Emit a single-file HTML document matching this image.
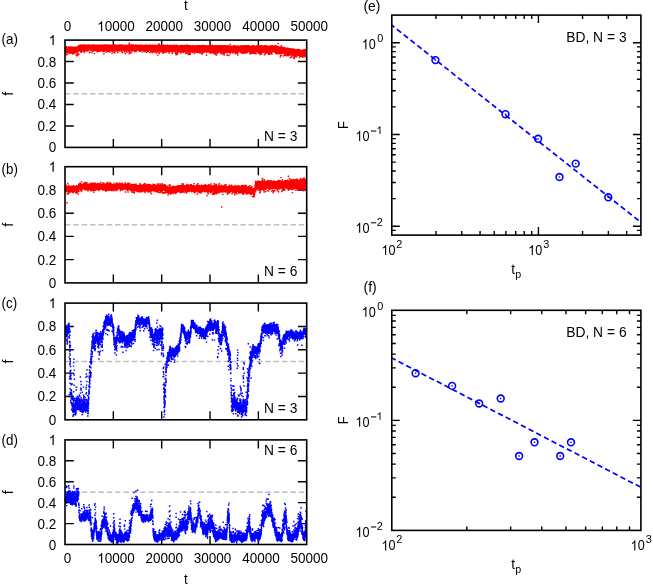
<!DOCTYPE html>
<html><head><meta charset="utf-8"><title>figure</title>
<style>html,body{margin:0;padding:0;background:#fff}svg{display:block;will-change:transform}text{font-family:"Liberation Sans", sans-serif;fill:#000}</style>
</head><body>
<svg width="653" height="585" viewBox="0 0 653 585">
<rect width="653" height="585" fill="#fff"/>
<path d="M65 125.94h8.8M306.7 125.94h-8.8M65 104.48h8.8M306.7 104.48h-8.8M65 83.02h8.8M306.7 83.02h-8.8M65 61.56h8.8M306.7 61.56h-8.8M113.34 147.4v-8.5M113.34 40.1v8.5M161.68 147.4v-8.5M161.68 40.1v8.5M210.02 147.4v-8.5M210.02 40.1v8.5M258.36 147.4v-8.5M258.36 40.1v8.5" stroke="#000" stroke-width="1.4" fill="none"/>
<path d="M65 93.75H306.7" stroke="#bebebe" stroke-width="1.4" stroke-dasharray="5.45 2.9" fill="none"/>
<path d="M65 259.66h8.8M306.7 259.66h-8.8M65 236.42h8.8M306.7 236.42h-8.8M65 213.18h8.8M306.7 213.18h-8.8M65 189.94h8.8M306.7 189.94h-8.8M113.34 282.9v-8.5M113.34 166.7v8.5M161.68 282.9v-8.5M161.68 166.7v8.5M210.02 282.9v-8.5M210.02 166.7v8.5M258.36 282.9v-8.5M258.36 166.7v8.5" stroke="#000" stroke-width="1.4" fill="none"/>
<path d="M65 224.8H306.7" stroke="#bebebe" stroke-width="1.4" stroke-dasharray="5.45 2.9" fill="none"/>
<path d="M65 396.46h8.8M306.7 396.46h-8.8M65 373.12h8.8M306.7 373.12h-8.8M65 349.78h8.8M306.7 349.78h-8.8M65 326.44h8.8M306.7 326.44h-8.8M113.34 419.8v-8.5M113.34 303.1v8.5M161.68 419.8v-8.5M161.68 303.1v8.5M210.02 419.8v-8.5M210.02 303.1v8.5M258.36 419.8v-8.5M258.36 303.1v8.5" stroke="#000" stroke-width="1.4" fill="none"/>
<path d="M65 361.45H306.7" stroke="#bebebe" stroke-width="1.4" stroke-dasharray="5.45 2.9" fill="none"/>
<path d="M65 523.58h8.8M306.7 523.58h-8.8M65 502.66h8.8M306.7 502.66h-8.8M65 481.74h8.8M306.7 481.74h-8.8M65 460.82h8.8M306.7 460.82h-8.8M113.34 544.5v-8.5M113.34 439.9v8.5M161.68 544.5v-8.5M161.68 439.9v8.5M210.02 544.5v-8.5M210.02 439.9v8.5M258.36 544.5v-8.5M258.36 439.9v8.5" stroke="#000" stroke-width="1.4" fill="none"/>
<path d="M65 492.2H306.7" stroke="#bebebe" stroke-width="1.4" stroke-dasharray="5.45 2.9" fill="none"/>
<path d="M65 47.2L65.7 47L66.4 47L67.1 47L67.8 46.8L68.5 46.8L69.2 47.1L69.9 47.2L70.6 47L71.3 46.8L72 47L72.7 47.2L73.4 47.2L74.1 47L74.8 46.7L75.5 47.1L76.2 47.1L76.9 47L77.6 46.9L78.3 46L79 44.9L79.7 45.1L80.4 45L81.1 44.6L81.8 45.1L82.5 44.8L83.2 44.8L83.9 45L84.6 44.7L85.3 44.8L86 45L86.7 44.7L87.4 44.7L88.1 44.8L88.8 44.6L89.5 44.9L90.2 45L90.9 45.1L91.6 44.8L92.3 44.6L93 44.7L93.7 44.8L94.4 44.7L95.1 44.9L95.8 45L96.5 44.9L97.2 44.6L97.9 44.6L98.6 45.1L99.3 45L100 44.9L100.7 44.6L101.4 45L102.1 44.9L102.8 45L103.5 44.6L104.2 45L104.9 44.9L105.6 44.9L106.3 44.6L107 45.1L107.7 44.8L108.4 45L109.1 45L109.8 44.6L110.5 44.9L111.2 45.1L111.9 44.8L112.6 44.9L113.3 44.6L114 44.7L114.7 45L115.4 44.9L116.1 44.9L116.8 44.7L117.5 44.9L118.2 44.7L118.9 44.8L119.6 44.6L120.3 44.6L121 44.9L121.7 45L122.4 45.1L123.1 44.7L123.8 45.1L124.5 44.9L125.2 45.1L125.9 45.2L126.6 44.9L127.3 44.9L128 45L128.7 45.2L129.4 44.7L130.1 45L130.8 44.9L131.5 44.8L132.2 45.1L132.9 45.1L133.6 44.9L134.3 45.1L135 44.9L135.7 45.2L136.4 45.2L137.1 44.8L137.8 44.9L138.5 45.2L139.2 44.7L139.9 44.7L140.6 44.8L141.3 45.2L142 44.9L142.7 45.2L143.4 44.8L144.1 45.1L144.8 44.9L145.5 45L146.2 45L146.9 44.9L147.6 45.3L148.3 45.1L149 45.2L149.7 45.1L150.4 44.8L151.1 45.2L151.8 45.2L152.5 45L153.2 45.1L153.9 45.2L154.6 45.2L155.3 45.2L156 45.4L156.7 45.1L157.4 45L158.1 45.2L158.8 45.2L159.5 44.9L160.2 45.1L160.9 45L161.6 45L162.3 44.9L163 45L163.7 45.3L164.4 45.2L165.1 45.3L165.8 45.4L166.5 45.1L167.2 45.1L167.9 45.5L168.6 45.1L169.3 45L170 45.3L170.7 45.1L171.4 45.4L172.1 45.3L172.8 45.2L173.5 45.4L174.2 45.3L174.9 45.4L175.6 45.2L176.3 45.1L177 45.6L177.7 45.1L178.4 45.4L179.1 45.2L179.8 45.5L180.5 45.4L181.2 45.1L181.9 45.2L182.6 45.3L183.3 45.4L184 45.6L184.7 45.4L185.4 45.1L186.1 45.6L186.8 45.7L187.5 45.6L188.2 45.3L188.9 45.2L189.6 45.2L190.3 45.2L191 45.7L191.7 45.4L192.4 45.3L193.1 45.5L193.8 45.4L194.5 45.7L195.2 45.6L195.9 45.7L196.6 45.5L197.3 45.4L198 45.3L198.7 45.6L199.4 45.5L200.1 45.2L200.8 45.4L201.5 45.4L202.2 45.8L202.9 45.5L203.6 45.7L204.3 45.8L205 45.2L205.7 45.5L206.4 45.8L207.1 45.4L207.8 45.5L208.5 45.6L209.2 45.4L209.9 45.3L210.6 45.8L211.3 45.2L212 45.4L212.7 45.2L213.4 45.8L214.1 45.8L214.8 45.4L215.5 45.6L216.2 45.6L216.9 45.8L217.6 45.8L218.3 45.3L219 45.2L219.7 45.2L220.4 45.6L221.1 45.3L221.8 45.7L222.5 45.3L223.2 45.5L223.9 45.5L224.6 45.4L225.3 45.4L226 45.5L226.7 45.9L227.4 45.6L228.1 45.6L228.8 45.9L229.5 45.6L230.2 45.8L230.9 45.7L231.6 45.8L232.3 45.8L233 45.5L233.7 45.5L234.4 45.6L235.1 45.4L235.8 45.6L236.5 45.4L237.2 45.6L237.9 45.8L238.6 45.4L239.3 45.5L240 45.8L240.7 45.4L241.4 45.8L242.1 45.6L242.8 45.6L243.5 45.6L244.2 45.7L244.9 45.5L245.6 45.5L246.3 45.6L247 45.4L247.7 45.9L248.4 45.4L249.1 45.4L249.8 45.8L250.5 45.9L251.2 45.6L251.9 45.7L252.6 45.4L253.3 45.6L254 45.6L254.7 45.4L255.4 45.9L256.1 45.4L256.8 45.4L257.5 45.8L258.2 45.6L258.9 45.4L259.6 45.7L260.3 45.8L261 45.5L261.7 45.5L262.4 45.4L263.1 45.8L263.8 45.7L264.5 45.8L265.2 45.9L265.9 45.7L266.6 45.6L267.3 45.6L268 45.8L268.7 45.9L269.4 45.8L270.1 45.6L270.8 45.5L271.5 45.5L272.2 45.5L272.9 45.5L273.6 46L274.3 45.7L275 45.8L275.7 46L276.4 46.1L277.1 46.1L277.8 46.2L278.5 46.3L279.2 46.7L279.9 46.9L280.6 46.9L281.3 47L282 46.9L282.7 47.1L283.4 47.1L284.1 47.2L284.8 47.7L285.5 47.5L286.2 47.7L286.9 48.1L287.6 48L288.3 48.4L289 48.1L289.7 48.2L290.4 48.3L291.1 48.8L291.8 48.7L292.5 48.9L293.2 49.2L293.9 48.8L294.6 49.3L295.3 49.1L296 49.1L296.7 49.2L297.4 49.3L298.1 49.7L298.8 49.5L299.5 49.3L300.2 49.4L300.9 49.9L301.6 49.9L302.3 49.7L303 49.6L303.7 49.7L304.4 49.6L305.1 49.4L305.8 50L306.5 49.5L306.5 56.2L305.8 56.2L305.1 56.1L304.4 56.1L303.7 55.8L303 55.3L302.3 56L301.6 55.3L300.9 55.7L300.2 55.7L299.5 56L298.8 55.3L298.1 55.2L297.4 55.2L296.7 55.3L296 55.2L295.3 55L294.6 54.7L293.9 54.9L293.2 55.3L292.5 55.1L291.8 54.6L291.1 55L290.4 54.3L289.7 54.3L289 54.5L288.3 53.8L287.6 54.3L286.9 54.4L286.2 53.7L285.5 53.5L284.8 54L284.1 53.4L283.4 53.7L282.7 53L282 53.4L281.3 52.9L280.6 53.2L279.9 52.6L279.2 53.3L278.5 52.3L277.8 52.6L277.1 52.3L276.4 52L275.7 51.8L275 51.7L274.3 51.6L273.6 52.4L272.9 52.5L272.2 52.1L271.5 52.1L270.8 51.6L270.1 51.8L269.4 52.3L268.7 51.9L268 52.5L267.3 52.5L266.6 51.7L265.9 52.2L265.2 51.6L264.5 52.4L263.8 51.6L263.1 52.5L262.4 52.2L261.7 52.1L261 51.8L260.3 52L259.6 52.4L258.9 51.8L258.2 52.1L257.5 52.1L256.8 52.2L256.1 52.2L255.4 51.7L254.7 51.8L254 52.3L253.3 51.6L252.6 52.1L251.9 52.1L251.2 51.7L250.5 52.3L249.8 51.8L249.1 51.8L248.4 51.8L247.7 51.7L247 51.6L246.3 52.3L245.6 52.1L244.9 52.2L244.2 51.8L243.5 52.4L242.8 51.7L242.1 51.9L241.4 52.4L240.7 51.7L240 52.4L239.3 51.7L238.6 51.7L237.9 52.4L237.2 52.1L236.5 51.9L235.8 51.9L235.1 51.5L234.4 51.6L233.7 51.9L233 52.2L232.3 52.2L231.6 52.3L230.9 51.9L230.2 51.6L229.5 52L228.8 51.4L228.1 51.8L227.4 51.6L226.7 51.7L226 51.7L225.3 51.8L224.6 52L223.9 51.6L223.2 51.7L222.5 51.9L221.8 51.4L221.1 52.1L220.4 52.2L219.7 52L219 51.5L218.3 51.8L217.6 52.2L216.9 51.8L216.2 51.8L215.5 52.1L214.8 51.4L214.1 52.1L213.4 51.7L212.7 51.9L212 51.9L211.3 51.7L210.6 52.2L209.9 51.6L209.2 52.1L208.5 51.4L207.8 51.5L207.1 51.6L206.4 51.4L205.7 51.6L205 51.4L204.3 51.7L203.6 51.7L202.9 51.9L202.2 51.3L201.5 51.8L200.8 51.3L200.1 51.5L199.4 51.3L198.7 51.4L198 51.2L197.3 51.8L196.6 51.8L195.9 51.8L195.2 51.2L194.5 51.9L193.8 51.4L193.1 51.6L192.4 51.9L191.7 51.6L191 51.8L190.3 51.6L189.6 51.6L188.9 51.4L188.2 51.8L187.5 51.4L186.8 51.5L186.1 51.7L185.4 51.1L184.7 51.7L184 51.7L183.3 51.7L182.6 51.4L181.9 51.4L181.2 51.7L180.5 51.7L179.8 51L179.1 51.7L178.4 50.9L177.7 51.4L177 51.7L176.3 51.3L175.6 51.6L174.9 51.4L174.2 51.6L173.5 51.1L172.8 51.4L172.1 51.5L171.4 51.5L170.7 51.4L170 50.8L169.3 50.8L168.6 50.9L167.9 51.1L167.2 51.4L166.5 51.3L165.8 51.4L165.1 51.4L164.4 50.9L163.7 51.3L163 51L162.3 51.3L161.6 51L160.9 50.7L160.2 51L159.5 50.6L158.8 50.9L158.1 51.1L157.4 51.1L156.7 50.7L156 50.8L155.3 51.2L154.6 50.7L153.9 50.7L153.2 50.4L152.5 51.1L151.8 51.1L151.1 50.8L150.4 51L149.7 51.2L149 50.7L148.3 51L147.6 51.1L146.9 51L146.2 50.8L145.5 50.8L144.8 50.3L144.1 51.1L143.4 50.9L142.7 50.7L142 51L141.3 50.4L140.6 50.3L139.9 50.8L139.2 50.8L138.5 50.7L137.8 50.6L137.1 50.4L136.4 51L135.7 50.6L135 50.6L134.3 50.3L133.6 50.4L132.9 50.8L132.2 50.9L131.5 50.4L130.8 50.8L130.1 50.5L129.4 50.5L128.7 50.8L128 50.6L127.3 50.5L126.6 50.8L125.9 50.4L125.2 50.8L124.5 50.5L123.8 50.8L123.1 50.5L122.4 50.8L121.7 50.2L121 50.2L120.3 50.6L119.6 50.4L118.9 50.2L118.2 50.1L117.5 50.5L116.8 50L116.1 50.5L115.4 50.5L114.7 50.1L114 50.4L113.3 50.2L112.6 50.6L111.9 50.5L111.2 50.1L110.5 50L109.8 50.3L109.1 50.4L108.4 50.3L107.7 50.4L107 50.4L106.3 50.4L105.6 50.4L104.9 50.3L104.2 50.1L103.5 50.1L102.8 50.5L102.1 50.4L101.4 50L100.7 50.1L100 50L99.3 50L98.6 50.6L97.9 50.5L97.2 50.1L96.5 50.6L95.8 50.2L95.1 50.5L94.4 50.7L93.7 50L93 50.3L92.3 50.5L91.6 50L90.9 50.2L90.2 50.7L89.5 50.1L88.8 50.7L88.1 50.4L87.4 50.1L86.7 50.3L86 50.6L85.3 50.1L84.6 50L83.9 50.2L83.2 50.6L82.5 50.3L81.8 50.4L81.1 50.3L80.4 50.5L79.7 50.3L79 50.3L78.3 50.9L77.6 51.8L76.9 52.2L76.2 52.3L75.5 52L74.8 51.9L74.1 52.5L73.4 51.8L72.7 51.9L72 51.8L71.3 51.8L70.6 52L69.9 51.9L69.2 52.3L68.5 52L67.8 51.7L67.1 52.2L66.4 51.8L65.7 52.1L65 52Z" fill="#ff0000"/>
<g transform="scale(.1)"><path d="m654 481h0m1 39h0m0-32h0m1 30h0m0-33h0m1-12h0m0 24h0m1-23h0m0 20h0m1 8h0m0-11h0m1-11h0m0 49h0m1-7h0m0 1h0m0-13h0m1-37h0m0 28h0m1-4h0m0-3h0m1-7h0m0-19h0m1 19h0m0 60h0m1-46h0m0 17h0m1-22h0m0 23h0m1-24h0m0 0h0m1-24h0m0 16h0m1 20h0m0-10h0m1 4h0m0 6h0m1-5h0m0-11h0m1-3h0m0 36h0m1-23h0m0-16h0m0 12h0m1 6h0m0-13h0m1 18h0m0 2h0m1 31h0m0-21h0m1-31h0m0-12h0m1 14h0m0-4h0m1 0h0m0-11h0m1 16h0m0-7h0m1 14h0m0-12h0m1 12h0m0-2h0m1-4h0m0-10h0m1 20h0m0-8h0m1 3h0m0-11h0m1 25h0m0-26h0m0-13h0m1 31h0m0-11h0m1-17h0m0 17h0m1 16h0m0-12h0m1-7h0m0 35h0m1-49h0m0 29h0m1-21h0m0 27h0m1-26h0m0 3h0m1 31h0m0-5h0m1-13h0m0 32h0m1-55h0m0 41h0m1-6h0m0-21h0m1 3h0m0 18h0m1-20h0m0 28h0m0-35h0m1-3h0m0 18h0m1-21h0m0 26h0m1-21h0m0 17h0m1 24h0m0-56h0m1 44h0m0-14h0m1 31h0m0-49h0m1 2h0m0 4h0m1 9h0m0 21h0m1-6h0m0-38h0m1 28h0m0-29h0m1 37h0m0-15h0m1-10h0m0-5h0m1-4h0m0 44h0m1-6h0m0-40h0m0 16h0m1 5h0m0 30h0m1-35h0m0 22h0m1 9h0m0-26h0m1-8h0m0-7h0m1 40h0m0-36h0m1 46h0m0-45h0m1 37h0m0-33h0m1-2h0m0 11h0m1-23h0m0 17h0m1-21h0m0 29h0m1 17h0m0-23h0m1-22h0m0 17h0m1 5h0m0-9h0m0 16h0m1 11h0m0 29h0m1-54h0m0 24h0m1-12h0m0 32h0m1-21h0m0 12h0m1-35h0m0-14h0m1 46h0m0-29h0m1 31h0m0-44h0m1 13h0m0 34h0m1-45h0m0 57h0m1-51h0m0 20h0m1 22h0m0-45h0m1 18h0m0 27h0m1-49h0m0 8h0m0 6h0m1 11h0m0-1h0m1-5h0m0 13h0m1-20h0m0 22h0m1 3h0m0-25h0m1 23h0m0 18h0m1-7h0m0-31h0m1-9h0m0 18h0m1-16h0m0-8h0m1 20h0m0-25h0m1 51h0m0-39h0m1 12h0m0-8h0m1-14h0m0 20h0m1 5h0m0-11h0m0-11h0m1 42h0m0-30h0m1-2h0m0-7h0m1-1h0m0 14h0m1 23h0m0 1h0m1-45h0m0 17h0m1 35h0m0-19h0m1-19h0m0-14h0m1 9h0m0 34h0m1 33h0m0-57h0m1-17h0m0 16h0m1 37h0m0-49h0m1 14h0m0 27h0m1-37h0m0 15h0m1 14h0m0-7h0m0-30h0m1 35h0m0 6h0m1 41h0m0-43h0m1-22h0m0-16h0m1 20h0m0 4h0m1-9h0m0-5h0m1-6h0m0 64h0m1 7h0m0-34h0m1-39h0m0 17h0m1-8h0m0 18h0m1 14h0m0-47h0m1 35h0m0-9h0m1 7h0m0-11h0m1-15h0m0 2h0m0 7h0m1-20h0m0 4h0m1 1h0m0 64h0m1-52h0m0-23h0m1 75h0m0-62h0m1-8h0m0 28h0m1-31h0m0 5h0m1 22h0m0-9h0m1 27h0m0 37h0m1-92h0m0 23h0m1-22h0m0 34h0m1-9h0m0 21h0m1-3h0m0-26h0m1-11h0m0 4h0m0 36h0m1-40h0m0 9h0m1 17h0m0 2h0m1 1h0m0 4h0m1-21h0m0-17h0m1 44h0m0-28h0m1 6h0m0 18h0m1-34h0m0 46h0m1-46h0m0 20h0m1-10h0m0-13h0m1 47h0m0-19h0m1-20h0m0 13h0m1 7h0m0-5h0m1-15h0m0 12h0m0-21h0m1 59h0m0-66h0m1 31h0m0 32h0m1-47h0m0 21h0m1 1h0m0-3h0m1 23h0m0 4h0m1-25h0m0-14h0m1 3h0m0 24h0m1 22h0m0-26h0m1-39h0m0 17h0m1-21h0m0 17h0m1 12h0m0-6h0m1-1h0m0-2h0m1 1h0m0 29h0m0-17h0m1 20h0m0-19h0m1 20h0m0-12h0m1-30h0m0-11h0m1 30h0m0 9h0m1-33h0m0 0h0m1 10h0m0 20h0m1-20h0m0 9h0m1 17h0m0-23h0m1 28h0m0-29h0m1-5h0m0 6h0m1 8h0m0-7h0m1 3h0m0-3h0m1 36h0m0-20h0m1-41h0m0 40h0m0-31h0m1 16h0m0-25h0m1 44h0m0-2h0m1-38h0m0 22h0m1 19h0m0-26h0m1 16h0m0-16h0m1 9h0m0 26h0m1-40h0m0 23h0m1-11h0m0-13h0m1 10h0m0 7h0m1-18h0m0 63h0m1-15h0m0-22h0m1 27h0m0-63h0m1 19h0m0 17h0m0-18h0m1 9h0m0 5h0m1-4h0m0 0h0m1 14h0m0-33h0m1 38h0m0-24h0m1 4h0m0-26h0m1 28h0m0 11h0m1-6h0m0-2h0m1-16h0m0 31h0m1 7h0m0-12h0m1-25h0m0-12h0m1 22h0m0 28h0m1-24h0m0-8h0m1-10h0m0-10h0m0 42h0m1-27h0m0 16h0m1-25h0m0 33h0m1-23h0m0 8h0m1 6h0m0-3h0m1 11h0m0-24h0m1 16h0m0-12h0m1 21h0m0-7h0m1 2h0m0 19h0m1-37h0m0-15h0m1 18h0m0 1h0m1 7h0m0-19h0m1 23h0m0-18h0m1-8h0m0 40h0m0-20h0m1-21h0m0 11h0m1-3h0m0 43h0m1-42h0m0 5h0m1-16h0m0-2h0m1 32h0m0-9h0m1 28h0m0-40h0m1 21h0m0 9h0m1-29h0m0 11h0m1 12h0m0-36h0m1-2h0m0 42h0m1 6h0m0-11h0m1-13h0m0-20h0m1 44h0m0-40h0m1 37h0m0-32h0m0-12h0m1 3h0m0 47h0m1-18h0m0-16h0m1 29h0m0-17h0m1 3h0m0-9h0m1 13h0m0-35h0m1 12h0m0 7h0m1 5h0m0-7h0m1 4h0m0 50h0m1-59h0m0 16h0m1-25h0m0 37h0m1-21h0m0-7h0m1 58h0m0-64h0m1 14h0m0-22h0m0 39h0m1-29h0m0 5h0m1 19h0m0-13h0m1-15h0m0 36h0m1-34h0m0 1h0m1 1h0m0 5h0m1 21h0m0-14h0m1 1h0m0-2h0m1 26h0m0-10h0m1 2h0m0-6h0m1-2h0m0-22h0m1 40h0m0-44h0m1 23h0m0-5h0m1 9h0m0-7h0m0 12h0m1-33h0m0 21h0m1-16h0m0 8h0m1 20h0m0 7h0m1 5h0m0-37h0m1 62h0m0-61h0m1 1h0m0 10h0m1-3h0m0 1h0m1 17h0m0 7h0m1-41h0m0 26h0m1-13h0m0 5h0m1 23h0m0-6h0m1-17h0m0-15h0m1 51h0m0-35h0m0 3h0m1 9h0m0 5h0m1-9h0m0-11h0m1 4h0m0 14h0m1-15h0m0 17h0m1-25h0m0-8h0m1 14h0m0-7h0m1 10h0m0-2h0m1-8h0m0 16h0m1-10h0m0-22h0m1 28h0m0-1h0m1-2h0m0-12h0m1 42h0m0-25h0m1 20h0m0-37h0m1 27h0m0 21h0m0-16h0m1-27h0m0 6h0m1 9h0m0 4h0m1-14h0m0 20h0m1 43h0m0-43h0m1-21h0m0-17h0m1 31h0m0-20h0m1 12h0m0-24h0m1 24h0m0-23h0m1 43h0m0-15h0m1-20h0m0 19h0m1-16h0m0 8h0m1-12h0m0 14h0m1-12h0m0-1h0m0 35h0m1-38h0m0 18h0m1 4h0m0-9h0m1 8h0m0 25h0m1-32h0m0 10h0m1-11h0m0 21h0m1-33h0m0 24h0m1-18h0m0 20h0m1-34h0m0 9h0m1 20h0m0 7h0m1 3h0m0-24h0m1 20h0m0-4h0m1-20h0m0 22h0m1 17h0m0 2h0m0-44h0m1 20h0m0 1h0m1 21h0m0-10h0m1-17h0m0 24h0m1-10h0m0-8h0m1 21h0m0-41h0m1 56h0m0-45h0m1 18h0m0-1h0m1-29h0m0 47h0m1-40h0m0 25h0m1 18h0m0-41h0m1 3h0m0 3h0m1 19h0m0-20h0m1 16h0m0 3h0m0-38h0m1 29h0m0-19h0m1 17h0m0 13h0m1-24h0m0 21h0m1 1h0m0-11h0m1 7h0m0-14h0m1-8h0m0 4h0m1-2h0m0 9h0m1 30h0m0-21h0m1-33h0m0 10h0m1 47h0m0-11h0m1-25h0m0 8h0m1-10h0m0-7h0m1 37h0m0-1h0m1-29h0m0 23h0m0-22h0m1-19h0m0-3h0m1 48h0m0 12h0m1-42h0m0 7h0m1-14h0m0 20h0m1-18h0m0-9h0m1 38h0m0-6h0m1-20h0m0 29h0m1-26h0m0 28h0m1 10h0m0-40h0m1-15h0m0 11h0m1-10h0m0 7h0m1 15h0m0 17h0m1-19h0m0-16h0m0 9h0m1-3h0m0-2h0m1 43h0m0-25h0m1 22h0m0-16h0m1-32h0m0 8h0m1 10h0m0-2h0m1-9h0m0 13h0m1 3h0m0-13h0m1-9h0m0 9h0m1 12h0m0-11h0m1 4h0m0-19h0m1 24h0m0-20h0m1 18h0m0 22h0m1-25h0m0 17h0m0-4h0m1-4h0m0 13h0m1-23h0m0 35h0m1-32h0m0-6h0m1 12h0m0 17h0m1-9h0m0-21h0m1 0h0m0 10h0m1-16h0m0 6h0m1 36h0m0-31h0m1 26h0m0-15h0m1 32h0m0-51h0m1 34h0m0-26h0m1-18h0m0 39h0m1-7h0m0-21h0m0 40h0m1-11h0m0-20h0m1 25h0m0-43h0m1 46h0m0 13h0m1-48h0m0-15h0m1 38h0m0-29h0m1 11h0m0-13h0m1 15h0m0 31h0m1-41h0m0 76h0m1-81h0m0 12h0m1 45h0m0-43h0m1 9h0m0 28h0m1-18h0m0-24h0m1 7h0m0-21h0m0 15h0m1 5h0m0 26h0m1-27h0m0-2h0m1-6h0m0 7h0m1-5h0m0 38h0m1-26h0m0 8h0m1-24h0m0 25h0m1-6h0m0-1h0m1-20h0m0 26h0m1-37h0m0 42h0m1-32h0m0 29h0m1-1h0m0-1h0m1 4h0m0-21h0m1 30h0m0-36h0m1 17h0m0 10h0m0-23h0m1-5h0m0 59h0m1-20h0m0-7h0m1-33h0m0 19h0m1-16h0m0 22h0m1-10h0m0-22h0m1 22h0m0 20h0m1-32h0m0 21h0m1-14h0m0 18h0m1-8h0m0 19h0m1-27h0m0 18h0m1-1h0m0-2h0m1 30h0m0-67h0m1 43h0m0-24h0m0 26h0m1-12h0m0-18h0m1 18h0m0 18h0m1-34h0m0 25h0m1-16h0m0-10h0m1 8h0m0 5h0m1-28h0m0 21h0m1 18h0m0-5h0m1-13h0m0 13h0m1 0h0m0-26h0m1 26h0m0-10h0m1-10h0m0 34h0m1 14h0m0-62h0m1 1h0m0 43h0m0 10h0m1-45h0m0 6h0m1-1h0m0 13h0m1 2h0m0-15h0m1-12h0m0 19h0m1 10h0m0-6h0m1-13h0m0 41h0m1-50h0m0 8h0m1 23h0m0-9h0m1 20h0m0-8h0m1-7h0m0-9h0m1 28h0m0-13h0m1-24h0m0 21h0m1-12h0m0 6h0m0 40h0m1-64h0m0 7h0m1 30h0m0-7h0m1 6h0m0 9h0m1-24h0m0-10h0m1 15h0m0 30h0m1-22h0m0-9h0m1-23h0m0 8h0m1 15h0m0-4h0m1 18h0m0-38h0m1-2h0m0-3h0m1 51h0m0-51h0m1 56h0m0-15h0m1-7h0m0 5h0m1-21h0m0-4h0m0 20h0m1-19h0m0-9h0m1 10h0m0 30h0m1-25h0m0-8h0m1-4h0m0 38h0m1-38h0m0 23h0m1-8h0m0 2h0m1 11h0m0-5h0m1 9h0m0 4h0m1 14h0m0-17h0m1 39h0m0-41h0m1-16h0m0 4h0m1-3h0m0-7h0m1 12h0m0 14h0m0-40h0m1 18h0m0-7h0m1 8h0m0 10h0m1 9h0m0-39h0m1 20h0m0-20h0m1 20h0m0 29h0m1-46h0m0 56h0m1-58h0m0 53h0m1-29h0m0-18h0m1 17h0m0-21h0m1 19h0m0 0h0m1 16h0m0-12h0m1 37h0m0-57h0m1 3h0m0 44h0m0-2h0m1-52h0m0 24h0m1-14h0m0 10h0m1 21h0m0-12h0m1 20h0m0-17h0m1-16h0m0-14h0m1-1h0m0-4h0m1 5h0m0 18h0m1 54h0m0-35h0m1-20h0m0-13h0m1 10h0m0 21h0m1-22h0m0 28h0m1-36h0m0 66h0m1-40h0m0-4h0m0 8h0m1-40h0m0 23h0m1 30h0m0-16h0m1 24h0m0-51h0m1 12h0m0-20h0m1 21h0m0-18h0m1 50h0m0-29h0m1-25h0m0 6h0m1 21h0m0-3h0m1 22h0m0-6h0m1-1h0m0-21h0m1 0h0m0 42h0m1-28h0m0 2h0m1 6h0m0-22h0m1 6h0m0 16h0m0 1h0m1-8h0m0-9h0m1-2h0m0-12h0m1 42h0m0-42h0m1-3h0m0 15h0m1-1h0m0 10h0m1-5h0m0-2h0m1 21h0m0-38h0m1-1h0m0 11h0m1 19h0m0-14h0m1 21h0m0-11h0m1 12h0m0-28h0m1 4h0m0-1h0m1-6h0m0 9h0m0 28h0m1 6h0m0 17h0m1-57h0m0-3h0m1 10h0m0 14h0m1 1h0m0-3h0m1-27h0m0 48h0m1-18h0m0-37h0m1 29h0m0-10h0m1 6h0m0-12h0m1 6h0m0 18h0m1-14h0m0 3h0m1 0h0m0 13h0m1-3h0m0 14h0m1-8h0m0 4h0m0 0h0m1-26h0m0-15h0m1 9h0m0-3h0m1 1h0m0 10h0m1-18h0m0 22h0m1 5h0m0 15h0m1-38h0m0 17h0m1 15h0m0 9h0m1-16h0m0 14h0m1 10h0m0-29h0m1-28h0m0 21h0m1 0h0m0-12h0m1 38h0m0-40h0m1 34h0m0-27h0m0 17h0m1-13h0m0-8h0m1-6h0m0 13h0m1-3h0m0-3h0m1 18h0m0-8h0m1 21h0m0-23h0m1-11h0m0 21h0m1-22h0m0 29h0m1-33h0m0 4h0m1-8h0m0 11h0m1-6h0m0 40h0m1-17h0m0-17h0m1 11h0m0-1h0m1 22h0m0-16h0m1 16h0m0-31h0m0-14h0m1 65h0m0-40h0m1 7h0m0 1h0m1-18h0m0 45h0m1-33h0m0 13h0m1-9h0m0-17h0m1 61h0m0-34h0m1-1h0m0 37h0m1-62h0m0 26h0m1 13h0m0-48h0m1 2h0m0 10h0m1 1h0m0 24h0m1-9h0m0 8h0m1 4h0m0 2h0m0-34h0m1-3h0m0 20h0m1 6h0m0 14h0m1-23h0m0 17h0m1-13h0m0-2h0m1-19h0m0 10h0m1 24h0m0-39h0m1 36h0m0-22h0m1 12h0m0-17h0m1 30h0m0-27h0m1 3h0m0 25h0m1 2h0m0-9h0m1 3h0m0-17h0m1 43h0m0-22h0m0-39h0m1 36h0m0-6h0m1-31h0m0 32h0m1-2h0m0-11h0m1-12h0m0 15h0m1 29h0m0-28h0m1-4h0m0-8h0m1 6h0m0 37h0m1-40h0m0 34h0m1-28h0m0 15h0m1-6h0m0 50h0m1-75h0m0 32h0m1-26h0m0 34h0m1-10h0m0 18h0m0-22h0m1-14h0m0-7h0m1 37h0m0-44h0m1 6h0m0 13h0m1 10h0m0 5h0m1-3h0m0 4h0m1-30h0m0 21h0m1 9h0m0-26h0m1 7h0m0-20h0m1 25h0m0 30h0m1-49h0m0 27h0m1 12h0m0-25h0m1 12h0m0-16h0m1 54h0m0-48h0m0 10h0m1-22h0m0 34h0m1-36h0m0 21h0m1 14h0m0-26h0m1-1h0m0 17h0m1-8h0m0 1h0m1-13h0m0 19h0m1-22h0m0-7h0m1 17h0m0 1h0m1 7h0m0 0h0m1 2h0m0 10h0m1 1h0m0-7h0m1-6h0m0-17h0m1 26h0m0-36h0m1 47h0m0-8h0m0-17h0m1 18h0m0 4h0m1-3h0m0 6h0m1 11h0m0-44h0m1-4h0m0-14h0m1 39h0m0-23h0m1-1h0m0 24h0m1 8h0m0 19h0m1-55h0m0 15h0m1 24h0m0-8h0m1 46h0m0-105h0m1 35h0m0 15h0m1 38h0m0-12h0m1-9h0m0-31h0m0-11h0m1 16h0m0 21h0m1 7h0m0-36h0m1 19h0m0-32h0m1 50h0m0-17h0m1 1h0m0-20h0m1 10h0m0-27h0m1 21h0m0-3h0m1 59h0m0-43h0m1-11h0m0 23h0m1-23h0m0 23h0m1-24h0m0 8h0m1 50h0m0-54h0m1-19h0m0 11h0m0 8h0m1-12h0m0-10h0m1 37h0m0-9h0m1-22h0m0 36h0m1-22h0m0-12h0m1 21h0m0 32h0m1-46h0m0 43h0m1-21h0m0-23h0m1-18h0m0 17h0m1 49h0m0-14h0m1-26h0m0-26h0m1 22h0m0 2h0m1-8h0m0 7h0m1-8h0m0 9h0m0-6h0m1 7h0m0-4h0m1 2h0m0 24h0m1-32h0m0 33h0m1-15h0m0 4h0m1-8h0m0-17h0m1 35h0m0-27h0m1 31h0m0-1h0m1-26h0m0 7h0m1-4h0m0 15h0m1-21h0m0-10h0m1-10h0m0 44h0m1-44h0m0-1h0m1 18h0m0 19h0m1-11h0m0 13h0m0 1h0m1-19h0m0-13h0m1 24h0m0-11h0m1 24h0m0-18h0m1-13h0m0 24h0m1-6h0m0-1h0m1 29h0m0-55h0m1 38h0m0-1h0m1-13h0m0 3h0m1-13h0m0 2h0m1 4h0m0 14h0m1-8h0m0 21h0m1-31h0m0-10h0m1 6h0m0 49h0m0-31h0m1-4h0m0-4h0m1-2h0m0 13h0m1 20h0m0-24h0m1 9h0m0-30h0m1 50h0m0-11h0m1-16h0m0 7h0m1-33h0m0 20h0m1 22h0m0-32h0m1 32h0m0-52h0m1 33h0m0 32h0m1-1h0m0-16h0m1-1h0m0-24h0m1 12h0m0-2h0m0-15h0m1 38h0m0-12h0m1 13h0m0-30h0m1-13h0m0 8h0m1-14h0m0-2h0m1 18h0m0 9h0m1-18h0m0-4h0m1 14h0m0 16h0m1-36h0m0 22h0m1 19h0m0-4h0m1-20h0m0-17h0m1 37h0m0-37h0m1 5h0m0 5h0m1-10h0m0 28h0m0-4h0m1 10h0m0 0h0m1-1h0m0-18h0m1-1h0m0 21h0m1-3h0m0-30h0m1 4h0m0 40h0m1-26h0m0-21h0m1 39h0m0 5h0m1-8h0m0-28h0m1 34h0m0 4h0m1-22h0m0-23h0m1 11h0m0 19h0m1-21h0m0 9h0m1 6h0m0-6h0m1 19h0m0-18h0m0 19h0m1-14h0m0 23h0m1-18h0m0-10h0m1-1h0m0-12h0m1 32h0m0-31h0m1 49h0m0-3h0m1-44h0m0-6h0m1 3h0m0 11h0m1 16h0m0-31h0m1-3h0m0 59h0m1-29h0m0 15h0m1 12h0m0-23h0m1-17h0m0 0h0m1-2h0m0-4h0m0 35h0m1-6h0m0-18h0m1-14h0m0-4h0m1-7h0m0 16h0m1 9h0m0 13h0m1 3h0m0 2h0m1-11h0m0-12h0m1 34h0m0-47h0m1 4h0m0 6h0m1 9h0m0-9h0m1 3h0m0 3h0m1-11h0m0 5h0m1 9h0m0 8h0m1 14h0m0-1h0m0 10h0m1-25h0m0 6h0m1-26h0m0 19h0m1-18h0m0-5h0m1 32h0m0-26h0m1 5h0m0 5h0m1-24h0m0 24h0m1 2h0m0-4h0m1 2h0m0 11h0m1 7h0m0-18h0m1-10h0m0 56h0m1-52h0m0-1h0m1 8h0m0 10h0m1-20h0m0 3h0m0-3h0m1 0h0m0 18h0m1-26h0m0 18h0m1 2h0m0 9h0m1-13h0m0 27h0m1-1h0m0-20h0m1 7h0m0 12h0m1-20h0m0 5h0m1-8h0m0 7h0m1-15h0m0 34h0m1-31h0m0 3h0m1 24h0m0-19h0m1-8h0m0-13h0m1 31h0m0 16h0m1 11h0m0-41h0m0 3h0m1 38h0m0-55h0m1 53h0m0-46h0m1-6h0m0 50h0m1-18h0m0-27h0m1 16h0m0-6h0m1-20h0m0 23h0m1-19h0m0 0h0m1 23h0m0-33h0m1 15h0m0 17h0m1-15h0m0 31h0m1 5h0m0-52h0m1 25h0m0 31h0m1-14h0m0-29h0m0 7h0m1 0h0m0 4h0m1 2h0m0-7h0m1 9h0m0-23h0m1 23h0m0 15h0m1 14h0m0-17h0m1-39h0m0 23h0m1-24h0m0 10h0m1 24h0m0-3h0m1-7h0m0-21h0m1 68h0m0-62h0m1 32h0m0-7h0m1-2h0m0-26h0m1 15h0m0 1h0m0 16h0m1-12h0m0 13h0m1-14h0m0 30h0m1-49h0m0-4h0m1 40h0m0-11h0m1 0h0m0 15h0m1-5h0m0-29h0m1-4h0m0 23h0m1 18h0m0-36h0m1 15h0m0-12h0m1-10h0m0 4h0m1-1h0m0 5h0m1-1h0m0 53h0m1-26h0m0-9h0m0 3h0m1-22h0m0 48h0m1-2h0m0-37h0m1 6h0m0 14h0m1-8h0m0 10h0m1-8h0m0 2h0m1-21h0m0 20h0m1-27h0m0 10h0m1 9h0m0-29h0m1 17h0m0 31h0m1-48h0m0 45h0m1-33h0m0-5h0m1 22h0m0 8h0m1 4h0m0-40h0m1 28h0m0-19h0m0 12h0m1-2h0m0 14h0m1-34h0m0 6h0m1 27h0m0-3h0m1 45h0m0-42h0m1 1h0m0 11h0m1 2h0m0-2h0m1-7h0m0 11h0m1-12h0m0-37h0m1 35h0m0-9h0m1 25h0m0-36h0m1 12h0m0-1h0m1 24h0m0 13h0m1-19h0m0-6h0m0-31h0m1 18h0m0 8h0m1 11h0m0-13h0m1-26h0m0 7h0m1 48h0m0-44h0m1-4h0m0 25h0m1 18h0m0-21h0m1 1h0m0 29h0m1-32h0m0-4h0m1 0h0m0 25h0m1-13h0m0-6h0m1-11h0m0 11h0m1-27h0m0 27h0m1-33h0m0 8h0m0 66h0m1-59h0m0 2h0m1 2h0m0-17h0m1 44h0m0-36h0m1 12h0m0 31h0m1-35h0m0 1h0m1-3h0m0-15h0m1 73h0m0-62h0m1 12h0m0 8h0m1-6h0m0-12h0m1 52h0m0-65h0m1-1h0m0 32h0m1-27h0m0 4h0m1 6h0m0-4h0m0 2h0m1 4h0m0 0h0m1 17h0m0-11h0m1 15h0m0-3h0m1-12h0m0 15h0m1-21h0m0-3h0m1 7h0m0-5h0m1 30h0m0-29h0m1 48h0m0-58h0m1 21h0m0 20h0m1-30h0m0 9h0m1-17h0m0-3h0m1 20h0m0-22h0m1 28h0m0 4h0m0-7h0m1 17h0m0 10h0m1-15h0m0-3h0m1-15h0m0 16h0m1-35h0m0 6h0m1 20h0m0-31h0m1 5h0m0 62h0m1-19h0m0-11h0m1 5h0m0 12h0m1-23h0m0-18h0m1 52h0m0-13h0m1-3h0m0-9h0m1 3h0m0-28h0m1-10h0m0 46h0m1-36h0m0 3h0m0 13h0m1-5h0m0 15h0m1 5h0m0-1h0m1-4h0m0 18h0m1-37h0m0 55h0m1-29h0m0-21h0m1 17h0m0-13h0m1-19h0m0-3h0m1-4h0m0 30h0m1-29h0m0 28h0m1-9h0m0 5h0m1 16h0m0-4h0m1-35h0m0 28h0m1-25h0m0 8h0m0 18h0m1-16h0m0 11h0m1 68h0m0-98h0m1 5h0m0 37h0m1-23h0m0 48h0m1-55h0m0 42h0m1-33h0m0 30h0m1-10h0m0 27h0m1-63h0m0 40h0m1-24h0m0 27h0m1-7h0m0 4h0m1-26h0m0 5h0m1 22h0m0-18h0m1 29h0m0-28h0m0 2h0m1 16h0m0 3h0m1 3h0m0-51h0m1-15h0m0 12h0m1 29h0m0-9h0m1 6h0m0 1h0m1-12h0m0 69h0m1-31h0m0 14h0m1-31h0m0 9h0m1-45h0m0 42h0m1 25h0m0-35h0m1-14h0m0 3h0m1 13h0m0 5h0m1-11h0m0 36h0m0-11h0m1-28h0m0 9h0m1-12h0m0 20h0m1-11h0m0 9h0m1 18h0m0-13h0m1 16h0m0-48h0m1 15h0m0-6h0m1 20h0m0 3h0m1-33h0m0 1h0m1 50h0m0-13h0m1-39h0m0-5h0m1 33h0m0 3h0m1-14h0m0 26h0m1-42h0m0 17h0m1-1h0m0 30h0m0 4h0m1-24h0m0 7h0m1-1h0m0 19h0m1-47h0m0 4h0m1 6h0m0-14h0m1 20h0m0-30h0m1 16h0m0 6h0m1 3h0m0-5h0m1 20h0m0-23h0m1 38h0m0 1h0m1-1h0m0 6h0m1 9h0m0-68h0m1 40h0m0-35h0m1 19h0m0 28h0m0-13h0m1-3h0m0-22h0m1 20h0m0 18h0m1-28h0m0-9h0m1-8h0m0 47h0m1-14h0m0 8h0m1-3h0m0-33h0m1 65h0m0-75h0m1-6h0m0 30h0m1-6h0m0 20h0m1 3h0m0-23h0m1 14h0m0 9h0m1-24h0m0 12h0m1-6h0m0 25h0m0-20h0m1-29h0m0 63h0m1-45h0m0 33h0m1-51h0m0 5h0m1 17h0m0-11h0m1 14h0m0 18h0m1-8h0m0-11h0m1-20h0m0 22h0m1-20h0m0 28h0m1-22h0m0 5h0m1-17h0m0 12h0m1 3h0m0 23h0m1-6h0m0 0h0m1-12h0m0 9h0m0-32h0m1 3h0m0 10h0m1 28h0m0-42h0m1 13h0m0 56h0m1-33h0m0 0h0m1 9h0m0-34h0m1 20h0m0-18h0m1 14h0m0 26h0m1-38h0m0 17h0m1 8h0m0-16h0m1-2h0m0 1h0m1 2h0m0 39h0m1-40h0m0 5h0m1-13h0m0 23h0m1 15h0m0-22h0m0-11h0m1 4h0m0 28h0m1-28h0m0-20h0m1 26h0m0 10h0m1 2h0m0-12h0m1 0h0m0-4h0m1 10h0m0 9h0m1-17h0m0-5h0m1-24h0m0 60h0m1-46h0m0 31h0m1-5h0m0-3h0m1 14h0m0-15h0m1-9h0m0-8h0m1-13h0m0 26h0m0-20h0m1 45h0m0-47h0m1 22h0m0 1h0m1 28h0m0-54h0m1 1h0m0 46h0m1-14h0m0-21h0m1 16h0m0 24h0m1-23h0m0-17h0m1 33h0m0-30h0m1 3h0m0-20h0m1 32h0m0-25h0m1 64h0m0-33h0m1-14h0m0 3h0m1 1h0m0 4h0m0-8h0m1-7h0m0 12h0m1 18h0m0-27h0m1 40h0m0-26h0m1-38h0m0 13h0m1 7h0m0-3h0m1 34h0m0-33h0m1 13h0m0-2h0m1-28h0m0 9h0m1-6h0m0 48h0m1-25h0m0-18h0m1 48h0m0-34h0m1-8h0m0-14h0m1 30h0m0 21h0m0-45h0m1 27h0m0-18h0m1 26h0m0-11h0m1-1h0m0 1h0m1-10h0m0-8h0m1 2h0m0 30h0m1-22h0m0-13h0m1 14h0m0 27h0m1-15h0m0 16h0m1-19h0m0-16h0m1 30h0m0-11h0m1 5h0m0-13h0m1 29h0m0-35h0m1-15h0m0 24h0m1-10h0m0-13h0m0 57h0m1-44h0m0 17h0m1-18h0m0-2h0m1-17h0m0 81h0m1-70h0m0 19h0m1-16h0m0 17h0m1-10h0m0-4h0m1-8h0m0-6h0m1 62h0m0-19h0m1-23h0m0-11h0m1 28h0m0-40h0m1 21h0m0-4h0m1 34h0m0-8h0m1-32h0m0 36h0m0-23h0m1 21h0m0-39h0m1 15h0m0-14h0m1 12h0m0 35h0m1-32h0m0 18h0m1-31h0m0 26h0m1-30h0m0 6h0m1 6h0m0 1h0m1 17h0m0-12h0m1 4h0m0 15h0m1-26h0m0 8h0m1 28h0m0-5h0m1-21h0m0-4h0m1 13h0m0-37h0m0 31h0m1 14h0m0-13h0m1-3h0m0 24h0m1-28h0m0-10h0m1 9h0m0 5h0m1 22h0m0-14h0m1 2h0m0-6h0m1 36h0m0-1h0m1-33h0m0-4h0m1-21h0m0 34h0m1 36h0m0-46h0m1 14h0m0-12h0m1-18h0m0 27h0m1-5h0m0-30h0m0 12h0m1 30h0m0-3h0m1 46h0m0-78h0m1 3h0m0-11h0m1 10h0m0 7h0m1-7h0m0 56h0m1-40h0m0-35h0m1 37h0m0-8h0m1 17h0m0-28h0m1-8h0m0 23h0m1-1h0m0-11h0m1 10h0m0 4h0m1-27h0m0 18h0m1 64h0m0-43h0m0-19h0m1-19h0m0 22h0m1 50h0m0-58h0m1 41h0m0-41h0m1 44h0m0-8h0m1-40h0m0 41h0m1-36h0m0 15h0m1-3h0m0-28h0m1-1h0m0 15h0m1 23h0m0-28h0m1 49h0m0-45h0m1 17h0m0 6h0m1-8h0m0-26h0m1 27h0m0-11h0m1-13h0m0 3h0m0 2h0m1 38h0m0 2h0m1-18h0m0-17h0m1 17h0m0-16h0m1-3h0m0 2h0m1 22h0m0 14h0m1-45h0m0 16h0m1 8h0m0-2h0m1-7h0m0-12h0m1 31h0m0-25h0m1 17h0m0-26h0m1 14h0m0-13h0m1 17h0m0 5h0m1-15h0m0 14h0m0-11h0m1 19h0m0-15h0m1 9h0m0 29h0m1-60h0m0 22h0m1 25h0m0-44h0m1-3h0m0 12h0m1-18h0m0 31h0m1-29h0m0 52h0m1 23h0m0-56h0m1 2h0m0 17h0m1-27h0m0-7h0m1 11h0m0 10h0m1-13h0m0 25h0m1 10h0m0-19h0m0-14h0m1 13h0m0-18h0m1 4h0m0 8h0m1-21h0m0 33h0m1 9h0m0-27h0m1 6h0m0 37h0m1-31h0m0-23h0m1 28h0m0 32h0m1-59h0m0 29h0m1-30h0m0 15h0m1 24h0m0 21h0m1-66h0m0 33h0m1-18h0m0 25h0m1-24h0m0 13h0m0 20h0m1-42h0m0 34h0m1-36h0m0 44h0m1 3h0m0-27h0m1 1h0m0 11h0m1 9h0m0-17h0m1 33h0m0-13h0m1-1h0m0-30h0m1 39h0m0-22h0m1 37h0m0-40h0m1 9h0m0-17h0m1 38h0m0-35h0m1-21h0m0 26h0m1-28h0m0 31h0m1 2h0m0 14h0m0 12h0m1-45h0m0-2h0m1-3h0m0 13h0m1 28h0m0-15h0m1 17h0m0-42h0m1-1h0m0 32h0m1 13h0m0 2h0m1-17h0m0-9h0m1-1h0m0-18h0m1-15h0m0 47h0m1-23h0m0-15h0m1 12h0m0-3h0m1 27h0m0-23h0m1-11h0m0 8h0m0 1h0m1 43h0m0-63h0m1 45h0m0-42h0m1 21h0m0 31h0m1-45h0m0 2h0m1-1h0m0 70h0m1-52h0m0 14h0m1-41h0m0 13h0m1 20h0m0 16h0m1 7h0m0-39h0m1 43h0m0-27h0m1-20h0m0 18h0m1 30h0m0-53h0m1 18h0m0 13h0m0-23h0m1 12h0m0-14h0m1 23h0m0-19h0m1-11h0m0 2h0m1 66h0m0-26h0m1-24h0m0 24h0m1-56h0m0 44h0m1 4h0m0-6h0m1-18h0m0 10h0m1-5h0m0 5h0m1-15h0m0 48h0m1-40h0m0 9h0m1-3h0m0-15h0m1 39h0m0 10h0m0-10h0m1-34h0m0 9h0m1 10h0m0 28h0m1-61h0m0 51h0m1 30h0m0-23h0m1-19h0m0-22h0m1 39h0m0-32h0m1 14h0m0-31h0m1 73h0m0-61h0m1 19h0m0-5h0m1 13h0m0 41h0m1-48h0m0-24h0m1 34h0m0 0h0m1-10h0m0-32h0m1 19h0m0 37h0m0-64h0m1 47h0m0-41h0m1 16h0m0 20h0m1-29h0m0 11h0m1 22h0m0 10h0m1 15h0m0-24h0m1-20h0m0 6h0m1-7h0m0 49h0m1-67h0m0 40h0m1-17h0m0 36h0m1 19h0m0-65h0m1 26h0m0-47h0m1 11h0m0 26h0m1-9h0m0 9h0m0 24h0m1-49h0m0 42h0m1-22h0m0 13h0m1-9h0m0-3h0m1 0h0m0-21h0m1 38h0m0-4h0m1-10h0m0-9h0m1-4h0m0-6h0m1-6h0m0 25h0m1 13h0m0 4h0m1 3h0m0-22h0m1-15h0m0 16h0m1-24h0m0 23h0m1-20h0m0 39h0m0-35h0m1 10h0m0 13h0m1-39h0m0 53h0m1-28h0m0-20h0m1 1h0m0 44h0m1 15h0m0-52h0m1-4h0m0 4h0m1 30h0m0-3h0m1 10h0m0-33h0m1 34h0m0-24h0m1-11h0m0-1h0m1 31h0m0-29h0m1 18h0m0 0h0m1 2h0m0 23h0m0-59h0m1 10h0m0 26h0m1-30h0m0 14h0m1 31h0m0-37h0m1-7h0m0 48h0m1-19h0m0-38h0m1 17h0m0 9h0m1 20h0m0 3h0m1 0h0m0-23h0m1 4h0m0-4h0m1 24h0m0-28h0m1 6h0m0 2h0m1 1h0m0 21h0m1 25h0m0-48h0m1-12h0m0 13h0m0 25h0m1-34h0m0 31h0m1-29h0m0-16h0m1 31h0m0-16h0m1 2h0m0 12h0m1-8h0m0 6h0m1 6h0m0-16h0m1 40h0m0-12h0m1-1h0m0-44h0m1 21h0m0-23h0m1 41h0m0 0h0m1-13h0m0 17h0m1-8h0m0-31h0m1 10h0m0-10h0m0 39h0m1-44h0m0 42h0m1-4h0m0 0h0m1-31h0m0-11h0m1 5h0m0 38h0m1-15h0m0-7h0m1-16h0m0 33h0m1 5h0m0 14h0m1-39h0m0 33h0m1-40h0m0-12h0m1 45h0m0-41h0m1 60h0m0-16h0m1-12h0m0-8h0m1 6h0m0-2h0m0-6h0m1 22h0m0-49h0m1 25h0m0-5h0m1 11h0m0 11h0m1-28h0m0-4h0m1-9h0m0 0h0m1 25h0m0-8h0m1 11h0m0 35h0m1-26h0m0 2h0m1-17h0m0-11h0m1 6h0m0 20h0m1-24h0m0 20h0m1-25h0m0 32h0m1 2h0m0-35h0m0 49h0m1-28h0m0 17h0m1-5h0m0-16h0m1 9h0m0-18h0m1-7h0m0 52h0m1-62h0m0 39h0m1 6h0m0-25h0m1 24h0m0-29h0m1 12h0m0 20h0m1 24h0m0-42h0m1-16h0m0 7h0m1 30h0m0-9h0m1-20h0m0-9h0m1 23h0m0-6h0m0 21h0m1 10h0m0-22h0m1-12h0m0-13h0m1 16h0m0 41h0m1-63h0m0 31h0m1-6h0m0 38h0m1-69h0m0 39h0m1-20h0m0-12h0m1 0h0m0 62h0m1-30h0m0-29h0m1 42h0m0-17h0m1 20h0m0-24h0m1-21h0m0 6h0m1 22h0m0-38h0m1 9h0m0 9h0m0 11h0m1-26h0m0 26h0m1-12h0m0 17h0m1-2h0m0-9h0m1-5h0m0 6h0m1 10h0m0-6h0m1 12h0m0-5h0m1 44h0m0-49h0m1-15h0m0 4h0m1 5h0m0 40h0m1-9h0m0-25h0m1 47h0m0 5h0m1-2h0m0-41h0m1 15h0m0-45h0m0 8h0m1 33h0m0-51h0m1 1h0m0 36h0m1 1h0m0-24h0m1 30h0m0-23h0m1-13h0m0 19h0m1 19h0m0-30h0m1-9h0m0-9h0m1 57h0m0-18h0m1-25h0m0 6h0m1-13h0m0 17h0m1 4h0m0 14h0m1-3h0m0-15h0m1-1h0m0 12h0m0-14h0m1 49h0m0-48h0m1-10h0m0-1h0m1 30h0m0 16h0m1-3h0m0-51h0m1 45h0m0-21h0m1-6h0m0-19h0m1 20h0m0-1h0m1 4h0m0 1h0m1 37h0m0-29h0m1 3h0m0-7h0m1-9h0m0-7h0m1 10h0m0-12h0m1 25h0m0-5h0m0 9h0m1-14h0m0 6h0m1 3h0m0 0h0m1 6h0m0-25h0m1 20h0m0-10h0m1-13h0m0 37h0m1-26h0m0-15h0m1 34h0m0-35h0m1 2h0m0-6h0m1 13h0m0 7h0m1-10h0m0 22h0m1-9h0m0 1h0m1 9h0m0-12h0m1-21h0m0 56h0m1-5h0m0-26h0m0 14h0m1-20h0m0 73h0m1-30h0m0-44h0m1 20h0m0-39h0m1 32h0m0-17h0m1 42h0m0-30h0m1-9h0m0 38h0m1-27h0m0 10h0m1-10h0m0 2h0m1-13h0m0 23h0m1 2h0m0-34h0m1 36h0m0-16h0m1 10h0m0-9h0m1-25h0m0 28h0m0-32h0m1 37h0m0-6h0m1-12h0m0-2h0m1 41h0m0-41h0m1 16h0m0 1h0m1 1h0m0-28h0m1 25h0m0-2h0m1 10h0m0-4h0m1-40h0m0 36h0m1-32h0m0 34h0m1-23h0m0 1h0m1 4h0m0-12h0m1 20h0m0 25h0m1-22h0m0-13h0m0 41h0m1-48h0m0 22h0m1-15h0m0 40h0m1 3h0m0-54h0m1 4h0m0 15h0m1 42h0m0-51h0m1 16h0m0-9h0m1-16h0m0 3h0m1 18h0m0-7h0m1 19h0m0-31h0m1 25h0m0 21h0m1-10h0m0-22h0m1 4h0m0-6h0m1-7h0m0 14h0m0 0h0m1-6h0m0-18h0m1 47h0m0-34h0m1 16h0m0 43h0m1-58h0m0 1h0m1 13h0m0-23h0m1 15h0m0 42h0m1-15h0m0-32h0m1-4h0m0 50h0m1-36h0m0 37h0m1-13h0m0-4h0m1-3h0m0-27h0m1 30h0m0-48h0m1 10h0m0 11h0m1-2h0m0-3h0m0 11h0m1-21h0m0 50h0m1-46h0m0-12h0m1 55h0m0-32h0m1 2h0m0 22h0m1-15h0m0-25h0m1-11h0m0 33h0m1 8h0m0 27h0m1-2h0m0-45h0m1 17h0m0 6h0m1-14h0m0-19h0m1 1h0m0 15h0m1 26h0m0-23h0m1 7h0m0-5h0m0 39h0m1-19h0m0-1h0m1-7h0m0-27h0m1 3h0m0 63h0m1-74h0m0 43h0m1-23h0m0 11h0m1-17h0m0 1h0m1-4h0m0 38h0m1-30h0m0-18h0m1 69h0m0-55h0m1 24h0m0 4h0m1 2h0m0-18h0m1 33h0m0-29h0m1-12h0m0-17h0m0 19h0m1 0h0m0 51h0m1-15h0m0-34h0m1-26h0m0 19h0m1-13h0m0 24h0m1-24h0m0-4h0m1 36h0m0 36h0m1-18h0m0-29h0m1 0h0m0 55h0m1-51h0m0 1h0m1-5h0m0 8h0m1-25h0m0 18h0m1-6h0m0 37h0m1-28h0m0-11h0m0 9h0m1-10h0m0 3h0m1 3h0m0-1h0m1 40h0m0-28h0m1 7h0m0 47h0m1-66h0m0 34h0m1-22h0m0 45h0m1-82h0m0 55h0m1-38h0m0 25h0m1 52h0m0-33h0m1-15h0m0-33h0m1-2h0m0 32h0m1-5h0m0-28h0m1 26h0m0 13h0m1-26h0m0-20h0m0 31h0m1 14h0m0-20h0m1 2h0m0 24h0m1-11h0m0 22h0m1 4h0m0-50h0m1 17h0m0 40h0m1-71h0m0 34h0m1-34h0m0 46h0m1 7h0m0-7h0m1 2h0m0 12h0m1-52h0m0 21h0m1-13h0m0-9h0m1 0h0m0 17h0m1-11h0m0 29h0m0-33h0m1 9h0m0 16h0m1-21h0m0 9h0m1 38h0m0-61h0m1 25h0m0 0h0m1-24h0m0 23h0m1 14h0m0-4h0m1-20h0m0-1h0m1-4h0m0 28h0m1-37h0m0-3h0m1 27h0m0 7h0m1-21h0m0 46h0m1-51h0m0 38h0m1-26h0m0-4h0m0 1h0m1 28h0m0-12h0m1 0h0m0-2h0m1 3h0m0 0h0m1 14h0m0-29h0m1 23h0m0-32h0m1 38h0m0-29h0m1 7h0m0 8h0m1-3h0m0 25h0m1 3h0m0-51h0m1 31h0m0-40h0m1 36h0m0-5h0m1-18h0m0 64h0m1-74h0m0 50h0m0-19h0m1 30h0m0-7h0m1-30h0m0 5h0m1-14h0m0 3h0m1 18h0m0-30h0m1 22h0m0 6h0m1-38h0m0 24h0m1 55h0m0-68h0m1-3h0m0 11h0m1-3h0m0 9h0m1-10h0m0 8h0m1 0h0m0 27h0m1 6h0m0-10h0m1-16h0m0 29h0m0-33h0m1 28h0m0 0h0m1-45h0m0 47h0m1-50h0m0 6h0m1 69h0m0-57h0m1 2h0m0 17h0m1 2h0m0-6h0m1-16h0m0 7h0m1 39h0m0-55h0m1 4h0m0 55h0m1-66h0m0-3h0m1 10h0m0 10h0m1-2h0m0 19h0m1 16h0m0-6h0m1 8h0m0 9h0m0-65h0m1 12h0m0 56h0m1-50h0m0-12h0m1 40h0m0 6h0m1-6h0m0 0h0m1 45h0m0-12h0m1-55h0m0 3h0m1 33h0m0-52h0m1 28h0m0 14h0m1-30h0m0-15h0m1 63h0m0-55h0m1 38h0m0-19h0m1-10h0m0 37h0m1-12h0m0-29h0m0 41h0m1-41h0m0 5h0m1 0h0m0 26h0m1-33h0m0-19h0m1 32h0m0 11h0m1-6h0m0-10h0m1-11h0m0 19h0m1-19h0m0-7h0m1-8h0m0 28h0m1 37h0m0-52h0m1 25h0m0-32h0m1 23h0m0-10h0m1 18h0m0-7h0m1 0h0m0-23h0m0 49h0m1-16h0m0-17h0m1 7h0m0 30h0m1-28h0m0 24h0m1-5h0m0-14h0m1-8h0m0-2h0m1 16h0m0 26h0m1-50h0m0 43h0m1-18h0m0-8h0m1-18h0m0 13h0m1 61h0m0-24h0m1-33h0m0 60h0m1-54h0m0-33h0m1-9h0m0 53h0m0-2h0m1-25h0m0-11h0m1 45h0m0-17h0m1-41h0m0 10h0m1 19h0m0 8h0m1-7h0m0-5h0m1-18h0m0 25h0m1 33h0m0-53h0m1 18h0m0-26h0m1 13h0m0 21h0m1-15h0m0 5h0m1 9h0m0 22h0m1-31h0m0-13h0m1 22h0m0 23h0m1-33h0m0 69h0m0-79h0m1 25h0m0-1h0m1-29h0m0 27h0m1-14h0m0-2h0m1 6h0m0 35h0m1-21h0m0-13h0m1-3h0m0-1h0m1-3h0m0 0h0m1-15h0m0 44h0m1-24h0m0 24h0m1-44h0m0 46h0m1-16h0m0 27h0m1-2h0m0-50h0m1-26h0m0 90h0m0-40h0m1-29h0m0 50h0m1 11h0m0-11h0m1-9h0m0-45h0m1 35h0m0-5h0m1 11h0m0-3h0m1-16h0m0-6h0m1 11h0m0-12h0m1 3h0m0 23h0m1-27h0m0-8h0m1 47h0m0-36h0m1-8h0m0 36h0m1-13h0m0-14h0m1 20h0m0-16h0m0 33h0m1-5h0m0-27h0m1 34h0m0-42h0m1 26h0m0-12h0m1-16h0m0-6h0m1 40h0m0-38h0m1 7h0m0 11h0m1-14h0m0 10h0m1 11h0m0 9h0m1-27h0m0 8h0m1 6h0m0 27h0m1-24h0m0-13h0m1 25h0m0-42h0m1 18h0m0-4h0m0 49h0m1-11h0m0-35h0m1 33h0m0-51h0m1 24h0m0 13h0m1 21h0m0-39h0m1 18h0m0-27h0m1 13h0m0-22h0m1 48h0m0 4h0m1-45h0m0 7h0m1 11h0m0 7h0m1-13h0m0 18h0m1-2h0m0-7h0m1-25h0m0 13h0m1 9h0m0 24h0m1-7h0m0-29h0m0 8h0m1-16h0m0 15h0m1 16h0m0 12h0m1-55h0m0 27h0m1 11h0m0-12h0m1-15h0m0 7h0m1 10h0m0-10h0m1-17h0m0 21h0m1 20h0m0-23h0m1 13h0m0-26h0m1 65h0m0 2h0m1-57h0m0 64h0m1-27h0m0 11h0m1-49h0m0 23h0m0-26h0m1 54h0m0-23h0m1-9h0m0 4h0m1 13h0m0 8h0m1-30h0m0-1h0m1 17h0m0-26h0m1 48h0m0-35h0m1-6h0m0 36h0m1-41h0m0 29h0m1-17h0m0 35h0m1 7h0m0-30h0m1-3h0m0-29h0m1 57h0m0-44h0m1-10h0m0 21h0m0-5h0m1-5h0m0 4h0m1 20h0m0-24h0m1-19h0m0 33h0m1 32h0m0-60h0m1 47h0m0-12h0m1-6h0m0-23h0m1 26h0m0-30h0m1 12h0m0-6h0m1 72h0m0-17h0m1-19h0m0 9h0m1-33h0m0-4h0m1 24h0m0-23h0m1 4h0m0-30h0m0 25h0m1 12h0m0-19h0m1-18h0m0 53h0m1-30h0m0-17h0m1 31h0m0 7h0m1-21h0m0-2h0m1 9h0m0 18h0m1-25h0m0 17h0m1-13h0m0-3h0m1 20h0m0-25h0m1 14h0m0-5h0m1-1h0m0 11h0m1 13h0m0-22h0m1-7h0m0-2h0m1 3h0m0-7h0m0 29h0m1-4h0m0-8h0m1-20h0m0 16h0m1-8h0m0-12h0m1 45h0m0-49h0m1 11h0m0 13h0m1-9h0m0-16h0m1 0h0m0 46h0m1-4h0m0-31h0m1-2h0m0-7h0m1 13h0m0-12h0m1 18h0m0 22h0m1-13h0m0 4h0m1-38h0m0 23h0m0 20h0m1-4h0m0-35h0m1 61h0m0-68h0m1 24h0m0 10h0m1-16h0m0 7h0m1 18h0m0-16h0m1 0h0m0 25h0m1-27h0m0 8h0m1-32h0m0 16h0m1 24h0m0 16h0m1-30h0m0-10h0m1-11h0m0 24h0m1 20h0m0-20h0m1-24h0m0-6h0m0 33h0m1-11h0m0 26h0m1-9h0m0 21h0m1-24h0m0 17h0m1 17h0m0-69h0m1 72h0m0-18h0m1-30h0m0 16h0m1-10h0m0-20h0m1 56h0m0-30h0m1-15h0m0 36h0m1-37h0m0-3h0m1-7h0m0-10h0m1 41h0m0 2h0m1 21h0m0-53h0m0 26h0m1 4h0m0-26h0m1 58h0m0-19h0m1 2h0m0-48h0m1 38h0m0-17h0m1-18h0m0-4h0m1 33h0m0 15h0m1-14h0m0-29h0m1 23h0m0-32h0m1 4h0m0-4h0m1 24h0m0-6h0m1 1h0m0-12h0m1 26h0m0 28h0m1-22h0m0-43h0m1 59h0m0-33h0m0-22h0m1 20h0m0-1h0m1 14h0m0-8h0m1 38h0m0-35h0m1-7h0m0 20h0m1-23h0m0 4h0m1 8h0m0 6h0m1-8h0m0 27h0m1 13h0m0-69h0m1 38h0m0 12h0m1-13h0m0-12h0m1 1h0m0-1h0m1 12h0m0-19h0m1 17h0m0-26h0m0-14h0m1 3h0m0 37h0m1-29h0m0-4h0m1 42h0m0 3h0m1-50h0m0 15h0m1 1h0m0-10h0m1 0h0m0 16h0m1 35h0m0 8h0m1 1h0m0-43h0m1-3h0m0 20h0m1-30h0m0 1h0m1 14h0m0 8h0m1-14h0m0 33h0m1-27h0m0-21h0m0 45h0m1-23h0m0 36h0m1-6h0m0-50h0m1 8h0m0 32h0m1-28h0m0 2h0m1 10h0m0-30h0m1 36h0m0-12h0m1 25h0m0-18h0m1-32h0m0 43h0m1 5h0m0-45h0m1 6h0m0 46h0m1-39h0m0 0h0m1 28h0m0 9h0m1-40h0m0-8h0m0 5h0m1-11h0m0 4h0m1 52h0m0-25h0m1 16h0m0-25h0m1 17h0m0 13h0m1-36h0m0 12h0m1 19h0m0-14h0m1 18h0m0 1h0m1-47h0m0 26h0m1 10h0m0-5h0m1-14h0m0 36h0m1 3h0m0-27h0m1 44h0m0 3h0m1-36h0m0-24h0m0 14h0m1 18h0m0-25h0m1 1h0m0 18h0m1-10h0m0-7h0m1-3h0m0 47h0m1-50h0m0 48h0m1-30h0m0-2h0m1 11h0m0-15h0m1-1h0m0 12h0m1-24h0m0-1h0m1-2h0m0 43h0m1-34h0m0 23h0m1-38h0m0 56h0m1-22h0m0-16h0m1 4h0m0 42h0m0-33h0m1-16h0m0 2h0m1 23h0m0-31h0m1 30h0m0-45h0m1 8h0m0 11h0m1 1h0m0 15h0m1-37h0m0 38h0m1-32h0m0 28h0m1-24h0m0 18h0m1 27h0m0-49h0m1 62h0m0-74h0m1 51h0m0-4h0m1 1h0m0-22h0m1 39h0m0-48h0m0 12h0m1-24h0m0 39h0m1-22h0m0-7h0m1-8h0m0 41h0m1-35h0m0 63h0m1-21h0m0-35h0m1 6h0m0 9h0m1-8h0m0 21h0m1-10h0m0-11h0m1-13h0m0 62h0m1-56h0m0 56h0m1-49h0m0 18h0m1 26h0m0-52h0m1-12h0m0 42h0m0-34h0m1 33h0m0-13h0m1-29h0m0 28h0m1 1h0m0-10h0m1 41h0m0-42h0m1-8h0m0-3h0m1 30h0m0-24h0m1 24h0m0-15h0m1 5h0m0 32h0m1-55h0m0 15h0m1 3h0m0 27h0m1-10h0m0 11h0m1-25h0m0 4h0m1 24h0m0 20h0m0-57h0m1-12h0m0 66h0m1-59h0m0 9h0m1 20h0m0-19h0m1 18h0m0-14h0m1-18h0m0 46h0m1-50h0m0 16h0m1 56h0m0-33h0m1-7h0m0-36h0m1 9h0m0 15h0m1-12h0m0 29h0m1-39h0m0 13h0m1 39h0m0-31h0m1 21h0m0-34h0m1 31h0m0-16h0m0 10h0m1 0h0m0 3h0m1-17h0m0 2h0m1-20h0m0 16h0m1 0h0m0 8h0m1 5h0m0-32h0m1 25h0m0-16h0m1 21h0m0-28h0m1 30h0m0 27h0m1-39h0m0 29h0m1-12h0m0-24h0m1 42h0m0-15h0m1 4h0m0-44h0m1 14h0m0-9h0m0 7h0m1 10h0m0 34h0m1-44h0m0 10h0m1 13h0m0 5h0m1-26h0m0-13h0m1 36h0m0 33h0m1-59h0m0 15h0m1-17h0m0 53h0m1-20h0m0 10h0m1-54h0m0 30h0m1 10h0m0-14h0m1-19h0m0 50h0m1-27h0m0-28h0m1 27h0m0 3h0m0-14h0m1 23h0m0-11h0m1 36h0m0-27h0m1 4h0m0-9h0m1-6h0m0 3h0m1-28h0m0 49h0m1-5h0m0 12h0m1-39h0m0-3h0m1-3h0m0 60h0m1 12h0m0-69h0m1 0h0m0 0h0m1 13h0m0-13h0m1 11h0m0-19h0m1 16h0m0 7h0m0-20h0m1 7h0m0 26h0m1 26h0m0-52h0m1-6h0m0 18h0m1-13h0m0-8h0m1 67h0m0-79h0m1 60h0m0-50h0m1 57h0m0-38h0m1-29h0m0 24h0m1 9h0m0 7h0m1-30h0m0 32h0m1 41h0m0-40h0m1-20h0m0 41h0m1-41h0m0 7h0m1-1h0m0 2h0m0-17h0m1 24h0m0-18h0m1 31h0m0-38h0m1 44h0m0-45h0m1 3h0m0 8h0m1 41h0m0-7h0m1-34h0m0-22h0m1 13h0m0 15h0m1 13h0m0-2h0m1-5h0m0-29h0m1 33h0m0-13h0m1 11h0m0 11h0m1-24h0m0-15h0m1 21h0m0-15h0m0 32h0m1-14h0m0 5h0m1-9h0m0 15h0m1-34h0m0 19h0m1-17h0m0 5h0m1-3h0m0 15h0m1-12h0m0 36h0m1-14h0m0-1h0m1-21h0m0 49h0m1-58h0m0 50h0m1-38h0m0 9h0m1 60h0m0-79h0m1 25h0m0-6h0m1-5h0m0 8h0m0-29h0m1 12h0m0-2h0m1 23h0m0-25h0m1 18h0m0 25h0m1-16h0m0-25h0m1 39h0m0-53h0m1 71h0m0-56h0m1 31h0m0-31h0m1 27h0m0-6h0m1 0h0m0-18h0m1 25h0m0-1h0m1-19h0m0 57h0m1-46h0m0 30h0m1-60h0m0 31h0m0-19h0m1 32h0m0-26h0m1 11h0m0 17h0m1-6h0m0 10h0m1-42h0m0 37h0m1-33h0m0-14h0m1 22h0m0 36h0m1-21h0m0 10h0m1 22h0m0-59h0m1 42h0m0-29h0m1-13h0m0 33h0m1-14h0m0-10h0m1-9h0m0 52h0m1-15h0m0-45h0m1 51h0m0-40h0m0 0h0m1 2h0m0 4h0m1 19h0m0 13h0m1-23h0m0 15h0m1 13h0m0-38h0m1 8h0m0-17h0m1 52h0m0-32h0m1-9h0m0 9h0m1 44h0m0-59h0m1 42h0m0-26h0m1 7h0m0 35h0m1-59h0m0 4h0m1 27h0m0-17h0m1-4h0m0 21h0m0-27h0m1 22h0m0 44h0m1-70h0m0 20h0m1-5h0m0-7h0m1 48h0m0-45h0m1 2h0m0 19h0m1-2h0m0-14h0m1-11h0m0 21h0m1-17h0m0 25h0m1-28h0m0 18h0m1-24h0m0 13h0m1 58h0m0-80h0m1 24h0m0-3h0m1 4h0m0 17h0m0 14h0m1-32h0m0-1h0m1 6h0m0 8h0m1-5h0m0-30h0m1 55h0m0-3h0m1 14h0m0-35h0m1-11h0m0 13h0m1-30h0m0 34h0m1 5h0m0-25h0m1 27h0m0-38h0m1 54h0m0-55h0m1 46h0m0-19h0m1-9h0m0 21h0m1-23h0m0 5h0m0 18h0m1-48h0m0 50h0m1 12h0m0-60h0m1 12h0m0 62h0m1-38h0m0 1h0m1 20h0m0-32h0m1 27h0m0-23h0m1 27h0m0-40h0m1 0h0m0-20h0m1 82h0m0-46h0m1 22h0m0-31h0m1-1h0m0-24h0m1 23h0m0-3h0m1-18h0m0 51h0m0 1h0m1-37h0m0 24h0m1-33h0m0-2h0m1 3h0m0-1h0m1 43h0m0-37h0m1 25h0m0-20h0m1 31h0m0-33h0m1 3h0m0 8h0m1 24h0m0-8h0m1-33h0m0 11h0m1-19h0m0-3h0m1 49h0m0-1h0m1-34h0m0-1h0m1 15h0m0 7h0m1-8h0m0 9h0m0-19h0m1 14h0m0-14h0m1 4h0m0 9h0m1-25h0m0 26h0m1-5h0m0 26h0m1-38h0m0 10h0m1 4h0m0 22h0m1-18h0m0 24h0m1-58h0m0 53h0m1-22h0m0-1h0m1 4h0m0-4h0m1-25h0m0 24h0m1-2h0m0-10h0m1 49h0m0-62h0m0 20h0m1-24h0m0 24h0m1-18h0m0 13h0m1-4h0m0 15h0m1-11h0m0 2h0m1-1h0m0-21h0m1 25h0m0-20h0m1 71h0m0-71h0m1 61h0m0-42h0m1 12h0m0 22h0m1-24h0m0-21h0m1 38h0m0-18h0m1-20h0m0 27h0m1-9h0m0-7h0m0-19h0m1 7h0m0 48h0m1-22h0m0-3h0m1 44h0m0-33h0m1-16h0m0 0h0m1-4h0m0 2h0m1 14h0m0-28h0m1 31h0m0 15h0m1-29h0m0 35h0m1-26h0m0-11h0m1-4h0m0 28h0m1 10h0m0-6h0m1-2h0m0 11h0m1-43h0m0 51h0m0-25h0m1-7h0m0 8h0m1-3h0m0-1h0m1-69h0m0 67h0m1-23h0m0 23h0m1 25h0m0-28h0m1-32h0m0 0h0m1 15h0m0 40h0m1-37h0m0-8h0m1 60h0m0-31h0m1-23h0m0 4h0m1 5h0m0 17h0m1 20h0m0-22h0m1-11h0m0-3h0m1 20h0m0-17h0m0 17h0m1-24h0m0-5h0m1 11h0m0-4h0m1 6h0m0 5h0m1-16h0m0 37h0m1-27h0m0 7h0m1-4h0m0-14h0m1-10h0m0 16h0m1 6h0m0 16h0m1 0h0m0 21h0m1-21h0m0 5h0m1 53h0m0-95h0m1 14h0m0-20h0m1 41h0m0 7h0m0-1h0m1-36h0m0 37h0m1 18h0m0 19h0m1-67h0m0-7h0m1 11h0m0-16h0m1 11h0m0 10h0m1-12h0m0 71h0m1-48h0m0-8h0m1 1h0m0 0h0m1 11h0m0-38h0m1 14h0m0-30h0m1 30h0m0 34h0m1-23h0m0-18h0m1 53h0m0-28h0m0-7h0m1 2h0m0 2h0m1-9h0m0 6h0m1-2h0m0 5h0m1 22h0m0-41h0m1 42h0m0-39h0m1 3h0m0-8h0m1 20h0m0 20h0m1-20h0m0-2h0m1-13h0m0-1h0m1 25h0m0 22h0m1-51h0m0 21h0m1 0h0m0 11h0m1 4h0m0-44h0m0 46h0m1-14h0m0-16h0m1 2h0m0 68h0m1-39h0m0-34h0m1 2h0m0 2h0m1-16h0m0 32h0m1-18h0m0 5h0m1 7h0m0-15h0m1 22h0m0 2h0m1-9h0m0-22h0m1 21h0m0 22h0m1-31h0m0 6h0m1-7h0m0-2h0m1-1h0m0-2h0m1 65h0m0 2h0m0-29h0m1-8h0m0 7h0m1-31h0m0 47h0m1-20h0m0-10h0m1 11h0m0-35h0m1-4h0m0 13h0m1 2h0m0 35h0m1 9h0m0-34h0m1 17h0m0 10h0m1-11h0m0 0h0m1 22h0m0-31h0m1 12h0m0-22h0m1 6h0m0-11h0m1 7h0m0-5h0m0 2h0m1-2h0m0-2h0m1 58h0m0-58h0m1 16h0m0 18h0m1-29h0m0 8h0m1 14h0m0 2h0m1-35h0m0 8h0m1-8h0m0 18h0m1 24h0m0-42h0m1-2h0m0 10h0m1 31h0m0 27h0m1-49h0m0-21h0m1 41h0m0-18h0m1 40h0m0-57h0m0 17h0m1-26h0m0 23h0m1-14h0m0 44h0m1-26h0m0 17h0m1 7h0m0-26h0m1 13h0m0-41h0m1 7h0m0-6h0m1 24h0m0-23h0m1 26h0m0 15h0m1-8h0m0 37h0m1-60h0m0-10h0m1 7h0m0 19h0m1-22h0m0 22h0m1-12h0m0 23h0m0-24h0m1 11h0m0 16h0m1-32h0m0-1h0m1 47h0m0 18h0m1-61h0m0 16h0m1 12h0m0 25h0m1-25h0m0-19h0m1 8h0m0-17h0m1 54h0m0-42h0m1-8h0m0 11h0m1 42h0m0-41h0m1 14h0m0-2h0m1-4h0m0-7h0m1-19h0m0 9h0m1 26h0m0-1h0m0-17h0m1-1h0m0 18h0m1-24h0m0 30h0m1-9h0m0-16h0m1 20h0m0-4h0m1 9h0m0 4h0m1-38h0m0-8h0m1 88h0m0-70h0m1 3h0m0 25h0m1-21h0m0-26h0m1 35h0m0-20h0m1 39h0m0-16h0m1-33h0m0 19h0m1-12h0m0-5h0m0 6h0m1 53h0m0-39h0m1 12h0m0-9h0m1-2h0m0-11h0m1-5h0m0 18h0m1 14h0m0-19h0m1 56h0m0-46h0m1-30h0m0 53h0m1-42h0m0 6h0m1-19h0m0 35h0m1-13h0m0 1h0m1-4h0m0 2h0m1-8h0m0 22h0m1-4h0m0-30h0m0 9h0m1 55h0m0-45h0m1-22h0m0 44h0m1-34h0m0 39h0m1-29h0m0-13h0m1 24h0m0-9h0m1-5h0m0 24h0m1-28h0m0 6h0m1 4h0m0 19h0m1 6h0m0-46h0m1 43h0m0-11h0m1-32h0m0 16h0m1 18h0m0 6h0m1 6h0m0 43h0m0-68h0m1 1h0m0-23h0m1 25h0m0-8h0m1 7h0m0-8h0m1 45h0m0-32h0m1 8h0m0 41h0m1-65h0m0 80h0m1-31h0m0-10h0m1-7h0m0 32h0m1-24h0m0-36h0m1 12h0m0-8h0m1 14h0m0-22h0m1 53h0m0-29h0m1-27h0m0 18h0m0-13h0m1 8h0m0-8h0m1-6h0m0 7h0m1 27h0m0-17h0m1-1h0m0-3h0m1-3h0m0 11h0m1-21h0m0 59h0m1-48h0m0 53h0m1-8h0m0-25h0m1-22h0m0 10h0m1-14h0m0 12h0m1 28h0m0-3h0m1 26h0m0-56h0m1-3h0m0 25h0m1-14h0m0-23h0m0 49h0m1-23h0m0 6h0m1 12h0m0 27h0m1-63h0m0 46h0m1-11h0m0-17h0m1 12h0m0-20h0m1 1h0m0 0h0m1 33h0m0-18h0m1-10h0m0 16h0m1 6h0m0-32h0m1 8h0m0 35h0m1-36h0m0 17h0m1-9h0m0 22h0m1-43h0m0-2h0m0 17h0m1 24h0m0-26h0m1 4h0m0-24h0m1 18h0m0-8h0m1 34h0m0-11h0m1-25h0m0 11h0m1 3h0m0 13h0m1-38h0m0 22h0m1-2h0m0-10h0m1 19h0m0 0h0m1-13h0m0 18h0m1 21h0m0-50h0m1 7h0m0 49h0m1-24h0m0-15h0m0 11h0m1 28h0m0-44h0m1-2h0m0-10h0m1 21h0m0-4h0m1 14h0m0 5h0m1-18h0m0-14h0m1 72h0m0-28h0m1-28h0m0-10h0m1 25h0m0-18h0m1 40h0m0-39h0m1 14h0m0 30h0m1-56h0m0 14h0m1 40h0m0-37h0m1 0h0m0 28h0m0-42h0m1 21h0m0-19h0m1-8h0m0 18h0m1 18h0m0-26h0m1-1h0m0 32h0m1-4h0m0-31h0m1 15h0m0 26h0m1-14h0m0-12h0m1 32h0m0-21h0m1 1h0m0-6h0m1-18h0m0 35h0m1-28h0m0 8h0m1-1h0m0-15h0m1 7h0m0 47h0m1-23h0m0 10h0m0-31h0m1-3h0m0 19h0m1-13h0m0 19h0m1-7h0m0-2h0m1-14h0m0 10h0m1 12h0m0-6h0m1 12h0m0-33h0m1 5h0m0 38h0m1-46h0m0 25h0m1-11h0m0 13h0m1-4h0m0-14h0m1 43h0m0 8h0m1-40h0m0-11h0m1 38h0m0-28h0m0 25h0m1-11h0m0-19h0m1-27h0m0 33h0m1-20h0m0 13h0m1-20h0m0 38h0m1 1h0m0-33h0m1 49h0m0-38h0m1-2h0m0-19h0m1 38h0m0-21h0m1-17h0m0 9h0m1 14h0m0 32h0m1-42h0m0-5h0m1 24h0m0-30h0m1 19h0m0-3h0m0 7h0m1-21h0m0 42h0m1-28h0m0-20h0m1 53h0m0 6h0m1-20h0m0-4h0m1-1h0m0-24h0m1 18h0m0 16h0m1 25h0m0-6h0m1-46h0m0 35h0m1-53h0m0 35h0m1-20h0m0 8h0m1 14h0m0-10h0m1 1h0m0-7h0m1 8h0m0 6h0m0-35h0m1 0h0m0 30h0m1-2h0m0 16h0m1-9h0m0-20h0m1 27h0m0-30h0m1 20h0m0 21h0m1-31h0m0-3h0m1 7h0" stroke="#ff0000" stroke-width="14.5" stroke-linecap="square" fill="none"/></g>
<path d="M65 186.2L65.7 186.2L66.4 186.2L67.1 186L67.8 186.3L68.5 186.1L69.2 186.2L69.9 186.2L70.6 186.3L71.3 186.1L72 186.1L72.7 186.3L73.4 185.8L74.1 186.1L74.8 185.9L75.5 185.9L76.2 186.3L76.9 186.1L77.6 185.9L78.3 185.3L79 184.7L79.7 184L80.4 183.6L81.1 183.7L81.8 184L82.5 183.8L83.2 184L83.9 183.7L84.6 184L85.3 183.7L86 183.7L86.7 184L87.4 183.7L88.1 183.8L88.8 183.8L89.5 183.6L90.2 183.7L90.9 183.9L91.6 184L92.3 183.6L93 184L93.7 183.8L94.4 183.7L95.1 184L95.8 183.8L96.5 183.7L97.2 183.9L97.9 183.9L98.6 183.6L99.3 184L100 183.8L100.7 183.9L101.4 183.7L102.1 183.9L102.8 183.8L103.5 183.7L104.2 183.8L104.9 183.7L105.6 183.6L106.3 184.1L107 183.9L107.7 183.7L108.4 183.9L109.1 184.2L109.8 184L110.5 183.8L111.2 184L111.9 184.1L112.6 183.7L113.3 184L114 184L114.7 184.2L115.4 183.7L116.1 184L116.8 184.1L117.5 183.7L118.2 184.2L118.9 184.2L119.6 184.1L120.3 184L121 183.8L121.7 184.1L122.4 183.9L123.1 183.8L123.8 183.8L124.5 183.8L125.2 183.9L125.9 183.8L126.6 183.9L127.3 184.2L128 183.9L128.7 183.8L129.4 184L130.1 184L130.8 184.6L131.5 184.4L132.2 184.6L132.9 184.9L133.6 185.3L134.3 185L135 185.1L135.7 185.3L136.4 185.1L137.1 185.3L137.8 185.4L138.5 185.3L139.2 185.4L139.9 185.1L140.6 185.4L141.3 185.3L142 185.1L142.7 185.1L143.4 185.2L144.1 185.3L144.8 185L145.5 185L146.2 185.2L146.9 185.1L147.6 185.4L148.3 185L149 185.2L149.7 185.4L150.4 185.3L151.1 185.4L151.8 185L152.5 185.3L153.2 185.3L153.9 185.4L154.6 185L155.3 184.9L156 185.2L156.7 185.4L157.4 185.2L158.1 185L158.8 185.3L159.5 185.3L160.2 185.1L160.9 185L161.6 185.3L162.3 185.3L163 185L163.7 185.3L164.4 185L165.1 185.1L165.8 185.8L166.5 186.2L167.2 186.5L167.9 186.6L168.6 186.6L169.3 186.7L170 186.9L170.7 186.5L171.4 186.5L172.1 187L172.8 186.9L173.5 186.4L174.2 186.9L174.9 186.9L175.6 186.7L176.3 186L177 186L177.7 185.5L178.4 185.4L179.1 185.3L179.8 185.5L180.5 185.7L181.2 185.5L181.9 185.6L182.6 185.3L183.3 185.6L184 185.7L184.7 185.5L185.4 185.6L186.1 185.4L186.8 185.6L187.5 185.3L188.2 185.6L188.9 185.6L189.6 185.6L190.3 185.5L191 185.5L191.7 185.8L192.4 185.6L193.1 185.5L193.8 185.9L194.5 185.6L195.2 185.8L195.9 185.7L196.6 185.4L197.3 185.5L198 185.6L198.7 185.8L199.4 185.4L200.1 185.9L200.8 185.8L201.5 185.8L202.2 185.5L202.9 185.7L203.6 185.9L204.3 185.7L205 185.6L205.7 185.9L206.4 185.5L207.1 185.8L207.8 185.6L208.5 185.6L209.2 185.5L209.9 186L210.6 185.6L211.3 186L212 185.6L212.7 186L213.4 185.8L214.1 185.6L214.8 185.6L215.5 185.9L216.2 185.7L216.9 185.8L217.6 185.9L218.3 185.8L219 185.7L219.7 185.9L220.4 185.9L221.1 185.7L221.8 185.7L222.5 186.1L223.2 185.9L223.9 186.1L224.6 185.8L225.3 186L226 186L226.7 185.7L227.4 186L228.1 186L228.8 185.9L229.5 186L230.2 185.9L230.9 186.3L231.6 186L232.3 186.2L233 186L233.7 186.1L234.4 185.9L235.1 186.3L235.8 186.4L236.5 186.2L237.2 186.5L237.9 186.1L238.6 186.1L239.3 186L240 186.5L240.7 186.3L241.4 186.2L242.1 186.3L242.8 186.4L243.5 186.4L244.2 186.1L244.9 186.2L245.6 186.3L246.3 186.7L247 186.4L247.7 186.6L248.4 186.6L249.1 186.9L249.8 187L250.5 187.2L251.2 187.6L251.9 187.4L252.6 187.9L253.3 189.2L254 189.9L254.7 189.2L255.4 182.4L256.1 181.2L256.8 180.9L257.5 181.4L258.2 181.2L258.9 181.2L259.6 181.2L260.3 180.9L261 181.3L261.7 180.9L262.4 181L263.1 180.8L263.8 180.8L264.5 181.3L265.2 181.2L265.9 181.1L266.6 181.3L267.3 180.9L268 180.9L268.7 180.6L269.4 181.2L270.1 181L270.8 180.6L271.5 180.9L272.2 180.6L272.9 181.1L273.6 180.6L274.3 181.1L275 180.9L275.7 181.2L276.4 180.9L277.1 181L277.8 180.5L278.5 180.5L279.2 181.2L279.9 181.1L280.6 180.5L281.3 180.8L282 180.5L282.7 181L283.4 180.9L284.1 180.4L284.8 180.4L285.5 180.4L286.2 180.8L286.9 180.6L287.6 180.3L288.3 181L289 180.7L289.7 180.3L290.4 181L291.1 180.7L291.8 180.6L292.5 180.9L293.2 180.2L293.9 180.6L294.6 180.5L295.3 180.6L296 180.2L296.7 180.5L297.4 180.6L298.1 180.1L298.8 180.7L299.5 180.5L300.2 180L300.9 179.9L301.6 179.7L302.3 179.7L303 179.4L303.7 179.3L304.4 179.4L305.1 179L305.8 179L306.5 179L306.5 187.2L305.8 186.9L305.1 187.2L304.4 187.6L303.7 187.7L303 188L302.3 187.8L301.6 188L300.9 187.7L300.2 188.7L299.5 188.1L298.8 188.3L298.1 188.5L297.4 188.8L296.7 188.6L296 188.7L295.3 188.8L294.6 188.7L293.9 188.2L293.2 188.3L292.5 188.8L291.8 188.7L291.1 188.6L290.4 188.5L289.7 188.8L289 188.4L288.3 188L287.6 188.3L286.9 188.9L286.2 187.9L285.5 188.1L284.8 187.9L284.1 188.6L283.4 188.7L282.7 189L282 188.2L281.3 188.1L280.6 188.9L279.9 188.4L279.2 188.6L278.5 189.1L277.8 188.1L277.1 188.3L276.4 188.9L275.7 188.3L275 189L274.3 188.4L273.6 188.7L272.9 189.2L272.2 189.2L271.5 188.5L270.8 188.3L270.1 189.2L269.4 189.3L268.7 189.3L268 188.6L267.3 189.3L266.6 188.6L265.9 189L265.2 189.2L264.5 188.9L263.8 188.6L263.1 188.6L262.4 188.8L261.7 188.4L261 189.5L260.3 189.3L259.6 188.5L258.9 188.9L258.2 189.2L257.5 188.6L256.8 188.7L256.1 189L255.4 189.8L254.7 194.9L254 195.8L253.3 194.4L252.6 193.4L251.9 193.3L251.2 193.3L250.5 192.7L249.8 193L249.1 192.6L248.4 192.4L247.7 192.4L247 191.9L246.3 192.1L245.6 192.4L244.9 192.3L244.2 192.1L243.5 192L242.8 192.3L242.1 192L241.4 192.3L240.7 192.5L240 191.7L239.3 191.9L238.6 192.2L237.9 191.9L237.2 191.7L236.5 191.8L235.8 192.3L235.1 192.1L234.4 191.6L233.7 191.5L233 192L232.3 191.6L231.6 192.2L230.9 192L230.2 191.5L229.5 191.4L228.8 191.7L228.1 191.8L227.4 191.4L226.7 191.9L226 192L225.3 191.7L224.6 191.6L223.9 191.6L223.2 191.7L222.5 191.4L221.8 191.4L221.1 191.5L220.4 191.5L219.7 191.2L219 191.6L218.3 191.3L217.6 191.6L216.9 191.2L216.2 191.3L215.5 191L214.8 191.7L214.1 191.7L213.4 191.6L212.7 191.1L212 191.5L211.3 191.1L210.6 191.1L209.9 191.5L209.2 191.5L208.5 191.3L207.8 191L207.1 191L206.4 191.3L205.7 191.4L205 191.1L204.3 191.2L203.6 191.6L202.9 191L202.2 191.4L201.5 191.1L200.8 191.5L200.1 191.2L199.4 191.1L198.7 190.8L198 191.4L197.3 190.8L196.6 191.5L195.9 190.9L195.2 190.9L194.5 190.9L193.8 191.2L193.1 191.3L192.4 191.4L191.7 191.3L191 191.3L190.3 191.4L189.6 190.7L188.9 191.4L188.2 191.1L187.5 191L186.8 191.3L186.1 190.7L185.4 191L184.7 190.9L184 190.6L183.3 191.3L182.6 191.1L181.9 191L181.2 191.2L180.5 191.3L179.8 190.8L179.1 190.6L178.4 190.7L177.7 191.1L177 191.4L176.3 192L175.6 191.8L174.9 192.3L174.2 192.5L173.5 192.8L172.8 192.4L172.1 192.5L171.4 192.9L170.7 192.3L170 192.1L169.3 192.2L168.6 192.8L167.9 192.8L167.2 191.5L166.5 191.2L165.8 190.8L165.1 190.7L164.4 190.5L163.7 190.5L163 190.7L162.3 190.6L161.6 190.1L160.9 190.4L160.2 190.4L159.5 190.2L158.8 190.3L158.1 190.8L157.4 190.4L156.7 190.3L156 190.1L155.3 190.1L154.6 190.2L153.9 190.8L153.2 190.8L152.5 190.5L151.8 190.3L151.1 190.7L150.4 190.4L149.7 190.3L149 190.8L148.3 190.4L147.6 190.5L146.9 190.8L146.2 190.7L145.5 190.2L144.8 190.8L144.1 190.5L143.4 190.5L142.7 190.5L142 190.4L141.3 190.3L140.6 190.3L139.9 190.8L139.2 190.6L138.5 190.8L137.8 190.2L137.1 190.1L136.4 190.3L135.7 190.3L135 190.7L134.3 190.6L133.6 190.8L132.9 190.2L132.2 190.4L131.5 189.8L130.8 189.9L130.1 189.5L129.4 189L128.7 189.4L128 189L127.3 189.5L126.6 189L125.9 189.5L125.2 189.3L124.5 189.1L123.8 189.1L123.1 189.4L122.4 189L121.7 189.5L121 189.4L120.3 189.5L119.6 189.1L118.9 189.6L118.2 189.2L117.5 189.4L116.8 189.6L116.1 189.5L115.4 189.3L114.7 189.1L114 189.2L113.3 189.6L112.6 189.4L111.9 189.3L111.2 189.1L110.5 189.2L109.8 188.9L109.1 189.4L108.4 189.2L107.7 189.4L107 189.4L106.3 189.3L105.6 189.3L104.9 189.5L104.2 189.2L103.5 189L102.8 189.4L102.1 189.1L101.4 189.2L100.7 188.9L100 189.3L99.3 189.4L98.6 189.2L97.9 188.9L97.2 189.5L96.5 189.5L95.8 189.2L95.1 189.1L94.4 189.5L93.7 188.9L93 189.1L92.3 189L91.6 188.8L90.9 189.1L90.2 189.4L89.5 188.8L88.8 188.9L88.1 189.5L87.4 189.2L86.7 189.1L86 189.1L85.3 189.5L84.6 189.3L83.9 188.7L83.2 189.2L82.5 188.8L81.8 189.1L81.1 189.2L80.4 189.5L79.7 188.9L79 190L78.3 190.7L77.6 191.6L76.9 191.9L76.2 191.6L75.5 191.8L74.8 191.3L74.1 191.7L73.4 191.4L72.7 191.3L72 191.3L71.3 191.8L70.6 191.6L69.9 191.5L69.2 191.3L68.5 191.7L67.8 191.4L67.1 191.3L66.4 191.4L65.7 191.7L65 191.6Z" fill="#ff0000"/>
<g transform="scale(.1)"><path d="m654 1895h0m1-20h0m0 20h0m1 5h0m0 17h0m1-37h0m0-8h0m1-9h0m0 6h0m1 31h0m0-12h0m1-30h0m0 40h0m1-46h0m0 25h0m0 4h0m1 17h0m0-6h0m1-16h0m0 30h0m1 2h0m0-15h0m1 4h0m0-30h0m1 34h0m0-1h0m1-19h0m0 24h0m1-22h0m0-22h0m1 50h0m0-24h0m1 28h0m0-41h0m1 5h0m0-2h0m1 28h0m0-32h0m1 13h0m0 52h0m1 0h0m0-66h0m0 26h0m1-8h0m0-13h0m1 11h0m0 2h0m1-21h0m0-35h0m1 60h0m0 11h0m1-26h0m0 8h0m1 29h0m0-23h0m1-11h0m0 18h0m1-2h0m0 21h0m1-26h0m0 0h0m1 9h0m0-35h0m1 35h0m0 37h0m1-24h0m0-61h0m1 34h0m0 37h0m0-41h0m1 16h0m0-8h0m1-27h0m0 1h0m1-4h0m0 61h0m1-27h0m0 3h0m1-31h0m0 47h0m1-39h0m0 19h0m1-6h0m0 13h0m1-17h0m0 16h0m1-13h0m0-12h0m1-4h0m0 29h0m1-3h0m0-10h0m1-1h0m0 12h0m1-15h0m0-1h0m0 36h0m1-39h0m0 38h0m1-29h0m0-18h0m1 15h0m0 2h0m1 14h0m0-32h0m1 27h0m0-6h0m1 16h0m0-14h0m1-7h0m0 3h0m1-4h0m0-15h0m1 49h0m0-41h0m1-5h0m0 4h0m1 9h0m0 14h0m1 5h0m0-1h0m1-18h0m0 0h0m1-16h0m0-9h0m0 8h0m1 40h0m0-16h0m1-24h0m0 12h0m1-5h0m0 3h0m1-3h0m0 17h0m1-10h0m0-8h0m1-5h0m0 39h0m1 7h0m0-33h0m1 20h0m0-1h0m1 7h0m0-17h0m1-19h0m0 1h0m1-8h0m0 40h0m1 8h0m0-30h0m1-2h0m0 2h0m0-7h0m1-6h0m0 55h0m1-62h0m0 21h0m1-1h0m0 18h0m1-14h0m0 17h0m1-17h0m0 38h0m1-64h0m0 13h0m1 27h0m0 10h0m1-35h0m0 43h0m1-43h0m0 22h0m1-41h0m0 43h0m1 5h0m0-8h0m1 11h0m0-34h0m1-11h0m0 25h0m0-21h0m1 29h0m0 16h0m1-8h0m0-10h0m1-21h0m0 36h0m1-29h0m0 4h0m1 15h0m0-24h0m1 26h0m0 5h0m1-14h0m0 0h0m1-5h0m0-23h0m1 15h0m0 16h0m1-9h0m0 19h0m1 1h0m0-35h0m1 2h0m0 32h0m1-11h0m0-8h0m0 5h0m1 10h0m0-10h0m1-2h0m0-23h0m1 60h0m0-46h0m1-1h0m0 14h0m1 0h0m0-13h0m1 11h0m0-25h0m1 37h0m0 20h0m1-43h0m0-15h0m1 5h0m0 25h0m1-30h0m0 55h0m1-31h0m0-8h0m1 15h0m0-25h0m1 29h0m0-31h0m1 30h0m0-43h0m0 56h0m1-43h0m0 41h0m1-32h0m0 6h0m1-3h0m0 48h0m1-45h0m0-5h0m1 41h0m0-16h0m1-6h0m0-9h0m1-5h0m0-6h0m1 17h0m0-27h0m1 6h0m0-15h0m1 25h0m0 11h0m1 19h0m0-27h0m1 0h0m0-1h0m1-1h0m0 15h0m0-29h0m1 29h0m0 7h0m1 33h0m0-68h0m1 1h0m0 4h0m1 22h0m0-3h0m1-19h0m0-4h0m1-3h0m0-3h0m1-18h0m0 66h0m1-38h0m0-34h0m1 42h0m0-16h0m1-3h0m0 46h0m1-59h0m0 27h0m1-15h0m0-27h0m1 41h0m0-21h0m0 18h0m1-16h0m0-5h0m1 36h0m0-18h0m1 8h0m0-30h0m1-7h0m0 26h0m1 5h0m0 0h0m1-17h0m0 8h0m1-10h0m0-24h0m1 55h0m0-13h0m1-29h0m0 11h0m1 11h0m0-4h0m1 1h0m0-7h0m1-24h0m0 40h0m1-38h0m0 21h0m0 43h0m1-38h0m0 1h0m1 3h0m0 3h0m1 36h0m0-51h0m1 2h0m0 18h0m1-12h0m0 27h0m1-28h0m0 8h0m1-2h0m0-19h0m1 6h0m0 12h0m1 50h0m0-12h0m1-88h0m0 39h0m1 23h0m0-12h0m1 0h0m0-3h0m1-3h0m0 21h0m0-30h0m1 23h0m0-6h0m1-10h0m0 34h0m1-26h0m0 5h0m1-5h0m0-11h0m1 23h0m0-11h0m1-6h0m0-11h0m1 13h0m0 19h0m1-11h0m0-19h0m1 13h0m0-24h0m1 35h0m0-21h0m1 9h0m0-23h0m1 26h0m0-7h0m1-4h0m0-13h0m1 16h0m0 6h0m0 10h0m1-18h0m0 19h0m1-21h0m0 6h0m1 10h0m0-3h0m1 10h0m0-22h0m1 15h0m0-9h0m1-20h0m0 17h0m1-26h0m0 28h0m1 17h0m0-26h0m1 32h0m0-1h0m1-43h0m0 40h0m1-17h0m0 32h0m1-38h0m0-1h0m1-1h0m0-2h0m0 8h0m1 21h0m0-27h0m1 41h0m0-2h0m1-69h0m0 4h0m1 6h0m0 27h0m1 8h0m0 21h0m1 1h0m0-27h0m1 19h0m0-32h0m1 23h0m0-21h0m1-20h0m0 20h0m1 14h0m0 29h0m1-23h0m0-44h0m1 16h0m0 29h0m1 17h0m0-30h0m0-7h0m1 31h0m0-26h0m1 3h0m0 10h0m1 10h0m0-19h0m1-10h0m0 2h0m1 12h0m0-5h0m1 12h0m0-23h0m1 1h0m0 38h0m1-29h0m0-27h0m1 58h0m0-24h0m1-44h0m0 27h0m1 30h0m0-14h0m1-3h0m0 22h0m1-34h0m0-1h0m0 30h0m1-30h0m0-1h0m1 29h0m0 19h0m1-38h0m0 2h0m1-8h0m0-9h0m1 32h0m0-2h0m1-26h0m0 11h0m1 5h0m0 7h0m1-13h0m0 48h0m1-41h0m0 10h0m1-3h0m0-29h0m1 9h0m0-2h0m1 3h0m0 19h0m1-9h0m0-19h0m1 14h0m0 6h0m0 1h0m1 26h0m0-1h0m1-40h0m0 10h0m1 4h0m0-10h0m1 21h0m0-19h0m1 11h0m0 11h0m1 1h0m0-33h0m1 35h0m0-6h0m1 1h0m0 0h0m1-28h0m0 12h0m1-19h0m0 34h0m1-29h0m0 11h0m1 9h0m0 4h0m1-10h0m0-9h0m0 0h0m1-12h0m0 35h0m1 14h0m0-26h0m1 24h0m0-12h0m1-22h0m0 50h0m1-51h0m0 36h0m1-26h0m0-1h0m1 17h0m0-31h0m1 47h0m0 0h0m1-38h0m0 6h0m1 17h0m0-47h0m1 32h0m0-16h0m1 33h0m0-12h0m1-33h0m0 16h0m0 0h0m1 12h0m0-1h0m1 23h0m0-4h0m1-1h0m0-14h0m1 13h0m0-12h0m1 39h0m0-12h0m1 9h0m0-5h0m1-10h0m0 9h0m1-67h0m0 21h0m1 34h0m0-31h0m1 12h0m0 3h0m1 8h0m0-5h0m1 7h0m0-7h0m1-12h0m0 29h0m0-2h0m1-30h0m0 21h0m1 3h0m0 6h0m1-4h0m0-9h0m1-24h0m0 50h0m1-64h0m0 33h0m1 24h0m0-28h0m1 24h0m0-3h0m1-21h0m0 6h0m1 8h0m0-13h0m1-9h0m0 15h0m1 12h0m0-25h0m1 24h0m0-21h0m1 58h0m0-70h0m1 14h0m0-31h0m0-4h0m1 70h0m0 5h0m1-41h0m0-9h0m1 16h0m0-20h0m1 1h0m0 22h0m1-13h0m0 16h0m1-16h0m0 1h0m1-17h0m0 19h0m1 14h0m0-20h0m1-3h0m0 9h0m1 8h0m0-38h0m1 17h0m0 28h0m1-5h0m0-12h0m1-2h0m0 5h0m0-33h0m1 28h0m0-5h0m1 10h0m0-15h0m1 52h0m0-23h0m1-6h0m0 20h0m1-37h0m0-16h0m1 36h0m0-17h0m1-3h0m0 26h0m1 4h0m0 14h0m1-34h0m0-7h0m1 33h0m0-48h0m1 17h0m0-3h0m1-6h0m0 40h0m1-36h0m0-1h0m0 24h0m1-21h0m0 16h0m1-24h0m0 26h0m1-27h0m0 29h0m1 14h0m0-29h0m1-8h0m0-10h0m1 29h0m0-16h0m1 12h0m0-17h0m1 32h0m0-28h0m1 5h0m0-28h0m1 48h0m0-38h0m1 38h0m0-35h0m1 18h0m0-11h0m1 35h0m0-26h0m0-3h0m1 1h0m0 24h0m1-30h0m0-5h0m1 1h0m0 8h0m1 23h0m0-20h0m1 3h0m0-27h0m1 32h0m0 24h0m1-20h0m0 11h0m1-42h0m0 28h0m1 34h0m0-26h0m1-9h0m0-27h0m1 29h0m0-18h0m1 26h0m0-25h0m1 30h0m0-20h0m1 5h0m0 25h0m0-11h0m1-49h0m0 9h0m1 16h0m0 11h0m1 22h0m0-26h0m1-6h0m0-9h0m1-6h0m0 29h0m1-1h0m0-22h0m1 14h0m0 24h0m1-22h0m0-13h0m1-13h0m0 36h0m1-37h0m0 34h0m1-16h0m0-6h0m1 21h0m0-22h0m1 9h0m0 5h0m0 14h0m1-25h0m0 3h0m1-18h0m0-17h0m1 50h0m0-16h0m1 35h0m0-33h0m1-2h0m0 3h0m1 7h0m0-3h0m1-6h0m0-4h0m1 1h0m0-5h0m1 30h0m0-13h0m1 14h0m0-11h0m1-2h0m0-11h0m1-2h0m0-5h0m1 27h0m0-12h0m0 13h0m1 6h0m0-24h0m1 7h0m0-3h0m1 6h0m0-10h0m1 1h0m0 10h0m1-3h0m0-11h0m1 3h0m0-7h0m1 30h0m0-39h0m1 27h0m0-12h0m1-14h0m0 29h0m1-17h0m0 41h0m1-48h0m0 9h0m1-30h0m0 35h0m1 23h0m0-17h0m0 19h0m1-32h0m0-16h0m1 23h0m0 18h0m1-21h0m0 34h0m1-25h0m0-17h0m1 5h0m0 12h0m1-37h0m0 27h0m1 1h0m0-4h0m1 5h0m0 34h0m1-17h0m0 3h0m1-2h0m0 8h0m1-41h0m0 28h0m1-7h0m0-12h0m1 44h0m0-43h0m0-12h0m1 17h0m0-20h0m1 17h0m0 3h0m1-10h0m0 12h0m1 23h0m0-27h0m1 4h0m0-7h0m1-6h0m0 12h0m1 11h0m0-10h0m1-5h0m0 17h0m1-27h0m0 7h0m1 6h0m0 33h0m1-11h0m0-37h0m1 46h0m0-20h0m1-13h0m0-4h0m1 27h0m0-18h0m0-22h0m1 68h0m0-41h0m1-16h0m0 47h0m1-53h0m0-8h0m1 10h0m0 47h0m1-30h0m0-19h0m1 38h0m0-35h0m1 17h0m0 19h0m1-30h0m0 12h0m1 11h0m0-46h0m1 39h0m0-20h0m1 19h0m0-30h0m1 29h0m0-20h0m1 9h0m0 14h0m0-6h0m1 20h0m0-37h0m1 8h0m0 39h0m1-19h0m0-28h0m1-22h0m0 31h0m1 10h0m0 15h0m1-37h0m0-24h0m1 29h0m0 5h0m1 15h0m0 3h0m1-38h0m0 17h0m1 49h0m0-21h0m1-38h0m0 0h0m1 17h0m0-16h0m1 55h0m0-37h0m0-16h0m1 18h0m0-18h0m1 13h0m0 6h0m1-14h0m0 24h0m1-15h0m0 13h0m1-7h0m0-1h0m1 26h0m0-51h0m1 17h0m0 1h0m1 1h0m0 4h0m1-13h0m0-11h0m1 20h0m0 14h0m1-38h0m0 15h0m1-9h0m0 20h0m1-8h0m0 8h0m0 7h0m1-21h0m0 25h0m1-12h0m0 16h0m1 19h0m0-74h0m1 79h0m0-20h0m1-10h0m0-9h0m1-3h0m0-11h0m1 5h0m0-8h0m1 4h0m0 40h0m1 0h0m0-23h0m1-14h0m0 5h0m1 4h0m0 24h0m1-8h0m0-40h0m1 24h0m0-26h0m1 24h0m0-8h0m0 29h0m1-40h0m0 32h0m1 3h0m0-4h0m1-8h0m0 27h0m1-36h0m0 5h0m1 43h0m0 1h0m1-35h0m0-11h0m1 15h0m0-27h0m1 33h0m0-27h0m1 9h0m0-4h0m1 9h0m0-5h0m1 12h0m0-4h0m1-11h0m0 15h0m1-24h0m0-4h0m0 48h0m1 0h0m0-31h0m1-10h0m0-7h0m1 26h0m0 5h0m1-7h0m0 13h0m1-20h0m0-9h0m1-5h0m0 9h0m1 21h0m0-29h0m1 56h0m0-36h0m1-14h0m0 12h0m1 9h0m0-5h0m1 6h0m0-19h0m1-5h0m0 30h0m1 5h0m0 0h0m0-23h0m1-5h0m0 45h0m1-15h0m0-60h0m1 34h0m0 13h0m1-3h0m0-16h0m1 16h0m0-18h0m1 5h0m0-8h0m1 3h0m0-4h0m1 29h0m0-7h0m1-28h0m0 19h0m1-13h0m0 13h0m1-9h0m0 4h0m1-16h0m0 15h0m1 0h0m0 7h0m0-7h0m1 12h0m0 29h0m1-21h0m0-24h0m1 15h0m0-6h0m1 11h0m0-1h0m1-34h0m0 2h0m1 2h0m0 50h0m1 0h0m0-9h0m1-18h0m0 15h0m1-7h0m0-12h0m1 20h0m0-8h0m1 2h0m0-30h0m1 5h0m0 2h0m1 27h0m0-34h0m1 24h0m0 33h0m0-28h0m1-20h0m0 1h0m1-28h0m0 54h0m1-32h0m0 29h0m1 9h0m0-6h0m1-5h0m0-2h0m1 24h0m0-33h0m1-8h0m0 6h0m1-8h0m0-4h0m1 23h0m0-25h0m1 35h0m0-53h0m1 46h0m0 6h0m1-3h0m0-21h0m1 24h0m0-35h0m0 14h0m1 10h0m0-10h0m1 9h0m0-17h0m1-13h0m0 26h0m1-12h0m0 3h0m1 22h0m0-39h0m1 27h0m0 5h0m1 10h0m0-4h0m1-17h0m0-14h0m1 29h0m0-16h0m1 5h0m0-20h0m1 5h0m0 24h0m1-12h0m0-2h0m1-2h0m0-18h0m0 11h0m1-9h0m0 37h0m1-23h0m0 19h0m1-29h0m0-17h0m1 43h0m0-16h0m1 18h0m0-1h0m1 2h0m0-29h0m1 12h0m0 22h0m1-23h0m0-15h0m1-8h0m0 5h0m1 11h0m0 15h0m1-21h0m0 6h0m1-5h0m0 23h0m1-1h0m0-31h0m0 66h0m1-17h0m0-2h0m1-16h0m0 29h0m1-36h0m0-15h0m1 3h0m0 10h0m1 13h0m0-10h0m1 1h0m0 9h0m1-2h0m0 8h0m1-10h0m0-5h0m1-9h0m0 35h0m1-6h0m0-47h0m1 16h0m0 13h0m1-16h0m0 30h0m1-11h0m0 27h0m1-39h0m0 1h0m0 32h0m1-37h0m0 8h0m1-32h0m0 26h0m1-14h0m0 21h0m1-27h0m0 42h0m1 3h0m0-25h0m1 17h0m0-14h0m1 3h0m0-10h0m1 3h0m0 33h0m1-44h0m0 26h0m1 14h0m0-9h0m1 11h0m0-26h0m1 7h0m0-5h0m1-13h0m0 47h0m0-40h0m1 1h0m0 9h0m1 0h0m0-8h0m1 19h0m0-11h0m1 5h0m0 2h0m1 7h0m0-18h0m1-7h0m0 7h0m1 16h0m0-3h0m1-4h0m0 8h0m1-1h0m0-25h0m1 35h0m0-21h0m1-20h0m0-2h0m1 20h0m0 8h0m1-15h0m0 11h0m0-19h0m1-2h0m0 39h0m1-2h0m0 1h0m1-39h0m0 37h0m1-32h0m0 8h0m1-11h0m0 26h0m1-6h0m0-4h0m1-23h0m0 31h0m1-44h0m0 23h0m1-12h0m0 23h0m1 11h0m0-8h0m1 12h0m0-13h0m1 7h0m0 46h0m1-41h0m0-16h0m0-19h0m1 45h0m0-37h0m1 16h0m0 11h0m1-16h0m0-14h0m1 8h0m0 15h0m1 22h0m0-24h0m1 8h0m0-2h0m1-24h0m0 12h0m1 5h0m0-6h0m1 8h0m0-3h0m1 2h0m0-21h0m1 24h0m0-21h0m1 19h0m0 11h0m1-16h0m0-5h0m0-1h0m1 20h0m0 1h0m1-6h0m0 6h0m1-23h0m0-3h0m1 0h0m0 37h0m1 11h0m0-44h0m1-20h0m0 6h0m1-2h0m0 14h0m1-22h0m0 63h0m1-32h0m0-8h0m1-4h0m0-11h0m1 77h0m0-56h0m1 25h0m0-55h0m1 51h0m0 8h0m1-35h0m0-1h0m0 16h0m1-7h0m0-7h0m1 11h0m0-10h0m1-7h0m0 2h0m1-2h0m0 24h0m1-2h0m0-23h0m1 9h0m0 24h0m1-3h0m0-6h0m1-2h0m0-20h0m1 9h0m0 35h0m1-56h0m0 53h0m1-34h0m0-9h0m1 14h0m0-7h0m1 13h0m0-36h0m0 38h0m1-8h0m0 4h0m1 10h0m0-25h0m1 15h0m0-6h0m1 10h0m0-9h0m1 19h0m0-22h0m1 8h0m0 4h0m1-10h0m0 22h0m1-19h0m0 12h0m1-3h0m0-22h0m1 7h0m0 26h0m1-31h0m0 11h0m1 9h0m0-20h0m1 13h0m0 33h0m0-42h0m1 27h0m0-3h0m1 21h0m0-37h0m1 6h0m0 0h0m1-15h0m0 8h0m1 16h0m0-18h0m1 23h0m0-1h0m1-20h0m0 2h0m1 15h0m0-7h0m1-25h0m0 20h0m1-26h0m0 66h0m1-49h0m0 10h0m1 48h0m0-40h0m1-5h0m0-3h0m0 31h0m1-14h0m0-26h0m1-11h0m0 71h0m1-32h0m0-10h0m1-14h0m0 22h0m1-20h0m0 6h0m1-28h0m0 38h0m1-11h0m0-4h0m1-11h0m0 12h0m1-8h0m0 14h0m1-9h0m0-1h0m1 27h0m0-19h0m1-28h0m0 34h0m1 18h0m0-12h0m1-28h0m0-4h0m0 22h0m1-5h0m0 5h0m1-6h0m0 16h0m1 32h0m0-22h0m1-28h0m0 43h0m1-37h0m0 5h0m1 13h0m0 7h0m1 30h0m0-50h0m1 41h0m0-43h0m1-18h0m0-6h0m1 31h0m0 0h0m1-10h0m0 2h0m1 4h0m0 9h0m1 14h0m0-56h0m0 22h0m1 31h0m0-39h0m1 12h0m0 8h0m1-41h0m0 52h0m1-24h0m0-7h0m1 2h0m0 25h0m1-18h0m0 22h0m1-44h0m0 53h0m1-17h0m0-1h0m1-7h0m0 4h0m1 0h0m0 7h0m1 7h0m0-7h0m1-15h0m0 12h0m1 3h0m0 0h0m0-46h0m1 33h0m0-2h0m1-3h0m0-3h0m1 2h0m0-8h0m1 5h0m0 45h0m1-37h0m0 2h0m1 15h0m0-15h0m1 4h0m0 9h0m1 8h0m0-41h0m1 9h0m0-1h0m1-8h0m0 23h0m1 3h0m0-10h0m1-11h0m0 10h0m1 10h0m0 9h0m0-12h0m1-5h0m0 39h0m1-26h0m0-9h0m1 6h0m0 19h0m1-18h0m0-15h0m1-4h0m0 23h0m1-31h0m0 61h0m1-24h0m0-4h0m1 2h0m0 21h0m1-35h0m0-8h0m1-5h0m0 11h0m1 6h0m0 8h0m1-35h0m0 10h0m1 11h0m0 3h0m1-9h0m0-1h0m0 4h0m1 5h0m0 7h0m1-18h0m0 30h0m1-23h0m0 11h0m1-1h0m0-9h0m1 22h0m0-26h0m1 16h0m0 6h0m1 10h0m0-31h0m1 44h0m0-38h0m1 8h0m0-30h0m1 26h0m0 10h0m1-32h0m0-22h0m1 22h0m0 16h0m1-4h0m0 16h0m0-11h0m1-3h0m0 4h0m1-8h0m0-22h0m1 72h0m0-40h0m1-10h0m0 30h0m1-5h0m0-17h0m1 4h0m0-12h0m1 29h0m0-27h0m1 12h0m0 30h0m1-18h0m0 4h0m1-5h0m0-14h0m1-17h0m0-7h0m1 43h0m0 3h0m1 1h0m0-14h0m0-9h0m1 16h0m0-34h0m1 6h0m0-4h0m1 15h0m0 2h0m1 4h0m0 20h0m1 8h0m0-57h0m1-7h0m0 42h0m1 2h0m0-27h0m1 3h0m0 12h0m1 24h0m0-44h0m1 19h0m0 10h0m1-16h0m0 18h0m1-33h0m0 56h0m1-9h0m0-51h0m0 36h0m1-19h0m0-6h0m1 9h0m0 8h0m1-20h0m0 14h0m1-1h0m0 4h0m1-12h0m0 30h0m1-33h0m0 13h0m1-7h0m0 6h0m1-15h0m0 42h0m1-32h0m0-28h0m1 46h0m0-8h0m1-20h0m0-2h0m1 44h0m0 3h0m1-34h0m0 22h0m1 1h0m0 1h0m0-7h0m1-17h0m0-15h0m1 4h0m0 13h0m1 0h0m0 7h0m1-15h0m0-4h0m1-28h0m0 15h0m1 61h0m0-37h0m1 10h0m0 13h0m1 28h0m0-25h0m1 9h0m0-39h0m1 8h0m0 1h0m1 21h0m0-41h0m1 20h0m0-21h0m1-17h0m0 29h0m0-8h0m1 11h0m0-17h0m1 32h0m0-39h0m1 39h0m0-14h0m1 25h0m0-3h0m1-17h0m0 15h0m1 0h0m0-29h0m1 24h0m0-31h0m1 35h0m0-26h0m1-7h0m0-11h0m1 37h0m0 23h0m1-25h0m0-32h0m1 22h0m0 4h0m1-16h0m0 0h0m0 10h0m1-13h0m0 18h0m1-6h0m0 27h0m1 1h0m0-4h0m1 15h0m0-44h0m1-10h0m0 24h0m1-8h0m0 34h0m1-57h0m0 24h0m1 0h0m0-11h0m1 9h0m0-2h0m1-18h0m0 34h0m1-4h0m0 14h0m1-51h0m0 13h0m1 12h0m0-2h0m0-9h0m1 19h0m0 42h0m1-63h0m0 40h0m1-1h0m0-26h0m1 42h0m0-17h0m1-13h0m0 29h0m1-63h0m0 28h0m1 12h0m0 1h0m1 16h0m0-39h0m1 34h0m0-36h0m1 10h0m0 15h0m1-29h0m0 28h0m1 22h0m0-2h0m1-30h0m0 14h0m1 7h0m0-28h0m0-25h0m1 29h0m0-27h0m1 40h0m0 8h0m1-10h0m0-18h0m1 27h0m0 3h0m1-42h0m0 11h0m1-19h0m0 11h0m1 31h0m0-6h0m1-9h0m0-15h0m1 10h0m0 52h0m1-23h0m0-47h0m1 55h0m0-12h0m1-28h0m0-15h0m1 65h0m0-36h0m0-4h0m1 32h0m0-17h0m1-13h0m0-14h0m1 12h0m0 21h0m1-31h0m0 2h0m1 17h0m0 10h0m1-17h0m0 27h0m1 31h0m0-54h0m1 5h0m0-34h0m1 14h0m0 16h0m1-3h0m0 26h0m1-37h0m0 33h0m1-25h0m0 21h0m1-29h0m0 14h0m0 13h0m1-9h0m0-29h0m1 12h0m0 15h0m1 3h0m0 12h0m1-24h0m0-10h0m1-12h0m0 23h0m1-7h0m0 18h0m1-28h0m0 20h0m1-10h0m0 3h0m1-19h0m0 18h0m1-32h0m0 36h0m1 2h0m0 20h0m1-27h0m0 10h0m1 12h0m0-30h0m0 6h0m1-15h0m0 45h0m1-17h0m0 4h0m1 0h0m0 21h0m1-29h0m0-6h0m1 4h0m0-1h0m1 30h0m0-36h0m1 4h0m0-9h0m1 40h0m0-51h0m1 13h0m0-19h0m1 31h0m0 1h0m1 6h0m0-11h0m1 12h0m0-23h0m1 13h0m0-3h0m0 17h0m1-24h0m0 19h0m1-37h0m0 52h0m1-1h0m0-11h0m1-4h0m0 18h0m1-45h0m0 50h0m1 8h0m0-32h0m1 16h0m0-16h0m1 30h0m0-33h0m1-10h0m0-16h0m1 15h0m0 36h0m1-18h0m0-19h0m1-12h0m0-1h0m1 18h0m0-14h0m1 23h0m0-15h0m0-6h0m1 22h0m0 6h0m1-27h0m0 22h0m1 8h0m0-4h0m1-25h0m0 30h0m1-14h0m0-11h0m1 24h0m0 6h0m1-2h0m0 15h0m1-40h0m0-6h0m1-1h0m0 25h0m1 0h0m0-10h0m1 41h0m0-28h0m1-25h0m0 26h0m1 22h0m0-49h0m0-27h0m1 45h0m0-9h0m1-8h0m0 2h0m1-9h0m0 10h0m1 27h0m0-26h0m1-19h0m0 11h0m1 5h0m0-5h0m1 18h0m0 25h0m1-28h0m0-6h0m1 13h0m0-18h0m1-25h0m0 57h0m1-14h0m0-12h0m1 42h0m0-35h0m1 12h0m0-29h0m0 9h0m1 29h0m0-39h0m1 15h0m0 48h0m1-32h0m0-14h0m1 23h0m0-38h0m1 17h0m0 2h0m1-6h0m0-10h0m1 30h0m0 26h0m1-43h0m0 12h0m1-6h0m0 11h0m1-22h0m0 6h0m1-6h0m0 6h0m1-9h0m0-1h0m1 14h0m0-29h0m0 26h0m1-30h0m0-13h0m1 42h0m0-10h0m1 9h0m0-32h0m1 75h0m0-35h0m1-29h0m0 35h0m1-20h0m0 15h0m1 10h0m0 14h0m1-21h0m0-22h0m1 10h0m0-3h0m1-28h0m0 33h0m1-10h0m0 5h0m1-13h0m0 15h0m1 5h0m0-15h0m1 25h0m0-17h0m0-8h0m1 7h0m0 19h0m1-20h0m0-3h0m1 0h0m0 18h0m1-5h0m0-32h0m1 63h0m0-34h0m1 26h0m0-29h0m1-4h0m0 38h0m1-37h0m0-11h0m1-30h0m0 34h0m1 11h0m0-5h0m1-12h0m0 11h0m1 10h0m0 41h0m1-42h0m0-19h0m0 36h0m1-51h0m0 82h0m1-52h0m0 21h0m1-9h0m0-14h0m1 8h0m0 9h0m1-26h0m0-5h0m1 22h0m0-31h0m1 10h0m0 17h0m1-14h0m0 11h0m1 48h0m0-49h0m1-5h0m0 14h0m1-3h0m0 0h0m1 10h0m0-22h0m1 2h0m0-1h0m0 55h0m1-42h0m0-33h0m1 46h0m0-8h0m1-28h0m0 27h0m1 4h0m0-6h0m1 12h0m0-54h0m1 31h0m0 17h0m1-9h0m0 45h0m1-28h0m0-50h0m1 27h0m0 15h0m1-36h0m0 1h0m1 21h0m0-8h0m1 4h0m0 36h0m1-58h0m0 33h0m0 25h0m1-30h0m0 34h0m1-56h0m0 9h0m1-7h0m0 53h0m1 11h0m0-41h0m1-6h0m0 22h0m1-11h0m0-8h0m1 1h0m0-14h0m1 12h0m0 14h0m1-10h0m0 31h0m1-20h0m0-16h0m1-4h0m0-6h0m1 13h0m0 26h0m1-5h0m0-16h0m1-25h0m0 16h0m0 6h0m1-1h0m0 12h0m1-26h0m0 2h0m1 52h0m0-61h0m1 23h0m0 12h0m1-12h0m0 1h0m1 10h0m0 2h0m1 2h0m0 20h0m1-32h0m0 14h0m1-18h0m0-6h0m1 26h0m0 3h0m1-13h0m0-11h0m1 4h0m0 19h0m1 6h0m0-41h0m0 0h0m1 78h0m0-27h0m1-3h0m0-25h0m1-2h0m0 13h0m1-1h0m0 25h0m1-1h0m0-16h0m1 3h0m0-31h0m1 9h0m0-3h0m1 6h0m0 35h0m1-26h0m0-30h0m1-23h0m0 54h0m1-17h0m0-15h0m1 9h0m0-4h0m1 31h0m0-25h0m0-10h0m1 10h0m0-2h0m1-4h0m0 25h0m1 8h0m0-17h0m1-22h0m0 22h0m1 5h0m0-28h0m1 7h0m0 33h0m1-24h0m0 29h0m1-49h0m0 11h0m1 43h0m0 5h0m1-79h0m0 55h0m1 35h0m0-48h0m1 34h0m0-27h0m1-23h0m0 10h0m0 4h0m1 1h0m0-4h0m1 42h0m0-53h0m1 34h0m0-6h0m1-17h0m0 30h0m1 20h0m0-57h0m1 54h0m0-50h0m1 40h0m0-13h0m1 2h0m0-11h0m1 23h0m0-18h0m1-15h0m0 8h0m1 21h0m0-41h0m1-1h0m0-11h0m1 30h0m0 25h0m1-10h0m0-8h0m0-1h0m1-13h0m0 8h0m1 11h0m0 2h0m1-8h0m0 6h0m1 14h0m0-10h0m1-32h0m0 40h0m1-9h0m0-12h0m1-5h0m0-1h0m1-11h0m0 1h0m1 40h0m0 12h0m1-52h0m0 39h0m1-41h0m0 8h0m1-29h0m0 40h0m1-19h0m0 32h0m0-22h0m1 21h0m0-9h0m1 17h0m0-13h0m1-14h0m0-7h0m1-8h0m0 16h0m1-33h0m0 34h0m1 31h0m0-53h0m1 24h0m0-1h0m1 3h0m0-23h0m1 39h0m0-21h0m1-11h0m0 15h0m1-10h0m0 14h0m1-21h0m0-12h0m1 33h0m0-2h0m0 6h0m1-37h0m0 44h0m1-13h0m0 11h0m1-7h0m0-14h0m1 1h0m0 13h0m1-14h0m0 28h0m1-11h0m0 9h0m1 6h0m0-49h0m1 15h0m0-12h0m1 22h0m0 28h0m1-29h0m0 17h0m1-45h0m0 13h0m1 52h0m0-27h0m1-11h0m0 4h0m0-17h0m1-19h0m0 53h0m1-52h0m0 20h0m1 6h0m0 16h0m1-16h0m0-26h0m1 47h0m0-12h0m1 16h0m0-32h0m1 37h0m0-48h0m1-2h0m0-2h0m1 47h0m0-31h0m1 1h0m0-14h0m1 10h0m0-9h0m1 16h0m0 11h0m1-26h0m0-4h0m0 37h0m1 10h0m0-22h0m1 3h0m0-14h0m1-19h0m0 11h0m1 35h0m0-53h0m1 29h0m0-1h0m1 10h0m0-8h0m1-30h0m0 20h0m1 19h0m0 5h0m1-23h0m0 21h0m1-23h0m0 10h0m1-6h0m0 15h0m1-3h0m0-35h0m1 47h0m0-1h0m1 7h0m0-35h0m0-10h0m1 23h0m0 9h0m1-21h0m0 26h0m1-45h0m0 14h0m1 1h0m0-2h0m1 6h0m0 1h0m1 2h0m0-17h0m1 32h0m0-23h0m1 34h0m0-5h0m1 12h0m0 3h0m1-17h0m0-31h0m1-12h0m0 38h0m1 0h0m0-4h0m1 8h0m0-2h0m0-17h0m1 2h0m0 22h0m1-19h0m0 37h0m1-51h0m0 17h0m1 18h0m0-17h0m1-12h0m0-13h0m1 45h0m0-38h0m1 16h0m0-22h0m1 29h0m0-21h0m1 16h0m0 10h0m1-21h0m0 30h0m1-4h0m0-35h0m1 4h0m0-15h0m1 45h0m0-27h0m0-5h0m1 53h0m0-44h0m1 30h0m0-22h0m1-7h0m0 9h0m1 0h0m0 12h0m1 1h0m0 13h0m1-2h0m0-26h0m1 6h0m0-54h0m1 68h0m0-20h0m1-16h0m0 19h0m1-8h0m0 6h0m1-8h0m0-6h0m1-11h0m0 36h0m1-4h0m0-22h0m0 15h0m1-12h0m0 5h0m1-13h0m0 12h0m1-18h0m0 3h0m1 11h0m0 33h0m1-51h0m0 55h0m1 9h0m0-25h0m1-59h0m0 40h0m1-17h0m0 32h0m1 0h0m0-41h0m1 50h0m0 5h0m1-42h0m0 14h0m1 1h0m0 29h0m1-15h0m0-19h0m1-12h0m0 6h0m0 27h0m1-11h0m0 1h0m1-16h0m0 9h0m1 17h0m0-4h0m1-7h0m0 11h0m1-22h0m0 6h0m1-8h0m0 29h0m1-35h0m0 0h0m1-7h0m0 12h0m1 54h0m0-48h0m1 9h0m0 2h0m1-2h0m0 6h0m1 8h0m0 7h0m1-15h0m0-25h0m0 33h0m1-19h0m0 30h0m1-39h0m0 1h0m1-6h0m0 44h0m1-30h0m0-5h0m1 24h0m0-21h0m1-11h0m0 25h0m1-15h0m0-23h0m1 34h0m0 1h0m1-12h0m0 4h0m1 8h0m0-30h0m1 52h0m0-28h0m1 26h0m0-10h0m1-4h0m0-6h0m0-15h0m1 35h0m0-11h0m1 30h0m0-26h0m1-32h0m0 41h0m1-69h0m0 68h0m1-35h0m0 39h0m1-38h0m0 13h0m1-29h0m0 2h0m1 25h0m0-10h0m1 15h0m0 0h0m1 10h0m0-16h0m1 23h0m0-53h0m1 5h0m0 14h0m1 16h0m0 12h0m0-18h0m1 18h0m0 4h0m1-35h0m0 14h0m1-10h0m0 27h0m1-17h0m0-4h0m1-11h0m0 43h0m1-17h0m0-21h0m1-28h0m0 13h0m1 33h0m0-18h0m1 17h0m0-27h0m1 35h0m0-21h0m1 7h0m0 25h0m1-43h0m0 18h0m1-6h0m0 3h0m1 2h0m0 16h0m0-31h0m1 7h0m0 31h0m1-46h0m0-4h0m1 22h0m0-23h0m1 31h0m0 6h0m1 0h0m0 2h0m1-11h0m0-4h0m1-21h0m0 11h0m1 3h0m0 9h0m1-21h0m0-9h0m1 36h0m0-39h0m1 46h0m0-19h0m1-4h0m0 3h0m1 24h0m0-22h0m0-17h0m1-1h0m0 25h0m1-6h0m0-11h0m1 19h0m0-3h0m1 10h0m0-51h0m1 43h0m0-9h0m1 29h0m0-33h0m1 15h0m0-27h0m1 21h0m0-37h0m1 29h0m0 5h0m1-1h0m0-25h0m1 62h0m0-44h0m1-8h0m0 9h0m1 15h0m0-9h0m0 28h0m1-53h0m0 5h0m1 3h0m0 12h0m1 18h0m0-22h0m1-11h0m0 25h0m1-14h0m0 26h0m1-30h0m0 23h0m1-24h0m0 32h0m1-22h0m0 13h0m1 23h0m0-26h0m1-8h0m0-6h0m1 5h0m0 1h0m1-5h0m0 29h0m1-6h0m0-4h0m0-26h0m1 32h0m0-4h0m1 3h0m0-40h0m1 14h0m0 17h0m1-14h0m0 1h0m1 7h0m0-22h0m1 39h0m0 12h0m1-11h0m0-40h0m1 5h0m0 9h0m1 14h0m0 17h0m1-42h0m0-27h0m1 51h0m0 40h0m1-45h0m0 5h0m1 38h0m0-55h0m1 40h0m0-40h0m0 26h0m1-5h0m0-19h0m1 25h0m0-22h0m1 1h0m0 3h0m1-19h0m0 15h0m1 2h0m0-2h0m1 37h0m0 3h0m1-30h0m0-14h0m1 4h0m0 35h0m1-46h0m0 17h0m1 21h0m0-6h0m1 23h0m0-45h0m1 13h0m0-10h0m1 28h0m0-21h0m0 8h0m1-7h0m0 15h0m1 3h0m0-33h0m1 26h0m0 11h0m1-46h0m0 5h0m1 13h0m0 20h0m1 8h0m0-7h0m1-13h0m0-14h0m1 10h0m0 17h0m1-15h0m0-4h0m1-13h0m0 22h0m1-42h0m0 32h0m1-4h0m0 6h0m1-15h0m0 26h0m0-11h0m1 20h0m0-1h0m1 37h0m0-75h0m1 30h0m0-44h0m1 13h0m0 51h0m1-37h0m0 11h0m1-52h0m0 61h0m1-23h0m0 0h0m1 29h0m0-46h0m1 16h0m0-3h0m1 6h0m0-2h0m1 41h0m0-33h0m1 33h0m0-32h0m1 11h0m0-9h0m0 17h0m1-27h0m0 46h0m1-50h0m0-7h0m1 12h0m0 31h0m1-30h0m0 7h0m1 11h0m0-10h0m1 24h0m0 17h0m1-13h0m0-28h0m1-10h0m0 31h0m1-52h0m0 44h0m1-26h0m0-6h0m1 0h0m0 8h0m1 26h0m0-31h0m1 17h0m0 5h0m0-7h0m1 35h0m0-28h0m1-9h0m0-26h0m1 36h0m0-17h0m1 2h0m0-1h0m1 4h0m0 5h0m1 2h0m0-12h0m1 25h0m0-10h0m1-8h0m0 9h0m1-3h0m0 6h0m1 2h0m0 12h0m1-41h0m0 18h0m1 21h0m0-14h0m1-9h0m0 46h0m1-17h0m0-34h0m0 38h0m1-16h0m0 2h0m1-23h0m0 26h0m1-33h0m0 5h0m1-26h0m0 51h0m1 8h0m0 2h0m1-51h0m0 18h0m1 9h0m0 6h0m1-15h0m0-13h0m1 21h0m0 15h0m1-17h0m0-1h0m1-14h0m0 2h0m1 2h0m0-11h0m1 17h0m0 9h0m0 10h0m1-38h0m0 29h0m1-32h0m0 41h0m1-2h0m0-17h0m1 38h0m0-27h0m1 5h0m0 14h0m1-30h0m0-5h0m1-4h0m0-1h0m1 23h0m0 11h0m1-19h0m0-20h0m1 39h0m0-27h0m1 5h0m0-25h0m1 41h0m0-18h0m1-9h0m0 15h0m0 17h0m1 6h0m0-5h0m1-25h0m0 3h0m1-2h0m0 14h0m1-20h0m0-19h0m1 23h0m0-3h0m1-6h0m0 4h0m1 12h0m0 6h0m1 14h0m0-16h0m1-10h0m0-6h0m1-2h0m0 29h0m1-24h0m0 9h0m1 6h0m0-5h0m1-15h0m0 47h0m0-49h0m1-11h0m0 37h0m1-23h0m0 32h0m1-57h0m0 30h0m1 17h0m0-16h0m1 2h0m0-13h0m1 48h0m0-32h0m1 9h0m0-11h0m1 13h0m0-15h0m1-14h0m0 43h0m1-51h0m0 32h0m1-14h0m0 7h0m1 7h0m0 23h0m1-20h0m0 5h0m1-9h0m0-4h0m0-4h0m1 23h0m0-9h0m1-31h0m0 36h0m1-11h0m0-14h0m1 7h0m0-22h0m1 19h0m0 33h0m1 44h0m0-61h0m1-31h0m0 16h0m1 6h0m0-7h0m1-23h0m0 39h0m1-3h0m0-7h0m1 30h0m0-5h0m1 8h0m0-41h0m1-7h0m0 21h0m0 6h0m1-16h0m0 6h0m1 42h0m0-38h0m1-21h0m0 28h0m1-6h0m0 27h0m1-42h0m0 3h0m1 57h0m0-32h0m1-8h0m0 0h0m1 3h0m0 0h0m1 8h0m0-22h0m1-2h0m0-22h0m1-15h0m0 66h0m1-20h0m0-11h0m1-9h0m0 13h0m0-3h0m1 14h0m0-10h0m1-26h0m0 11h0m1 6h0m0 7h0m1 19h0m0-18h0m1 12h0m0 6h0m1-3h0m0-19h0m1-10h0m0 33h0m1 12h0m0-37h0m1 3h0m0 2h0m1 26h0m0-59h0m1 68h0m0-35h0m1 6h0m0 0h0m1-6h0m0 0h0m0-15h0m1 5h0m0-9h0m1 7h0m0 44h0m1-40h0m0 28h0m1 7h0m0-34h0m1-7h0m0 58h0m1-51h0m0 22h0m1-59h0m0 52h0m1 28h0m0-14h0m1-32h0m0 5h0m1 9h0m0-14h0m1 11h0m0 11h0m1-29h0m0 43h0m1-15h0m0 4h0m1 2h0m0-27h0m0 0h0m1-4h0m0 11h0m1 10h0m0-32h0m1 13h0m0 21h0m1-14h0m0 15h0m1-10h0m0 21h0m1-23h0m0 32h0m1-19h0m0-6h0m1-27h0m0 38h0m1 43h0m0-63h0m1 18h0m0-17h0m1 11h0m0-31h0m1 28h0m0 7h0m1-11h0m0 5h0m0 9h0m1 27h0m0-32h0m1-36h0m0 8h0m1 31h0m0 34h0m1-45h0m0-3h0m1 9h0m0 34h0m1-41h0m0-8h0m1-6h0m0 5h0m1-7h0m0 4h0m1 12h0m0 5h0m1 53h0m0-44h0m1-30h0m0 36h0m1-27h0m0 46h0m1 7h0m0-70h0m0 61h0m1-85h0m0 37h0m1 63h0m0-21h0m1-35h0m0-15h0m1 15h0m0 14h0m1-22h0m0 0h0m1-24h0m0 51h0m1 5h0m0-21h0m1-10h0m0 5h0m1 11h0m0 15h0m1 2h0m0-19h0m1-24h0m0 20h0m1-8h0m0 44h0m1 9h0m0-69h0m0 42h0m1-25h0m0 40h0m1-5h0m0-22h0m1 15h0m0 3h0m1-2h0m0-49h0m1 31h0m0-3h0m1 11h0m0-8h0m1-5h0m0-31h0m1 44h0m0 41h0m1-43h0m0-50h0m1 49h0m0-6h0m1 8h0m0-18h0m1 19h0m0-25h0m1 52h0m0-30h0m1 31h0m0-36h0m0 1h0m1-25h0m0 41h0m1-31h0m0 7h0m1-17h0m0 27h0m1 4h0m0 15h0m1-26h0m0-13h0m1-7h0m0 35h0m1 29h0m0-58h0m1 21h0m0-14h0m1 20h0m0-23h0m1 15h0m0 3h0m1-13h0m0-5h0m1 47h0m0-19h0m1-35h0m0 1h0m0 11h0m1 5h0m0-2h0m1-4h0m0 0h0m1-3h0m0 6h0m1-20h0m0 36h0m1 11h0m0-34h0m1-25h0m0 33h0m1-1h0m0-22h0m1 10h0m0 5h0m1-4h0m0 56h0m1-90h0m0 33h0m1 9h0m0-10h0m1 5h0m0 4h0m1 5h0m0-1h0m0-1h0m1-5h0m0 50h0m1-6h0m0-15h0m1-15h0m0-5h0m1 6h0m0-4h0m1 25h0m0-51h0m1 22h0m0-2h0m1 20h0m0-21h0m1 32h0m0-34h0m1 8h0m0 3h0m1 19h0m0-24h0m1 18h0m0 0h0m1-40h0m0 42h0m1-26h0m0 13h0m0 12h0m1-11h0m0-30h0m1 16h0m0 11h0m1-16h0m0 28h0m1-24h0m0 21h0m1-28h0m0 8h0m1-6h0m0 31h0m1 12h0m0-61h0m1 39h0m0 18h0m1 1h0m0-35h0m1 16h0m0-12h0m1 10h0m0 26h0m1-23h0m0-29h0m1 53h0m0-32h0m0 31h0m1-45h0m0 50h0m1-36h0m0 28h0m1-43h0m0 24h0m1-10h0m0 23h0m1-1h0m0-25h0m1-19h0m0 21h0m1 63h0m0-72h0m1 3h0m0 31h0m1-5h0m0-41h0m1 25h0m0-1h0m1-2h0m0 2h0m1-8h0m0-7h0m1 46h0m0-28h0m1 4h0m0 6h0m0-13h0m1-26h0m0 38h0m1-11h0m0-3h0m1 28h0m0-11h0m1-23h0m0 16h0m1-21h0m0 43h0m1-34h0m0-3h0m1 7h0m0 10h0m1-19h0m0 4h0m1 22h0m0 11h0m1-46h0m0 45h0m1-48h0m0 25h0m1-36h0m0 37h0m1-41h0m0 38h0m0-20h0m1-4h0m0 32h0m1-14h0m0 14h0m1-16h0m0 36h0m1-20h0m0 2h0m1-15h0m0 2h0m1-25h0m0 19h0m1 17h0m0 0h0m1-1h0m0-17h0m1 42h0m0-34h0m1 27h0m0-12h0m1-13h0m0 24h0m1-14h0m0-52h0m1 50h0m0-11h0m0 6h0m1 19h0m0-6h0m1-23h0m0 33h0m1-24h0m0 2h0m1 17h0m0-5h0m1-21h0m0-5h0m1 4h0m0 21h0m1-23h0m0-7h0m1 4h0m0 5h0m1-9h0m0 7h0m1-1h0m0 6h0m1 57h0m0-35h0m1-9h0m0-18h0m1 7h0m0-2h0m0 20h0m1 9h0m0 10h0m1-51h0m0 36h0m1-41h0m0-4h0m1 36h0m0 2h0m1-8h0m0 18h0m1 0h0m0-13h0m1-32h0m0 51h0m1 14h0m0-38h0m1-22h0m0 34h0m1-33h0m0-2h0m1 23h0m0 38h0m1-7h0m0-14h0m1 1h0m0-27h0m1 23h0m0-17h0m0 5h0m1-18h0m0-1h0m1 24h0m0-11h0m1-13h0m0 1h0m1-1h0m0-11h0m1-14h0m0 72h0m1-48h0m0 7h0m1-7h0m0 8h0m1-4h0m0 7h0m1-17h0m0-12h0m1 40h0m0-2h0m1-31h0m0 51h0m1-12h0m0-24h0m1-2h0m0 17h0m0-23h0m1 19h0m0 8h0m1-3h0m0 9h0m1-29h0m0 41h0m1-32h0m0-10h0m1 22h0m0 8h0m1-36h0m0 28h0m1-8h0m0-19h0m1 28h0m0-2h0m1-24h0m0 14h0m1-2h0m0 31h0m1-51h0m0 30h0m1 21h0m0-40h0m1 8h0m0-12h0m0-1h0m1 32h0m0-50h0m1 19h0m0-7h0m1 20h0m0 11h0m1-3h0m0 18h0m1-27h0m0 0h0m1 54h0m0-33h0m1-15h0m0-3h0m1 12h0m0-10h0m1 19h0m0-35h0m1-7h0m0 31h0m1-9h0m0-26h0m1 26h0m0-10h0m1 12h0m0 30h0m0-47h0m1-2h0m0 12h0m1 40h0m0-38h0m1-5h0m0-6h0m1 40h0m0-29h0m1-9h0m0 25h0m1-29h0m0-4h0m1 39h0m0-35h0m1 0h0m0-5h0m1 30h0m0 21h0m1-34h0m0 12h0m1 25h0m0-32h0m1-22h0m0 13h0m1-1h0m0 13h0m1-19h0m0 9h0m0 21h0m1-24h0m0 5h0m1-4h0m0 1h0m1-4h0m0 17h0m1-25h0m0 51h0m1-23h0m0 2h0m1-5h0m0-12h0m1 66h0m0-13h0m1-80h0m0 64h0m1-26h0m0-17h0m1 35h0m0-13h0m1 1h0m0-14h0m1-6h0m0-1h0m1 12h0m0-6h0m0 15h0m1 5h0m0 3h0m1-5h0m0-25h0m1 35h0m0-45h0m1 47h0m0-29h0m1 16h0m0 26h0m1-33h0m0-1h0m1 1h0m0-15h0m1 19h0m0 14h0m1-23h0m0 7h0m1 25h0m0-15h0m1-26h0m0 10h0m1 24h0m0-15h0m1-16h0m0 14h0m0-6h0m1-12h0m0 59h0m1-46h0m0 13h0m1-44h0m0 6h0m1-3h0m0 2h0m1 14h0m0 36h0m1-23h0m0 18h0m1-11h0m0-14h0m1-10h0m0 23h0m1-4h0m0-11h0m1 17h0m0-15h0m1 4h0m0-15h0m1 18h0m0 13h0m1-10h0m0 14h0m0-20h0m1-9h0m0 8h0m1 15h0m0-20h0m1-5h0m0 7h0m1 11h0m0-39h0m1 42h0m0-8h0m1 38h0m0-25h0m1-18h0m0-3h0m1 16h0m0-9h0m1-5h0m0 30h0m1-31h0m0-11h0m1 13h0m0 8h0m1-29h0m0 21h0m1 0h0m0-11h0m1 6h0m0 9h0m0-25h0m1 17h0m0 26h0m1-10h0m0-4h0m1-1h0m0 6h0m1-9h0m0 3h0m1 18h0m0-24h0m1 1h0m0 40h0m1-45h0m0 31h0m1 1h0m0 2h0m1-38h0m0 16h0m1-18h0m0 45h0m1-9h0m0-24h0m1 7h0m0-7h0m1 12h0m0 6h0m0-27h0m1 21h0m0-19h0m1 27h0m0-28h0m1 38h0m0-12h0m1-16h0m0-3h0m1-15h0m0-4h0m1 36h0m0-49h0m1 36h0m0-12h0m1-6h0m0 46h0m1-19h0m0-36h0m1 17h0m0 26h0m1-28h0m0 23h0m1-11h0m0 37h0m1-38h0m0 10h0m0-1h0m1 17h0m0-50h0m1 6h0m0 20h0m1-12h0m0 25h0m1-14h0m0 8h0m1-46h0m0 52h0m1-51h0m0 39h0m1 5h0m0 38h0m1-37h0m0 11h0m1-19h0m0-2h0m1 14h0m0-9h0m1 1h0m0-27h0m1 39h0m0 20h0m1-67h0m0 20h0m0-7h0m1 29h0m0 10h0m1-8h0m0-1h0m1-44h0m0 69h0m1-31h0m0 45h0m1-56h0m0-8h0m1 22h0m0-19h0m1-16h0m0 16h0m1 21h0m0-25h0m1 39h0m0-26h0m1-4h0m0 36h0m1-35h0m0 5h0m1 10h0m0 10h0m1-29h0m0 33h0m1-35h0m0-2h0m0 18h0m1-10h0m0 24h0m1-4h0m0 4h0m1-60h0m0 34h0m1 2h0m0-4h0m1 8h0m0-4h0m1 2h0m0 23h0m1-19h0m0 0h0m1-35h0m0 32h0m1-12h0m0 21h0m1 9h0m0 20h0m1-15h0m0-19h0m1-27h0m0-2h0m1 44h0m0-52h0m0 18h0m1 25h0m0 15h0m1-34h0m0-1h0m1 6h0m0-6h0m1 10h0m0 25h0m1 6h0m0 19h0m1-33h0m0-6h0m1 9h0m0-1h0m1 6h0m0-27h0m1-7h0m0 21h0m1-13h0m0 19h0m1-19h0m0-7h0m1-9h0m0 17h0m1-9h0m0 6h0m0 23h0m1-8h0m0 33h0m1-51h0m0 19h0m1-26h0m0 44h0m1-25h0m0 17h0m1-43h0m0 36h0m1 13h0m0 7h0m1-46h0m0-5h0m1-8h0m0 59h0m1-39h0m0 17h0m1-15h0m0 42h0m1-63h0m0-3h0m1 21h0m0 5h0m1 18h0m0 10h0m0-45h0m1 3h0m0 44h0m1-38h0m0 26h0m1-21h0m0-15h0m1 23h0m0 36h0m1-51h0m0 2h0m1 7h0m0 14h0m1 23h0m0-23h0m1-46h0m0 54h0m1-5h0m0 11h0m1-42h0m0 20h0m1 15h0m0 4h0m1-4h0m0-25h0m1 19h0m0-23h0m0-25h0m1 69h0m0-40h0m1 29h0m0-18h0m1 8h0m0-11h0m1 34h0m0-24h0m1-24h0m0 39h0m1-2h0m0 21h0m1-37h0m0 21h0m1 13h0m0-17h0m1-10h0m0-28h0m1 54h0m0-42h0m1 17h0m0-11h0m1-13h0m0 2h0m1 56h0m0-3h0m1-49h0m0 16h0m0-11h0m1 6h0m0 21h0m1-49h0m0 19h0m1 9h0m0-16h0m1 39h0m0-58h0m1 32h0m0 23h0m1-22h0m0 36h0m1-26h0m0 23h0m1-27h0m0-15h0m1 2h0m0 10h0m1 34h0m0-47h0m1 75h0m0-62h0m1 16h0m0-20h0m1 4h0m0-16h0m0 36h0m1-35h0m0 19h0m1-10h0m0 7h0m1 12h0m0-28h0m1 27h0m0-30h0m1 23h0m0-11h0m1-6h0m0 4h0m1 31h0m0-22h0m1 60h0m0-49h0m1-1h0m0 16h0m1 14h0m0 9h0m1-17h0m0 5h0m1-17h0m0 31h0m1-43h0m0 30h0m0-13h0m1 18h0m0-3h0m1-14h0m0 37h0m1-52h0m0 23h0m1-3h0m0 4h0m1 5h0m0-21h0m1 10h0m0-22h0m1-24h0m0 8h0m1 1h0m0 16h0m1 0h0m0 6h0m1-25h0m0-18h0m1 10h0m0-24h0m1-14h0m0 44h0m1-3h0m0-1h0m0-12h0m1-2h0m0-20h0m1-39h0m0 10h0m1 1h0m0 16h0m1-2h0m0-4h0m1 72h0m0-21h0m1 5h0m0-40h0m1-7h0m0 18h0m1-9h0m0 8h0m1-14h0m0 2h0m1-13h0m0 9h0m1 41h0m0-5h0m1 9h0m0-10h0m1-62h0m0 32h0m1-1h0m0 24h0m0-27h0m1 27h0m0-31h0m1 25h0m0 9h0m1 8h0m0-23h0m1-17h0m0 39h0m1-8h0m0-33h0m1 34h0m0-37h0m1-3h0m0 42h0m1-27h0m0-6h0m1 24h0m0-58h0m1 55h0m0-17h0m1 14h0m0-31h0m1 44h0m0-28h0m1 54h0m0-49h0m0 8h0m1 4h0m0-19h0m1 29h0m0-17h0m1-47h0m0 62h0m1 4h0m0-40h0m1 20h0m0-14h0m1 0h0m0 3h0m1-5h0m0-25h0m1 26h0m0-25h0m1 6h0m0 4h0m1 9h0m0-3h0m1 55h0m0-14h0m1 1h0m0-19h0m1-2h0m0 27h0m0-45h0m1 8h0m0-14h0m1 15h0m0 16h0m1-31h0m0 53h0m1-56h0m0 14h0m1 85h0m0-22h0m1-10h0m0-39h0m1-42h0m0 45h0m1-14h0m0 25h0m1 43h0m0 7h0m1-52h0m0-22h0m1 15h0m0 4h0m1 10h0m0-39h0m1-16h0m0 20h0m0 23h0m1-19h0m0 36h0m1-42h0m0 57h0m1-3h0m0 5h0m1-37h0m0-33h0m1 19h0m0 6h0m1 36h0m0-21h0m1 12h0m0-5h0m1-8h0m0-2h0m1-31h0m0 60h0m1-47h0m0 0h0m1 17h0m0-19h0m1-14h0m0-16h0m1 8h0m0 21h0m1 1h0m0 29h0m0-23h0m1 43h0m0-63h0m1 0h0m0 12h0m1-37h0m0 61h0m1-18h0m0-61h0m1 82h0m0-9h0m1 4h0m0-79h0m1 54h0m0 13h0m1-28h0m0-3h0m1 19h0m0 32h0m1-37h0m0-4h0m1 30h0m0 13h0m1-52h0m0 30h0m1 13h0m0-21h0m0 12h0m1-16h0m0 16h0m1 44h0m0-22h0m1 14h0m0 10h0m1-37h0m0 7h0m1-9h0m0-23h0m1 49h0m0-64h0m1 54h0m0-6h0m1 46h0m0-58h0m1-48h0m0-15h0m1 19h0m0 82h0m1-12h0m0-37h0m1-5h0m0 3h0m1 25h0m0-29h0m0-20h0m1 30h0m0 27h0m1-68h0m0 27h0m1 20h0m0 13h0m1-18h0m0-6h0m1-15h0m0 52h0m1-53h0m0 33h0m1 3h0m0 20h0m1-12h0m0-52h0m1 7h0m0 18h0m1 66h0m0-37h0m1-63h0m0 77h0m1-47h0m0-7h0m1 53h0m0-59h0m0 57h0m1-29h0m0-2h0m1 13h0m0-41h0m1 11h0m0-10h0m1 14h0m0 2h0m1-24h0m0 45h0m1-21h0m0 15h0m1-10h0m0-22h0m1 15h0m0-9h0m1 23h0m0-41h0m1 19h0m0-15h0m1 3h0m0 12h0m1-4h0m0 10h0m1 62h0m0-33h0m1-56h0m0-7h0m0-3h0m1 44h0m0-1h0m1 8h0m0 23h0m1-13h0m0-44h0m1 30h0m0 29h0m1-13h0m0-27h0m1 37h0m0-34h0m1-23h0m0 4h0m1 12h0m0 13h0m1-43h0m0 61h0m1-11h0m0 9h0m1-42h0m0 39h0m1 7h0m0-32h0m1 2h0m0-4h0m0 73h0m1-66h0m0 1h0m1 20h0m0-3h0m1-55h0m0 45h0m1-4h0m0-8h0m1-1h0m0 5h0m1 33h0m0 16h0m1-49h0m0 20h0m1-29h0m0-6h0m1 6h0m0 1h0m1 16h0m0-19h0m1 6h0m0 7h0m1-2h0m0-10h0m1 17h0m0 43h0m0-55h0m1-2h0m0-5h0m1 43h0m0-39h0m1 3h0m0 7h0m1 34h0m0-25h0m1 22h0m0-5h0m1 6h0m0-58h0m1 29h0m0 5h0m1-16h0m0 1h0m1 21h0m0-19h0m1-28h0m0 29h0m1-37h0m0 38h0m1-25h0m0 50h0m1-7h0m0-4h0m0 6h0m1-3h0m0-48h0m1 50h0m0-17h0m1 23h0m0 1h0m1-22h0m0 63h0m1-83h0m0 51h0m1-33h0m0 40h0m1-47h0m0-3h0m1 0h0m0-2h0m1 12h0m0-26h0m1 11h0m0 40h0m1-26h0m0 9h0m1 7h0m0-41h0m1 28h0m0-11h0m0 5h0m1 40h0m0-37h0m1-4h0m0 67h0m1-63h0m0-9h0m1 7h0m0-12h0m1 13h0m0 14h0m1-6h0m0-13h0m1 69h0m0-46h0m1-20h0m0 43h0m1-25h0m0-11h0m1-22h0m0 86h0m1-76h0m0 9h0m1-17h0m0 9h0m1-12h0m0 6h0m1 29h0m0 6h0m0-40h0m1-18h0m0 71h0m1 4h0m0-69h0m1 19h0m0 25h0m1-37h0m0 34h0m1 28h0m0-51h0m1 1h0m0 5h0m1 22h0m0-26h0m1-1h0m0-9h0m1 11h0m0 41h0m1-42h0m0 72h0m1-67h0m0 1h0m1 5h0m0-9h0m1 1h0m0 33h0m0-20h0m1 16h0m0 14h0m1-24h0m0-1h0m1 14h0m0-41h0m1-6h0m0 45h0m1 5h0m0-40h0m1 40h0m0-55h0m1 38h0m0-22h0m1 7h0m0 11h0m1 4h0m0 31h0m1-67h0m0 62h0m1-35h0m0-16h0m1 7h0m0-9h0m1 30h0m0-9h0m0 32h0m1-32h0m0 12h0m1-31h0m0 46h0m1-28h0m0 23h0m1-40h0m0 28h0m1 20h0m0-10h0m1-19h0m0 37h0m1-41h0m0-1h0m1-4h0m0 31h0m1 32h0m0-58h0m1-19h0m0 32h0m1-46h0m0 69h0m1 5h0m0-75h0m1 39h0m0 17h0m0 19h0m1-16h0m0 20h0m1-7h0m0-41h0m1 18h0m0-33h0m1 37h0m0 10h0m1-32h0m0 18h0m1 10h0m0-13h0m1 16h0m0 42h0m1-39h0m0-73h0m1 46h0m0-9h0m1 35h0m0-16h0m1-7h0m0-3h0m1 35h0m0-4h0m1-47h0m0 13h0m1-19h0m0 19h0m0-7h0m1 26h0m0 21h0m1-65h0m0 19h0m1 22h0m0-13h0m1 2h0m0 3h0m1 24h0m0-13h0m1-38h0m0 18h0m1-40h0m0 30h0m1 22h0m0 1h0m1 10h0m0-27h0m1-5h0m0 43h0m1-23h0m0-23h0m1 11h0m0-16h0m1 49h0m0-17h0m0-28h0m1 7h0m0 45h0m1-31h0m0 6h0m1 9h0m0-50h0m1-44h0m0 79h0m1-35h0m0 6h0m1 32h0m0-27h0m1 26h0m0-5h0m1 17h0m0-21h0m1 13h0m0-43h0m1 4h0m0 53h0m1-35h0m0 31h0m1-56h0m0 47h0m1-23h0m0 17h0m0-14h0m1 73h0m0-39h0m1-37h0m0 14h0m1 52h0m0-53h0m1-10h0m0-27h0m1 62h0m0-38h0m1-7h0m0-2h0m1 9h0m0-41h0m1 90h0m0-48h0m1-11h0m0 22h0m1 23h0m0-36h0m1 32h0m0-24h0m1-24h0m0 6h0m1 35h0m0 32h0m0-66h0m1 17h0m0 51h0m1 1h0m0-13h0m1-53h0m0 28h0m1 24h0m0-47h0m1-12h0m0 10h0m1 21h0m0-3h0m1 25h0m0-11h0m1 24h0m0 12h0m1-26h0m0 3h0m1-33h0m0-1h0m1 12h0m0 10h0m1-44h0m0 41h0m1-34h0m0 67h0m1-65h0m0 15h0m0-15h0m1-7h0m0 21h0m1 12h0m0 6h0m1 33h0m0-34h0m1-53h0m0 24h0m1-27h0m0 50h0m1-26h0m0 2h0m1 34h0m0-9h0m1-12h0m0 2h0m1-2h0m0 31h0m1-34h0m0 7h0m1 4h0m0-34h0m1 24h0m0 27h0m1-33h0m0-12h0m0 34h0m1-26h0m0 19h0m1-27h0m0 9h0m1 7h0m0-13h0m1 19h0m0-45h0m1 50h0m0 17h0m1 1h0m0-38h0m1 0h0m0 6h0m1 15h0m0 27h0m1-42h0m0-10h0m1 52h0m0-61h0m1 63h0m0-27h0m1-11h0m0-9h0m1-3h0m0 18h0m0 34h0m1-57h0m0-7h0m1 53h0m0-1h0m1-41h0m0 10h0m1-9h0m0 9h0m1 12h0m0-8h0m1 34h0m0-15h0m1-22h0m0-42h0m1 34h0m0 48h0m1-21h0m0-19h0m1 18h0m0-33h0m1 3h0m0 25h0m1 45h0m0-76h0m1 15h0m0 7h0m0-85h0m1 78h0m0 12h0m1-23h0m0-7h0m1 23h0m0-21h0m1 38h0m0-38h0m1 66h0m0-67h0m1 2h0m0 17h0m1-8h0m0 19h0m1 3h0m0 36h0m1-67h0m0 52h0m1-64h0m0 39h0m1-69h0m0 85h0m1-51h0m0 28h0m1-3h0m0-3h0m1 1h0m0-10h0m0 0h0m1 30h0m0-41h0m1 66h0m0-54h0m1 19h0m0-48h0m1 86h0m0-23h0m1 2h0m0-38h0m1-11h0m0 70h0m1-80h0m0-2h0m1-2h0m0 6h0m1 25h0m0 42h0m1-50h0m0 53h0m1-38h0m0 16h0m1 10h0m0 9h0m1-34h0m0-12h0m0 26h0m1-28h0m0 25h0m1-57h0m0 33h0m1-30h0m0 71h0m1-22h0m0-19h0m1 33h0m0-7h0m1 28h0m0-31h0m1-50h0m0 81h0m1 9h0m0-83h0m1 47h0m0 27h0m1-32h0m0-50h0m1 37h0m0 38h0m1-33h0m0 13h0m1-2h0m0 70h0m0-92h0m1-21h0m0 26h0m1 24h0m0 13h0m1-36h0m0 11h0m1-32h0m0 50h0m1-27h0m0 15h0m1-54h0m0 37h0m1 6h0m0 38h0m1-70h0m0 45h0m1 13h0m0-25h0m1-18h0m0 62h0m1-94h0m0 75h0m1-16h0m0-16h0m1-5h0m0 36h0m0-40h0m1-5h0m0 1h0m1-1h0m0-8h0m1-5h0m0 17h0m1 3h0m0 44h0m1-9h0m0-54h0m1 68h0m0-40h0m1-23h0m0 1h0m1 21h0m0-8h0m1-5h0m0 0h0m1 18h0m0-28h0m1 9h0m0 0h0m1 53h0m0-39h0m1-9h0m0-28h0m0 38h0m1-30h0m0 89h0m1-67h0m0-36h0m1 24h0m0 9h0m1-20h0m0-6h0m1 50h0m0-32h0m1 40h0m0-13h0m1-40h0m0 60h0m1-65h0m0 24h0m1 7h0m0 12h0m1 33h0m0-54h0m1-19h0m0 30h0m1 35h0m0-9h0m1-1h0m0-8h0m1-17h0m0 20h0m0 7h0m1-33h0m0-6h0m1 61h0m0-17h0m1-18h0m0-9h0m1-49h0m0 68h0m1-69h0m0 40h0m1 9h0m0 36h0m1 23h0m0-51h0m1-3h0m0 7h0m1-5h0m0-3h0m1-51h0m0 94h0m1-69h0m0 5h0m1 42h0m0 20h0m1-55h0m0-32h0m0 71h0m1-56h0m0 74h0m1-53h0m0-19h0m1 49h0m0 4h0m1-39h0m0 23h0m1-24h0m0-3h0m1-12h0m0 2h0m1 37h0m0-29h0m1 0h0m0 75h0m1-59h0m0 28h0m1-14h0m0-4h0m1-7h0m0-10h0m1 14h0m0 7h0m1 18h0m0 5h0m0-53h0m1-3h0m0-10h0m1 27h0m0 12h0m1 9h0m0-56h0m1 63h0m0-40h0m1-16h0m0 8h0m1 32h0m0 29h0m1-17h0m0 28h0m1-45h0m0-11h0m1-17h0m0 31h0m1 27h0m0-40h0m1 20h0m0-59h0m1 38h0m0 24h0m1 9h0m0 22h0m0-88h0m1 20h0m0 4h0m1 54h0m0-25h0m1 38h0m0-11h0m1 3h0m0-100h0m1 39h0m0 37h0m1 10h0m0-28h0m1-11h0m0-16h0m1 28h0m0-13h0m1 40h0m0-31h0m1-9h0m0 52h0m1-25h0m0-48h0m1 61h0m0-46h0m1 10h0m0-35h0m1 51h0m0-7h0m0 11h0m1 10h0m0-24h0m1 43h0m0-21h0m1 7h0m0-35h0m1 10h0m0-11h0m1-4h0m0 5h0m1-2h0m0-22h0m1 5h0m0 28h0m1-18h0m0 47h0m1-51h0m0 4h0m1-37h0m0 64h0m1-51h0m0 63h0m1-67h0m0 19h0m1 56h0m0-9h0m0 26h0m1-55h0m0-2h0m1-22h0m0-8h0m1 35h0m0 37h0m1-69h0m0 87h0m1-95h0m0 24h0m1-25h0m0 110h0m1-79h0m0 38h0m1-23h0m0-16h0m1 17h0m0 22h0m1-37h0m0 0h0m1-36h0m0-14h0m1 23h0m0-6h0m1 71h0m0-73h0m0 33h0m1 19h0m0 35h0m1-60h0m0 73h0m1-59h0m0-7h0m1-20h0m0 64h0m1-14h0m0-15h0m1-38h0m0 98h0m1-84h0m0 60h0m1-47h0m0 2h0m1 50h0m0-32h0m1-36h0m0 12h0m1 20h0m0 13h0m1 21h0m0-50h0m1-24h0m0 18h0m0 4h0m1-19h0m0-12h0m1 28h0m0 57h0m1-21h0m0-24h0m1-11h0m0 11h0m1-3h0m0 6h0m1 2h0m0-5h0m1-16h0m-846 247h0m-1547-43h0m2062-99h0" stroke="#ff0000" stroke-width="14.5" stroke-linecap="square" fill="none"/></g>
<g transform="scale(.1)"><path d="m654 3341h0m1-20h0m0-10h0m1-29h0m0 15h0m0 70h0m1-98h0m0-12h0m1 8h0m0 10h0m1-18h0m0 61h0m0-17h0m1 46h0m0-29h0m1-38h0m0 66h0m1-42h0m0 47h0m1 5h0m0 40h0m0-36h0m1-40h0m0-38h0m1 7h0m0 73h0m1-61h0m0 2h0m0 15h0m1-34h0m0 49h0m1-9h0m0 28h0m1 50h0m0-7h0m1 7h0m0-45h0m0-29h0m1-29h0m0 142h0m1-26h0m0-147h0m1 47h0m0 30h0m0 15h0m1-68h0m0 137h0m1-48h0m0-98h0m1-9h0m0 55h0m1-10h0m0-13h0m0-12h0m1-28h0m0-15h0m1 46h0m0-14h0m1 43h0m0-10h0m0-67h0m1 35h0m0 20h0m1 12h0m0-42h0m1 34h0m0 20h0m1-51h0m0 4h0m0-33h0m1 46h0m0-40h0m1 54h0m0-62h0m1 90h0m0-58h0m1-9h0m0 6h0m0 59h0m1-57h0m0-42h0m1 12h0m0-16h0m1 64h0m0 78h0m0-8h0m1 0h0m0-53h0m1-18h0m0 27h0m1 2h0m0-34h0m1-25h0m0 150h0m0-98h0m1 65h0m0 77h0m1-162h0m0 121h0m1 93h0m0 76h0m0-131h0m1 81h0m0-183h0m1 74h0m0 67h0m1-35h0m0 138h0m1-10h0m0 133h0m0-88h0m1-167h0m0-150h0m1 141h0m0 159h0m1 161h0m0-17h0m0 18h0m1-112h0m0 271h0m1-189h0m0 195h0m1 66h0m0 16h0m1-127h0m0-193h0m0 51h0m1 32h0m0 163h0m1 40h0m0-201h0m1 140h0m0-81h0m0 75h0m1-83h0m0 62h0m1 2h0m0 30h0m1-4h0m0 50h0m1 7h0m0-50h0m0 102h0m1 53h0m0-113h0m1 62h0m0-14h0m1 68h0m0-57h0m0-72h0m1-14h0m0 79h0m1-67h0m0 92h0m1 46h0m0-59h0m1-203h0m0 139h0m0 90h0m1-37h0m0 1h0m1-43h0m0 42h0m1 7h0m0 65h0m0-61h0m1 71h0m0-70h0m1-43h0m0 100h0m1 3h0m0-60h0m1 27h0m0 16h0m0-32h0m1 35h0m0 73h0m1-109h0m0 100h0m1-110h0m0 39h0m0 41h0m1-55h0m0 14h0m1 1h0m0 3h0m1 59h0m0-228h0m1 91h0m0 10h0m0-20h0m1 64h0m0-81h0m1 7h0m0 80h0m1-19h0m0 25h0m1 26h0m0 5h0m0 7h0m1 7h0m0-2h0m1-17h0m0 20h0m1-12h0m0-69h0m0 7h0m1 17h0m0 17h0m1 64h0m0-47h0m1-61h0m0 24h0m1 32h0m0-21h0m0-2h0m1 0h0m0 8h0m1-17h0m0-57h0m1 43h0m0 18h0m0-3h0m1-77h0m0 62h0m1 54h0m0-50h0m1-10h0m0 91h0m1-92h0m0 77h0m0-59h0m1 89h0m0-125h0m1 102h0m0-26h0m1-7h0m0-41h0m0-24h0m1 83h0m0-40h0m1 6h0m0-55h0m1-149h0m0 165h0m1 16h0m0 77h0m0-229h0m1 104h0m0 43h0m1-39h0m0-137h0m1 160h0m0-36h0m0-15h0m1-109h0m0 187h0m1-64h0m0 71h0m1-60h0m0 24h0m1-4h0m0 12h0m0 25h0m1-2h0m0 21h0m1 16h0m0-10h0m1-11h0m0-5h0m0-12h0m1-60h0m0 11h0m1 65h0m0 2h0m1-56h0m0-57h0m1 76h0m0-41h0m0 89h0m1-55h0m0 41h0m1-20h0m0-3h0m1-64h0m0 78h0m0-43h0m1 2h0m0-24h0m1-12h0m0 41h0m1-49h0m0 64h0m1-56h0m0 33h0m0-42h0m1 24h0m0-25h0m1 53h0m0 30h0m1 4h0m0-25h0m0-68h0m1 12h0m0 111h0m1-61h0m0 43h0m1-74h0m0 73h0m1-20h0m0-69h0m0 18h0m1-4h0m0 53h0m1-54h0m0-3h0m1-45h0m0 134h0m1-59h0m0 44h0m0-28h0m1 0h0m0 46h0m1-73h0m0-21h0m1 65h0m0 6h0m0-21h0m1 52h0m0-102h0m1-36h0m0 41h0m1 54h0m0-40h0m1 57h0m0-30h0m0-45h0m1 27h0m0 88h0m1-23h0m0-76h0m1 77h0m0-66h0m0 14h0m1-23h0m0 73h0m1 4h0m0 6h0m1-40h0m0-176h0m1 191h0m0 41h0m0-62h0m1 32h0m0 12h0m1-14h0m0-45h0m1 40h0m0-31h0m0-68h0m1 66h0m0-64h0m1 70h0m0-33h0m1 38h0m0-1h0m1-42h0m0 44h0m0-1h0m1 9h0m0-62h0m1 6h0m0 65h0m1 13h0m0-89h0m0 83h0m1-14h0m0 25h0m1 6h0m0-2h0m1-10h0m0 35h0m1-197h0m0 151h0m0 73h0m1-58h0m0 34h0m1-15h0m0-79h0m1 116h0m0-102h0m0-5h0m1-31h0m0 31h0m1 71h0m0-61h0m1 43h0m0-13h0m1-28h0m0 10h0m0-17h0m1 81h0m0-78h0m1 12h0m0-40h0m1 64h0m0 10h0m0-43h0m1 65h0m0-15h0m1-107h0m0-120h0m1 159h0m0 36h0m1 42h0m0-86h0m0-70h0m1 120h0m0 0h0m1-102h0m0 16h0m1 50h0m0-45h0m0 86h0m1-55h0m0 5h0m1 17h0m0 59h0m1-135h0m0 66h0m1-2h0m0-23h0m0-4h0m1 56h0m0-47h0m1 31h0m0-20h0m1-27h0m0 90h0m1-80h0m0 49h0m0-13h0m1-30h0m0-13h0m1 54h0m0 25h0m1 24h0m0 4h0m0-45h0m1 2h0m0-18h0m1 22h0m0-94h0m1 63h0m0-42h0m1 42h0m0 11h0m0-20h0m1 8h0m0 47h0m1-16h0m0 51h0m1 1h0m0-13h0m0-25h0m1-7h0m0 6h0m1-7h0m0 9h0m1-15h0m0 21h0m1-19h0m0 43h0m0-3h0m1 0h0m0-30h0m1 20h0m0 3h0m1-48h0m0-48h0m0 58h0m1 9h0m0-14h0m1 38h0m0-59h0m1-10h0m0 25h0m1-52h0m0 42h0m0 26h0m1 5h0m0-81h0m1 104h0m0-93h0m1 28h0m0 24h0m0 6h0m1 18h0m0-67h0m1 44h0m0 6h0m1-40h0m0 0h0m1 57h0m0-67h0m0 40h0m1 45h0m0-143h0m1 81h0m0 27h0m1 95h0m0-82h0m0 58h0m1-27h0m0 22h0m1-29h0m0 12h0m1-51h0m0 23h0m1 23h0m0-47h0m0 71h0m1-112h0m0 18h0m1 9h0m0 4h0m1-65h0m0-18h0m0 113h0m1-48h0m0-30h0m1 28h0m0-38h0m1-87h0m0 70h0m1-109h0m0 77h0m0-26h0m1 13h0m0-11h0m1-159h0m0 92h0m1 78h0m0-110h0m0-43h0m1 137h0m0-23h0m1-166h0m0 97h0m1 43h0m0-166h0m1-40h0m0 132h0m0-121h0m1 132h0m0 12h0m1-11h0m0 5h0m1 29h0m0-42h0m0-30h0m1-101h0m0 208h0m1-137h0m0-120h0m1 97h0m0 27h0m1-23h0m0 46h0m0-140h0m1 116h0m0 17h0m1-137h0m0 129h0m1 22h0m0 2h0m1-179h0m0 167h0m0-33h0m1-117h0m0 131h0m1-64h0m0 78h0m1-193h0m0 67h0m0-89h0m1 100h0m0-57h0m1 16h0m0 129h0m1-222h0m0 58h0m1 16h0m0 18h0m0-84h0m1 103h0m0-53h0m1 65h0m0-143h0m1 60h0m0-57h0m0-15h0m1 10h0m0-63h0m1 57h0m0-1h0m1-15h0m0-13h0m1 92h0m0-9h0m0-62h0m1-36h0m0 84h0m1-101h0m0-47h0m1 151h0m0-154h0m0 197h0m1-164h0m0 13h0m1-42h0m0 51h0m1-5h0m0 13h0m1-59h0m0 90h0m0-85h0m1 10h0m0-43h0m1 78h0m0-66h0m1 85h0m0-90h0m0 86h0m1-25h0m0 70h0m1-124h0m0-13h0m1 78h0m0-51h0m1-13h0m0 38h0m0-15h0m1 45h0m0-9h0m1-11h0m0-7h0m1-23h0m0 22h0m0-27h0m1 97h0m0-60h0m1 47h0m0-7h0m1-57h0m0 1h0m1 58h0m0-14h0m0-105h0m1 103h0m0-28h0m1 87h0m0-51h0m1 23h0m0 8h0m0 18h0m1-120h0m0 117h0m1-50h0m0 50h0m1-157h0m0 85h0m1-37h0m0 127h0m0-111h0m1-9h0m0 13h0m1-3h0m0 102h0m1-128h0m0 54h0m0-15h0m1 57h0m0-81h0m1 48h0m0 54h0m1-28h0m0-92h0m1 60h0m0-71h0m0 31h0m1 33h0m0-66h0m1-5h0m0 11h0m1 39h0m0 10h0m1-47h0m0 9h0m0-25h0m1-26h0m0-18h0m1 73h0m0-33h0m1 24h0m0 42h0m0-35h0m1-2h0m0-9h0m1-41h0m0 11h0m1 45h0m0-35h0m1 17h0m0-2h0m0-3h0m1-23h0m0 60h0m1-31h0m0-29h0m1 9h0m0 30h0m0-4h0m1 36h0m0 13h0m1-82h0m0 21h0m1 15h0m0 20h0m1 18h0m0-35h0m0 65h0m1-31h0m0-12h0m1-19h0m0 8h0m1-47h0m0-9h0m0 105h0m1-52h0m0 44h0m1 17h0m0 24h0m1 7h0m0-95h0m1 17h0m0-58h0m0 91h0m1 35h0m0 56h0m1-118h0m0 3h0m1 36h0m0-48h0m0 8h0m1 14h0m0-41h0m1 80h0m0 0h0m1 22h0m0-138h0m1 81h0m0-36h0m0 96h0m1-134h0m0 90h0m1-86h0m0 52h0m1-29h0m0-10h0m0-12h0m1 79h0m0-44h0m1 55h0m0-58h0m1 48h0m0-41h0m1 160h0m0-149h0m0 47h0m1 82h0m0-132h0m1-44h0m0-14h0m1 96h0m0-4h0m0 4h0m1-4h0m0-84h0m1 62h0m0-16h0m1-12h0m0-7h0m1-39h0m0 113h0m0-45h0m1-15h0m0 10h0m1-32h0m0-25h0m1 2h0m0 170h0m0-176h0m1 45h0m0-13h0m1-49h0m0 30h0m1 23h0m0-36h0m1-10h0m0 44h0m0-18h0m1 66h0m0-51h0m1 18h0m0-23h0m1-12h0m0 14h0m1-16h0m0 118h0m0-111h0m1 40h0m0-35h0m1-3h0m0 59h0m1-39h0m0-36h0m0 56h0m1-56h0m0 38h0m1-40h0m0 69h0m1-51h0m0 68h0m1 34h0m0 14h0m0-111h0m1-17h0m0 29h0m1 71h0m0 24h0m1-93h0m0 47h0m0-73h0m1 43h0m0-22h0m1 9h0m0-14h0m1 28h0m0 111h0m1-205h0m0 76h0m0-59h0m1-5h0m0 9h0m1 69h0m0-34h0m1-45h0m0 27h0m0-34h0m1 22h0m0-25h0m1 22h0m0 15h0m1-70h0m0 37h0m1 18h0m0 22h0m0-84h0m1 47h0m0-44h0m1 43h0m0-50h0m1 30h0m0-20h0m0 36h0m1-72h0m0 93h0m1-63h0m0 8h0m1 3h0m0-9h0m1 1h0m0 25h0m0-26h0m1-30h0m0 44h0m1 16h0m0-44h0m1-24h0m0 19h0m0-21h0m1-6h0m0 3h0m1 17h0m0-7h0m1 35h0m0-19h0m1 42h0m0-78h0m0 26h0m1 51h0m0-32h0m1-42h0m0 43h0m1-9h0m0-12h0m0-1h0m1-33h0m0 48h0m1-46h0m0 9h0m1 45h0m0-13h0m1-35h0m0 6h0m0 62h0m1-70h0m0-32h0m1 162h0m0-58h0m1-9h0m0-25h0m0-78h0m1 45h0m0-25h0m1 27h0m0 28h0m1-65h0m0 41h0m1 11h0m0-29h0m0 37h0m1-7h0m0-60h0m1 34h0m0-14h0m1-36h0m0 85h0m1-64h0m0-5h0m0 130h0m1-66h0m0-55h0m1 5h0m0 24h0m1-20h0m0 34h0m0-47h0m1 10h0m0 26h0m1-29h0m0 36h0m1-43h0m0-8h0m1-7h0m0 95h0m0-59h0m1-2h0m0 102h0m1-97h0m0 10h0m1-37h0m0 131h0m0 45h0m1-108h0m0-56h0m1 19h0m0 2h0m1 30h0m0-73h0m1 53h0m0-3h0m0-18h0m1-21h0m0-2h0m1-8h0m0 26h0m1-23h0m0 2h0m0-7h0m1 17h0m0-11h0m1 63h0m0 13h0m1-23h0m0 83h0m1-51h0m0-82h0m0 12h0m1 20h0m0-6h0m1-18h0m0-34h0m1 24h0m0 24h0m0-6h0m1 124h0m0-116h0m1 58h0m0-10h0m1-39h0m0-17h0m1 29h0m0-20h0m0 20h0m1-2h0m0 20h0m1-41h0m0 17h0m1-18h0m0-3h0m0 43h0m1 7h0m0-36h0m1-12h0m0 60h0m1-60h0m0 59h0m1-64h0m0 61h0m0-44h0m1 29h0m0-7h0m1-18h0m0 45h0m1-40h0m0 4h0m0 31h0m1-46h0m0 24h0m1-21h0m0 7h0m1-4h0m0-21h0m1 12h0m0 17h0m0-59h0m1 105h0m0-97h0m1 70h0m0-9h0m1-15h0m0 22h0m0-59h0m1 21h0m0 30h0m1-38h0m0 27h0m1-61h0m0 81h0m1 29h0m0-50h0m0-50h0m1 23h0m0-10h0m1 1h0m0 42h0m1-18h0m0 9h0m0-24h0m1 12h0m0 116h0m1-100h0m0 1h0m1-13h0m0-15h0m1 18h0m0 20h0m0 0h0m1 22h0m0 4h0m1-19h0m0 11h0m1 22h0m0-31h0m1 9h0m0 31h0m0-24h0m1 66h0m0-68h0m1 15h0m0 0h0m1 0h0m0-13h0m0 31h0m1-15h0m0-16h0m1 0h0m0 81h0m1-18h0m0-17h0m1-34h0m0 38h0m0-1h0m1-2h0m0-28h0m1 58h0m0-52h0m1 25h0m0 52h0m0-43h0m1 34h0m0-43h0m1 97h0m0-19h0m1-97h0m0 94h0m1-18h0m0 40h0m0 53h0m1-33h0m0 16h0m1-21h0m0-27h0m1 24h0m0-27h0m0 50h0m1-37h0m0 33h0m1-41h0m0-9h0m1 21h0m0 4h0m1-9h0m0 106h0m0-99h0m1 68h0m0 9h0m1-41h0m0 96h0m1-97h0m0-2h0m0-27h0m1 48h0m0-29h0m1 13h0m0-57h0m1 54h0m0 23h0m1-52h0m0 46h0m0-55h0m1 39h0m0 6h0m1-26h0m0 68h0m1-62h0m0 61h0m0-31h0m1-76h0m0 52h0m1-33h0m0 25h0m1 6h0m0 49h0m1-98h0m0 58h0m0 16h0m1-26h0m0-21h0m1 72h0m0 21h0m1 55h0m0-133h0m0-21h0m1 93h0m0-8h0m1-15h0m0 16h0m1-89h0m0-31h0m1 32h0m0-6h0m0 42h0m1 77h0m0-181h0m1 130h0m0-85h0m1-9h0m0-13h0m0 3h0m1 44h0m0-50h0m1 28h0m0 33h0m1-56h0m0-27h0m1 22h0m0-19h0m0 21h0m1-42h0m0-17h0m1 64h0m0 39h0m1 0h0m0-78h0m1 65h0m0-30h0m0-35h0m1-17h0m0 14h0m1-34h0m0 29h0m1 102h0m0-84h0m0-7h0m1-1h0m0 79h0m1-130h0m0 16h0m1 58h0m0-6h0m1-57h0m0-11h0m0 44h0m1 19h0m0-44h0m1-24h0m0 38h0m1-2h0m0 23h0m0 20h0m1 78h0m0-96h0m1-2h0m0-16h0m1 31h0m0-7h0m1-27h0m0 80h0m0-8h0m1 17h0m0 26h0m1 13h0m0-63h0m1 1h0m0 44h0m0-52h0m1 50h0m0-74h0m1 31h0m0 1h0m1-17h0m0 17h0m1-3h0m0 15h0m0 11h0m1-22h0m0-26h0m1-17h0m0-6h0m1 94h0m0 9h0m0-94h0m1 99h0m0-66h0m1 19h0m0-19h0m1-10h0m0-38h0m1 84h0m0-27h0m0 44h0m1-36h0m0 12h0m1 8h0m0 6h0m1-48h0m0-30h0m0 29h0m1 59h0m0-75h0m1 132h0m0-109h0m1 15h0m0-36h0m1 21h0m0 3h0m0-6h0m1 22h0m0-61h0m1 45h0m0 100h0m1-113h0m0-5h0m0 39h0m1-68h0m0 57h0m1 1h0m0-26h0m1 8h0m0 113h0m1-111h0m0-19h0m0 59h0m1-31h0m0 97h0m1-45h0m0-31h0m1 25h0m0-37h0m0 19h0m1-20h0m0 4h0m1 48h0m0-43h0m1-66h0m0 58h0m1 1h0m0 5h0m0-39h0m1 5h0m0 174h0m1-157h0m0 0h0m1-32h0m0 42h0m1 23h0m0-31h0m0 8h0m1-6h0m0-21h0m1 59h0m0-26h0m1-13h0m0 1h0m0-14h0m1 58h0m0-69h0m1 46h0m0 17h0m1-8h0m0-3h0m1-41h0m0 5h0m0-8h0m1 48h0m0-71h0m1 18h0m0 122h0m1-120h0m0 32h0m0-7h0m1 15h0m0 9h0m1-31h0m0 21h0m1-13h0m0 70h0m1-54h0m0 47h0m0-70h0m1-14h0m0 23h0m1 21h0m0 38h0m1-51h0m0 17h0m0 56h0m1-42h0m0 0h0m1-12h0m0-19h0m1 61h0m0-68h0m1 24h0m0 40h0m0-18h0m1-28h0m0 14h0m1 41h0m0-82h0m1 61h0m0-18h0m0-15h0m1 58h0m0-45h0m1 44h0m0-38h0m1-4h0m0 56h0m1-44h0m0-17h0m0 63h0m1 34h0m0-76h0m1 14h0m0-34h0m1 24h0m0-18h0m0-23h0m1-18h0m0 74h0m1-63h0m0 34h0m1 2h0m0-5h0m1-49h0m0 16h0m0 52h0m1 17h0m0-33h0m1 56h0m0-36h0m1-82h0m0 34h0m0 5h0m1 51h0m0-21h0m1-4h0m0 51h0m1-103h0m0 32h0m1 1h0m0 12h0m0-14h0m1 21h0m0 17h0m1-51h0m0 54h0m1-62h0m0 17h0m0 11h0m1 12h0m0 28h0m1-31h0m0-43h0m1-10h0m0 7h0m1-20h0m0 17h0m0 18h0m1-14h0m0 92h0m1-82h0m0 26h0m1-43h0m0 34h0m1-26h0m0 24h0m0 27h0m1-16h0m0 13h0m1 17h0m0-31h0m1-7h0m0-48h0m0 6h0m1 66h0m0 40h0m1-95h0m0 60h0m1-72h0m0-8h0m1 43h0m0-57h0m0 59h0m1 54h0m0-75h0m1 8h0m0 39h0m1 7h0m0-56h0m0-22h0m1-10h0m0-10h0m1 25h0m0-6h0m1 58h0m0-32h0m1-6h0m0 6h0m0-18h0m1 11h0m0 39h0m1 55h0m0-100h0m1-36h0m0 65h0m0-35h0m1 55h0m0-85h0m1 16h0m0 64h0m1-19h0m0 23h0m1-44h0m0-13h0m0 70h0m1-15h0m0-29h0m1 26h0m0-22h0m1 72h0m0-113h0m0 69h0m1-37h0m0 19h0m1-30h0m0-12h0m1-15h0m0 129h0m1-120h0m0 80h0m0 7h0m1-52h0m0-40h0m1 61h0m0-22h0m1-23h0m0 78h0m0-4h0m1-38h0m0 22h0m1-83h0m0 70h0m1-7h0m0-47h0m1 7h0m0 10h0m0 77h0m1-107h0m0 33h0m1-23h0m0 2h0m1 15h0m0 22h0m0-9h0m1-65h0m0 65h0m1-29h0m0 21h0m1-54h0m0 28h0m1-13h0m0 21h0m0 10h0m1 27h0m0-30h0m1 16h0m0 11h0m1-55h0m0 15h0m0-15h0m1 75h0m0-44h0m1 14h0m0 1h0m1 23h0m0-66h0m1 57h0m0-33h0m0-26h0m1 50h0m0 24h0m1 33h0m0-116h0m1-16h0m0 62h0m0-27h0m1 10h0m0 24h0m1-38h0m0-13h0m1 42h0m0 6h0m1-5h0m0-40h0m0 1h0m1-24h0m0 13h0m1-3h0m0-13h0m1 98h0m0-59h0m1 56h0m0-20h0m0-33h0m1-19h0m0 34h0m1-9h0m0 3h0m1 7h0m0-41h0m0 53h0m1-28h0m0 32h0m1 42h0m0-68h0m1 2h0m0-20h0m1 3h0m0-50h0m0 32h0m1 82h0m0-109h0m1-31h0m0-2h0m1 48h0m0-25h0m0-18h0m1-22h0m0 8h0m1-31h0m0 42h0m1-12h0m0 22h0m1-54h0m0 74h0m0-70h0m1 82h0m0-4h0m1-73h0m0 7h0m1-5h0m0 7h0m0-16h0m1-1h0m0-32h0m1 74h0m0-47h0m1 46h0m0-74h0m1 4h0m0 52h0m0-50h0m1 31h0m0-15h0m1 44h0m0-31h0m1 21h0m0-15h0m0-16h0m1 1h0m0 29h0m1-29h0m0 23h0m1-43h0m0-2h0m1 8h0m0 9h0m0 20h0m1-25h0m0-16h0m1 9h0m0 86h0m1-95h0m0 59h0m0-26h0m1-10h0m0 34h0m1-28h0m0-12h0m1-9h0m0 35h0m1-5h0m0-50h0m0-13h0m1 82h0m0-55h0m1 8h0m0 6h0m1 8h0m0-34h0m0 60h0m1-62h0m0 36h0m1 15h0m0 3h0m1-18h0m0 3h0m1-16h0m0 6h0m0-15h0m1-17h0m0 56h0m1 8h0m0 39h0m1-47h0m0-33h0m0 22h0m1 42h0m0-9h0m1-20h0m0-32h0m1 33h0m0 24h0m1-28h0m0-29h0m0 12h0m1-7h0m0-2h0m1 52h0m0-49h0m1-1h0m0 30h0m1-11h0m0 60h0m0-87h0m1 7h0m0 52h0m1-35h0m0-2h0m1 73h0m0-42h0m0-25h0m1 93h0m0-76h0m1 25h0m0-5h0m1-33h0m0-11h0m1-2h0m0 16h0m0 2h0m1 13h0m0 6h0m1-11h0m0-27h0m1 9h0m0-22h0m0 41h0m1-39h0m0 22h0m1 10h0m0-16h0m1-32h0m0 40h0m1-17h0m0 43h0m0-3h0m1-50h0m0 17h0m1-9h0m0-15h0m1 38h0m0-22h0m0 3h0m1-9h0m0 4h0m1-16h0m0 29h0m1-9h0m0 10h0m1-16h0m0-17h0m0 27h0m1-4h0m0 7h0m1-41h0m0 105h0m1-93h0m0 45h0m0-27h0m1-1h0m0 11h0m1 23h0m0-46h0m1 21h0m0 21h0m1-16h0m0 7h0m0 5h0m1-7h0m0 15h0m1-21h0m0 2h0m1 16h0m0-26h0m0 30h0m1 30h0m0-19h0m1-49h0m0 24h0m1 6h0m0 19h0m1-25h0m0 0h0m0 23h0m1-2h0m0-32h0m1 54h0m0-30h0m1-27h0m0 51h0m0-27h0m1 81h0m0-43h0m1-59h0m0-16h0m1 0h0m0 53h0m1-13h0m0-17h0m0 14h0m1-17h0m0 21h0m1 3h0m0 11h0m1-18h0m0-14h0m0 27h0m1 11h0m0-2h0m1-37h0m0 14h0m1 61h0m0-55h0m1 0h0m0-23h0m0 6h0m1 19h0m0-22h0m1 35h0m0-52h0m1 24h0m0-6h0m1-4h0m0-9h0m0 22h0m1-11h0m0-1h0m1 48h0m0-5h0m1-12h0m0 13h0m0-7h0m1-8h0m0-12h0m1 20h0m0 9h0m1-32h0m0 4h0m1-7h0m0 31h0m0-26h0m1-16h0m0 58h0m1-47h0m0-15h0m1 10h0m0 1h0m0 38h0m1-8h0m0-23h0m1 3h0m0-34h0m1 13h0m0-29h0m1 17h0m0-5h0m0 30h0m1-1h0m0-16h0m1 16h0m0 5h0m1-9h0m0-9h0m0 54h0m1-27h0m0-23h0m1 8h0m0-19h0m1 7h0m0 10h0m1-1h0m0-6h0m0 28h0m1 45h0m0-77h0m1-2h0m0 7h0m1 2h0m0 10h0m0-25h0m1 34h0m0-8h0m1-11h0m0-35h0m1 6h0m0 20h0m1 0h0m0 11h0m0 14h0m1-21h0m0-6h0m1-24h0m0 32h0m1 33h0m0-18h0m0-37h0m1 17h0m0-20h0m1 6h0m0 15h0m1 8h0m0 93h0m1-138h0m0 33h0m0-13h0m1-6h0m0 15h0m1 29h0m0-39h0m1 20h0m0 27h0m0-26h0m1-12h0m0 17h0m1 9h0m0-9h0m1-5h0m0 17h0m1 41h0m0-27h0m0 10h0m1-7h0m0-2h0m1-8h0m0 43h0m1-4h0m0 5h0m0-30h0m1 41h0m0-33h0m1 38h0m0 81h0m1-101h0m0 6h0m1 3h0m0 22h0m0-20h0m1 40h0m0-44h0m1 40h0m0 22h0m1-32h0m0-33h0m1 7h0m0 30h0m0 10h0m1 26h0m0-26h0m1 15h0m0-23h0m1 34h0m0-6h0m0-28h0m1 57h0m0-16h0m1 47h0m0-98h0m1 33h0m0 24h0m1-65h0m0 20h0m0 40h0m1-3h0m0-10h0m1-35h0m0 27h0m1-9h0m0 32h0m0-15h0m1 15h0m0-79h0m1 64h0m0-2h0m1-52h0m0 58h0m1 4h0m0-36h0m0 3h0m1 57h0m0-43h0m1-27h0m0 68h0m1-4h0m0-10h0m0 18h0m1-17h0m0-43h0m1-20h0m0 8h0m1 17h0m0 118h0m1-34h0m0-30h0m0-4h0m1 9h0m0-61h0m1 66h0m0-45h0m1 28h0m0-26h0m0 55h0m1 2h0m0 15h0m1-22h0m0 49h0m1-71h0m0-5h0m1-17h0m0 10h0m0 14h0m1-26h0m0 94h0m1-40h0m0-13h0m1-47h0m0 107h0m0 56h0m1-126h0m0 23h0m1 6h0m0-38h0m1 34h0m0-5h0m1 18h0m0 57h0m0-24h0m1-84h0m0 93h0m1-12h0m0-55h0m1 34h0m0 29h0m0-56h0m1 23h0m0-70h0m1 15h0m0-14h0m1-16h0m0 42h0m1 68h0m0-44h0m0 25h0m1-40h0m0 3h0m1-3h0m0-46h0m1 23h0m0-66h0m0 63h0m1-25h0m0-14h0m1 30h0m0-14h0m1 145h0m0-137h0m1 47h0m0-52h0m0 7h0m1 13h0m0-5h0m1-40h0m0 71h0m1-50h0m0-36h0m0 59h0m1-26h0m0 2h0m1 0h0m0-18h0m1-30h0m0 21h0m1 5h0m0 48h0m0-60h0m1 16h0m0 106h0m1-94h0m0 17h0m1 28h0m0 33h0m1 47h0m0-47h0m0 13h0m1-51h0m0-20h0m1 26h0m0-36h0m1 60h0m0-16h0m0 14h0m1-49h0m0-26h0m1 81h0m0-27h0m1 120h0m0-74h0m1-52h0m0 43h0m0-44h0m1 1h0m0-35h0m1 14h0m0-12h0m1 59h0m0-70h0m0 15h0m1 39h0m0 50h0m1-119h0m0 27h0m1 33h0m0 21h0m1-28h0m0-12h0m0 18h0m1-50h0m0-22h0m1 75h0m0-51h0m1-18h0m0 47h0m0 9h0m1-13h0m0-10h0m1 39h0m0-7h0m1-50h0m0 30h0m1-4h0m0 9h0m0 41h0m1-29h0m0 80h0m1-53h0m0 27h0m1-61h0m0 18h0m0-17h0m1 8h0m0 50h0m1 75h0m0-169h0m1 10h0m0-8h0m1 106h0m0-49h0m0-35h0m1-38h0m0-15h0m1 23h0m0-30h0m1 43h0m0-25h0m0 32h0m1-1h0m0 74h0m1-7h0m0-120h0m1 23h0m0 93h0m1-104h0m0 79h0m0-22h0m1-34h0m0-65h0m1 46h0m0 53h0m1-1h0m0-12h0m0-10h0m1-2h0m0 21h0m1 29h0m0-76h0m1 11h0m0 70h0m1-41h0m0 108h0m0-158h0m1 73h0m0-35h0m1-42h0m0 75h0m1-12h0m0-27h0m0-59h0m1 26h0m0 59h0m1-32h0m0 3h0m1 97h0m0 28h0m1-143h0m0 0h0m0 34h0m1-24h0m0 35h0m1 43h0m0-84h0m1 56h0m0 28h0m1-10h0m0-11h0m0 3h0m1 39h0m0 23h0m1-95h0m0 91h0m1-63h0m0 92h0m0-92h0m1 113h0m0-178h0m1-18h0m0 136h0m1-143h0m0 64h0m1 14h0m0-45h0m0 14h0m1-33h0m0 94h0m1-92h0m0 54h0m1-1h0m0 1h0m0-53h0m1 41h0m0 16h0m1-60h0m0 209h0m1-121h0m0 122h0m1 31h0m0-85h0m0 317h0m1-299h0m0-17h0m1 236h0m0 160h0m1-280h0m0 160h0m0-10h0m1-37h0m0-197h0m1 285h0m0-215h0m1 120h0m0 72h0m1 178h0m0-34h0m0 4h0m1 69h0m0-80h0m1-50h0m0 62h0m1 88h0m0-65h0m0 115h0m1-30h0m0-21h0m1-10h0m0 49h0m1-22h0m0 78h0m1 43h0m0-52h0m0-106h0m1 97h0m0-125h0m1-32h0m0 113h0m1 26h0m0-17h0m0 21h0m1 8h0m0-138h0m1 122h0m0-26h0m1 27h0m0-22h0m1-117h0m0-108h0m0-144h0m1 182h0m0 34h0m1-76h0m0 173h0m1-174h0m0 114h0m0 23h0m1 48h0m0-117h0m1-68h0m0-60h0m1 96h0m0-128h0m1-50h0m0 112h0m0-41h0m1-40h0m0 137h0m1-123h0m0 139h0m1-25h0m0-79h0m0-58h0m1 3h0m0 32h0m1-70h0m0 40h0m1-21h0m0-31h0m1 30h0m0 8h0m0 9h0m1 11h0m0-47h0m1 46h0m0-43h0m1-43h0m0 65h0m1 21h0m0-98h0m0 45h0m1 28h0m0-42h0m1-18h0m0-5h0m1-2h0m0 44h0m0-45h0m1 38h0m0-15h0m1-45h0m0 28h0m1-16h0m0-11h0m1 51h0m0-47h0m0-35h0m1 67h0m0-34h0m1 42h0m0-61h0m1-9h0m0 15h0m0 1h0m1 25h0m0-23h0m1-27h0m0 24h0m1 0h0m0-7h0m1 56h0m0-15h0m0 29h0m1-68h0m0 15h0m1 13h0m0 77h0m1-112h0m0 40h0m0-36h0m1-10h0m0 17h0m1-4h0m0 24h0m1-10h0m0-18h0m1 64h0m0-20h0m0 5h0m1-68h0m0 5h0m1-2h0m0 3h0m1 26h0m0-57h0m0 12h0m1 40h0m0-13h0m1-37h0m0 59h0m1-7h0m0 52h0m1-36h0m0-85h0m0 81h0m1-86h0m0 18h0m1 2h0m0-31h0m1 29h0m0 26h0m0-41h0m1 7h0m0-21h0m1 17h0m0-8h0m1 12h0m0 12h0m1 62h0m0-14h0m0-31h0m1 13h0m0 8h0m1 0h0m0 5h0m1-28h0m0 8h0m0-32h0m1 45h0m0-5h0m1-22h0m0 73h0m1 36h0m0-94h0m1 50h0m0-47h0m0 35h0m1-43h0m0 68h0m1-13h0m0-8h0m1-42h0m0-13h0m0 46h0m1-26h0m0 51h0m1-10h0m0-48h0m1 74h0m0-58h0m1-21h0m0 22h0m0-4h0m1-13h0m0 0h0m1-7h0m0 15h0m1-20h0m0 0h0m1 2h0m0-20h0m0-12h0m1 34h0m0 12h0m1-25h0m0 23h0m1 15h0m0-17h0m0 29h0m1-8h0m0 10h0m1-27h0m0-4h0m1-8h0m0-18h0m1 95h0m0-61h0m0 57h0m1-57h0m0 1h0m1 2h0m0-31h0m1 7h0m0-10h0m0 61h0m1 0h0m0-65h0m1 35h0m0-7h0m1-31h0m0-4h0m1 39h0m0-8h0m0 39h0m1-18h0m0-46h0m1 22h0m0 18h0m1 9h0m0-38h0m0 28h0m1-15h0m0 57h0m1-32h0m0-10h0m1-25h0m0 8h0m1-6h0m0 112h0m0-84h0m1-2h0m0-22h0m1-7h0m0 14h0m1 21h0m0 58h0m0-73h0m1 2h0m0-17h0m1 0h0m0 53h0m1-8h0m0-13h0m1-35h0m0 35h0m0-4h0m1-33h0m0-27h0m1 80h0m0-45h0m1 1h0m0 7h0m0-24h0m1 32h0m0 23h0m1 0h0m0-60h0m1 52h0m0-27h0m1-31h0m0 38h0m0 24h0m1-20h0m0 2h0m1-10h0m0-19h0m1 12h0m0-19h0m0-1h0m1 6h0m0-34h0m1 56h0m0-37h0m1 10h0m0 43h0m1-69h0m0 23h0m0 11h0m1 17h0m0-39h0m1-23h0m0 6h0m1 10h0m0-6h0m0 29h0m1-15h0m0-1h0m1 49h0m0-48h0m1-22h0m0 7h0m1 34h0m0 40h0m0-64h0m1 24h0m0-20h0m1 5h0m0 31h0m1-51h0m0 35h0m0-36h0m1-3h0m0 5h0m1 93h0m0-43h0m1-44h0m0 18h0m1-17h0m0 1h0m0 53h0m1-33h0m0-27h0m1 3h0m0 1h0m1 21h0m0-23h0m1-29h0m0 41h0m0-15h0m1 18h0m0-30h0m1 4h0m0 32h0m1-11h0m0 13h0m0 1h0m1-18h0m0-2h0m1 8h0m0 28h0m1-46h0m0 3h0m1 11h0m0-7h0m0-30h0m1 12h0m0 18h0m1-16h0m0 59h0m1-76h0m0-26h0m0 31h0m1 29h0m0 17h0m1-63h0m0 48h0m1 0h0m0-46h0m1 9h0m0-28h0m0 0h0m1-3h0m0 90h0m1-92h0m0-8h0m1-19h0m0-3h0m0 32h0m1 21h0m0-47h0m1 21h0m0-9h0m1-19h0m0 27h0m1 19h0m0-26h0m0 26h0m1-77h0m0 87h0m1-89h0m0 10h0m1 7h0m0 41h0m0-55h0m1-6h0m0 23h0m1 36h0m0-23h0m1-15h0m0 8h0m1-46h0m0 25h0m0-18h0m1-22h0m0-17h0m1-2h0m0 36h0m1-9h0m0-27h0m0-22h0m1-21h0m0 41h0m1-35h0m0 19h0m1 11h0m0 9h0m1 18h0m0-15h0m0-29h0m1 61h0m0-59h0m1 13h0m0 1h0m1-19h0m0-3h0m0 32h0m1-34h0m0 22h0m1-4h0m0 5h0m1-9h0m0-9h0m1-1h0m0-2h0m0 32h0m1 8h0m0 5h0m1 8h0m0-39h0m1 17h0m0-3h0m0 23h0m1-55h0m0-3h0m1 5h0m0 52h0m1-21h0m0-24h0m1 2h0m0 5h0m0 11h0m1 3h0m0-18h0m1 31h0m0-17h0m1 10h0m0 35h0m1-46h0m0 16h0m0-7h0m1-3h0m0 27h0m1-19h0m0 15h0m1-38h0m0 35h0m0 2h0m1-15h0m0 48h0m1 0h0m0-35h0m1 3h0m0-34h0m1 40h0m0 21h0m0-30h0m1 35h0m0-41h0m1 6h0m0 48h0m1-28h0m0 15h0m0-13h0m1 32h0m0-76h0m1 94h0m0-70h0m1 62h0m0-55h0m1 13h0m0 45h0m0-41h0m1 14h0m0 13h0m1 22h0m0-3h0m1-5h0m0 93h0m0-125h0m1 1h0m0 64h0m1-45h0m0 50h0m1-28h0m0 26h0m1-5h0m0-66h0m0 137h0m1-126h0m0 40h0m1 19h0m0-58h0m1-7h0m0-6h0m0 40h0m1 57h0m0-87h0m1-24h0m0 77h0m1-37h0m0 20h0m1-12h0m0-8h0m0-23h0m1 31h0m0-35h0m1 49h0m0-31h0m1 38h0m0-64h0m0 32h0m1 24h0m0-7h0m1 54h0m0-92h0m1 37h0m0-19h0m1 17h0m0 8h0m0 60h0m1-26h0m0-46h0m1-16h0m0 33h0m1 36h0m0-69h0m0 40h0m1 44h0m0-66h0m1-19h0m0 2h0m1 30h0m0 43h0m1-42h0m0 1h0m0-43h0m1 11h0m0 31h0m1-65h0m0 13h0m1 44h0m0-14h0m0 63h0m1-84h0m0 36h0m1-75h0m0 39h0m1 45h0m0-29h0m1-39h0m0 14h0m0 18h0m1-11h0m0 45h0m1-23h0m0 45h0m1-35h0m0 17h0m1-39h0m0 75h0m0-14h0m1-43h0m0-32h0m1 91h0m0-15h0m1-24h0m0-20h0m0 3h0m1 33h0m0-46h0m1 27h0m0 38h0m1-63h0m0 52h0m1-24h0m0 40h0m0-43h0m1 41h0m0-25h0m1-66h0m0 42h0m1-41h0m0 30h0m0-17h0m1-29h0m0 47h0m1 4h0m0 1h0m1 2h0m0-42h0m1 0h0m0 23h0m0-21h0m1-2h0m0 17h0m1-69h0m0 86h0m1-38h0m0-22h0m0-1h0m1 38h0m0-76h0m1 39h0m0-5h0m1-19h0m0 4h0m1 24h0m0-8h0m0-30h0m1 54h0m0-44h0m1-11h0m0-12h0m1 19h0m0-25h0m0-18h0m1 29h0m0-59h0m1 46h0m0-35h0m1 15h0m0-3h0m1 16h0m0 2h0m0-17h0m1-14h0m0 18h0m1-14h0m0 17h0m1 14h0m0-22h0m0 12h0m1-22h0m0 7h0m1 17h0m0 1h0m1 30h0m0-18h0m1 9h0m0-50h0m0 13h0m1 9h0m0 15h0m1-7h0m0-32h0m1 34h0m0-10h0m0 16h0m1 0h0m0 22h0m1-45h0m0-20h0m1 37h0m0 24h0m1-41h0m0 20h0m0 2h0m1 1h0m0-5h0m1-41h0m0 28h0m1 4h0m0 37h0m0-57h0m1 27h0m0-6h0m1 29h0m0-5h0m1-7h0m0 31h0m1-31h0m0-2h0m0 3h0m1 0h0m0-30h0m1 50h0m0-10h0m1-21h0m0 28h0m1-35h0m0 46h0m0-38h0m1 6h0m0-9h0m1 1h0m0 16h0m1 6h0m0 15h0m0-34h0m1 8h0m0 25h0m1-33h0m0 3h0m1-1h0m0 5h0m1 11h0m0-34h0m0 15h0m1 2h0m0 23h0m1 6h0m0-15h0m1 12h0m0-20h0m0 29h0m1 9h0m0-17h0m1 1h0m0 26h0m1 17h0m0-28h0m1-32h0m0 15h0m0 48h0m1-43h0m0 11h0m1 3h0m0 4h0m1-21h0m0-21h0m0 17h0m1 46h0m0-43h0m1 45h0m0-67h0m1 5h0m0 7h0m1-13h0m0 16h0m0 50h0m1-67h0m0 3h0m1 16h0m0 44h0m1-1h0m0-40h0m0 84h0m1-85h0m0 26h0m1 28h0m0-41h0m1-30h0m0 12h0m1 21h0m0 11h0m0-24h0m1 3h0m0 2h0m1 9h0m0 32h0m1-29h0m0-3h0m0 24h0m1-1h0m0-18h0m1 32h0m0-37h0m1 17h0m0 4h0m1 21h0m0-13h0m0 10h0m1-38h0m0 42h0m1 3h0m0-19h0m1 14h0m0-18h0m0 0h0m1-2h0m0-20h0m1 3h0m0-6h0m1 17h0m0-8h0m1-4h0m0 12h0m0 28h0m1-20h0m0-17h0m1 0h0m0 20h0m1-43h0m0 25h0m0-11h0m1-9h0m0 29h0m1 16h0m0-35h0m1 33h0m0-1h0m1-33h0m0-10h0m0 52h0m1-28h0m0-6h0m1 89h0m0-76h0m1 4h0m0-14h0m0 12h0m1-13h0m0 13h0m1 23h0m0-11h0m1 38h0m0-65h0m1 42h0m0-33h0m0-15h0m1 17h0m0-18h0m1-10h0m0-5h0m1 37h0m0 0h0m1-36h0m0 4h0m0 14h0m1 56h0m0-33h0m1 17h0m0-23h0m1-6h0m0-9h0m0 20h0m1-34h0m0 9h0m1-5h0m0 11h0m1-3h0m0 0h0m1 45h0m0-38h0m0-15h0m1 33h0m0-24h0m1 21h0m0 37h0m1-22h0m0 32h0m0-73h0m1 27h0m0 8h0m1-35h0m0 77h0m1-74h0m0 12h0m1 38h0m0-9h0m0 52h0m1-87h0m0 28h0m1-4h0m0-1h0m1-6h0m0 9h0m0 3h0m1-5h0m0 13h0m1 5h0m0 25h0m1-35h0m0 27h0m1-1h0m0-30h0m0 1h0m1-9h0m0-3h0m1 4h0m0 25h0m1-31h0m0 0h0m0-9h0m1 32h0m0-12h0m1-21h0m0 24h0m1 14h0m0 13h0m1-33h0m0 19h0m0-27h0m1 37h0m0-13h0m1-4h0m0-44h0m1 69h0m0-24h0m0-23h0m1 61h0m0-32h0m1 18h0m0-26h0m1 24h0m0-57h0m1 27h0m0-12h0m0 35h0m1-11h0m0-9h0m1 57h0m0-59h0m1 34h0m0-26h0m0-9h0m1 44h0m0 12h0m1-42h0m0-8h0m1-6h0m0-6h0m1 39h0m0-27h0m0 8h0m1 25h0m0-22h0m1 43h0m0-41h0m1 6h0m0-11h0m0-22h0m1 7h0m0 8h0m1-30h0m0 17h0m1 29h0m0-39h0m1 65h0m0-29h0m0-38h0m1 7h0m0 27h0m1-39h0m0 31h0m1-2h0m0-3h0m1-13h0m0 23h0m0-51h0m1 101h0m0-77h0m1-26h0m0 79h0m1-59h0m0-12h0m0 7h0m1 25h0m0-29h0m1-23h0m0 27h0m1 48h0m0 10h0m1-53h0m0-5h0m0 7h0m1 10h0m0 13h0m1-39h0m0-17h0m1 66h0m0-45h0m0 127h0m1-136h0m0 9h0m1 0h0m0 38h0m1-28h0m0-9h0m1-5h0m0-19h0m0 57h0m1 31h0m0-79h0m1 56h0m0-81h0m1 10h0m0-10h0m0 22h0m1 34h0m0-62h0m1 1h0m0 16h0m1 46h0m0-11h0m1-38h0m0 51h0m0-100h0m1 43h0m0 58h0m1-19h0m0-42h0m1 20h0m0 91h0m0-79h0m1 9h0m0 5h0m1-49h0m0 30h0m1-1h0m0-14h0m1-30h0m0 62h0m0-40h0m1-29h0m0 75h0m1-28h0m0 27h0m1-39h0m0 20h0m0-35h0m1-28h0m0 43h0m1-17h0m0 36h0m1-30h0m0-27h0m1 1h0m0 23h0m0-33h0m1 78h0m0-17h0m1-27h0m0-5h0m1 5h0m0-25h0m0 15h0m1-16h0m0 73h0m1-36h0m0-5h0m1 20h0m0-9h0m1-3h0m0-31h0m0-8h0m1 10h0m0 24h0m1-47h0m0 130h0m1-138h0m0 59h0m0-68h0m1 57h0m0 8h0m1 19h0m0-43h0m1 70h0m0-51h0m1-15h0m0-40h0m0 6h0m1 28h0m0 14h0m1-9h0m0-51h0m1 58h0m0 18h0m1 25h0m0-68h0m0 74h0m1-24h0m0-17h0m1-17h0m0 19h0m1 6h0m0-13h0m0 14h0m1-27h0m0 7h0m1 8h0m0 40h0m1-1h0m0 7h0m1-53h0m0 29h0m0-51h0m1 11h0m0 26h0m1-1h0m0 34h0m1-83h0m0 48h0m0-4h0m1-16h0m0 57h0m1-45h0m0-2h0m1-6h0m0 40h0m1-13h0m0 4h0m0 11h0m1 7h0m0-22h0m1 30h0m0 99h0m1-72h0m0-83h0m0 59h0m1-16h0m0-10h0m1 13h0m0-12h0m1 51h0m0-65h0m1 75h0m0-56h0m0-20h0m1 13h0m0-41h0m1 56h0m0-57h0m1-2h0m0 59h0m0-38h0m1 1h0m0 50h0m1 28h0m0-47h0m1-42h0m0 20h0m1 19h0m0-10h0m0 2h0m1-21h0m0 24h0m1-28h0m0-17h0m1 23h0m0-5h0m0-15h0m1 57h0m0-17h0m1-9h0m0 14h0m1-40h0m0-34h0m1 63h0m0 12h0m0-13h0m1-23h0m0-8h0m1-14h0m0 179h0m1-139h0m0-17h0m0 7h0m1-21h0m0 17h0m1-28h0m0-18h0m1 38h0m0 11h0m1 10h0m0-26h0m0-21h0m1 13h0m0-8h0m1 24h0m0 30h0m1-28h0m0 30h0m0-13h0m1-43h0m0 49h0m1-38h0m0 1h0m1 38h0m0 2h0m1 8h0m0-29h0m0 75h0m1-40h0m0 19h0m1 21h0m0-53h0m1 47h0m0-40h0m1-19h0m0 72h0m0-55h0m1-43h0m0 67h0m1-52h0m0 59h0m1-15h0m0 29h0m0-61h0m1 11h0m0-10h0m1 6h0m0-2h0m1 65h0m0-95h0m1 51h0m0-44h0m0 70h0m1-70h0m0 59h0m1-28h0m0-33h0m1 43h0m0-15h0m0-51h0m1 46h0m0-12h0m1-19h0m0 20h0m1 81h0m0 0h0m1-83h0m0 47h0m0-49h0m1-14h0m0 47h0m1 26h0m0-69h0m1-31h0m0 38h0m0-4h0m1 2h0m0 45h0m1 4h0m0-26h0m1 14h0m0-31h0m1-36h0m0 52h0m0-18h0m1-19h0m0 30h0m1 125h0m0-71h0m1-23h0m0 1h0m0 27h0m1-5h0m0-9h0m1 9h0m0-40h0m1 117h0m0-60h0m1 27h0m0 40h0m0 11h0m1 2h0m0-62h0m1 35h0m0-86h0m1 37h0m0 83h0m0-15h0m1-66h0m0-1h0m1 61h0m0-7h0m1-14h0m0-8h0m1 24h0m0-4h0m0-16h0m1 30h0m0 14h0m1-49h0m0-5h0m1 8h0m0 36h0m0-48h0m1 15h0m0 58h0m1 6h0m0-7h0m1 0h0m0 16h0m1-39h0m0-11h0m0 25h0m1-6h0m0 70h0m1-131h0m0 27h0m1-14h0m0 12h0m0 33h0m1-37h0m0 113h0m1-133h0m0-4h0m1-8h0m0 42h0m1 39h0m0-70h0m0 9h0m1 82h0m0-24h0m1-57h0m0 34h0m1-2h0m0-19h0m0 8h0m1-4h0m0 63h0m1-35h0m0 20h0m1-51h0m0-25h0m1 35h0m0-23h0m0 146h0m1-189h0m0 21h0m1 15h0m0-45h0m1 92h0m0-79h0m1 36h0m0-12h0m0 33h0m1-19h0m0-38h0m1 79h0m0-88h0m1-8h0m0-40h0m0 36h0m1-15h0m0-58h0m1 51h0m0-42h0m1 40h0m0 34h0m1-11h0m0-46h0m0 128h0m1-85h0m0-17h0m1-35h0m0 27h0m1-55h0m0 127h0m0-106h0m1 112h0m0 1h0m1-87h0m0 26h0m1-25h0m0 80h0m1-19h0m0 1h0m0-69h0m1 78h0m0-12h0m1-76h0m0 11h0m1 55h0m0-47h0m0 66h0m1-30h0m0 49h0m1-113h0m0 59h0m1 35h0m0-12h0m1 9h0m0-53h0m0 23h0m1 41h0m0-61h0m1-4h0m0 18h0m1 27h0m0 10h0m0-35h0m1 24h0m0 44h0m1-75h0m0 7h0m1-39h0m0 75h0m1-40h0m0-7h0m0 25h0m1 30h0m0-66h0m1 40h0m0-26h0m1 116h0m0-107h0m0 13h0m1 9h0m0-26h0m1 36h0m0-18h0m1-19h0m0 55h0m1-80h0m0 119h0m0-48h0m1 147h0m0-146h0m1-9h0m0-2h0m1 87h0m0-48h0m0 4h0m1 18h0m0-72h0m1 8h0m0-2h0m1 52h0m0-41h0m1 16h0m0 33h0m0 33h0m1-52h0m0 67h0m1-23h0m0-19h0m1 14h0m0-10h0m0-26h0m1 28h0m0 55h0m1-85h0m0 5h0m1 68h0m0-32h0m1-21h0m0 94h0m0-91h0m1 104h0m0-46h0m1 47h0m0-105h0m1 53h0m0-54h0m1 118h0m0-58h0m0-21h0m1 20h0m0-2h0m1 45h0m0 42h0m1-51h0m0-42h0m0 72h0m1-16h0m0-30h0m1 80h0m0-54h0m1 3h0m0-17h0m1-19h0m0 8h0m0 23h0m1 171h0m0-196h0m1 147h0m0-148h0m1 65h0m0-40h0m0-9h0m1-38h0m0 36h0m1 34h0m0-51h0m1 75h0m0-64h0m1 11h0m0 212h0m0-106h0m1-40h0m0-31h0m1 12h0m0-12h0m1 54h0m0 18h0m0-91h0m1 51h0m0 1h0m1 10h0m0 44h0m1-68h0m0 25h0m1 14h0m0-25h0m0 38h0m1-18h0m0-5h0m1-23h0m0-4h0m1-29h0m0 9h0m0 129h0m1-127h0m0 35h0m1-31h0m0 55h0m1-33h0m0 130h0m1-136h0m0 120h0m0-65h0m1-15h0m0 93h0m1-47h0m0-73h0m1 63h0m0 28h0m0 33h0m1-8h0m0 65h0m1-38h0m0-39h0m1 70h0m0 1h0m1-48h0m0 171h0m0-67h0m1 72h0m0-51h0m1 73h0m0 42h0m1 2h0m0-301h0m0 356h0m1 38h0m0-73h0m1-60h0m0 69h0m1-10h0m0 128h0m1 26h0m0-41h0m0-95h0m1 30h0m0 7h0m1 15h0m0-110h0m1 212h0m0-61h0m0-47h0m1-18h0m0 19h0m1 107h0m0-57h0m1-9h0m0 2h0m1 39h0m0-87h0m0 100h0m1-77h0m0 74h0m1-20h0m0-16h0m1-24h0m0 0h0m1-12h0m0 79h0m0-247h0m1 213h0m0-63h0m1 5h0m0 74h0m1-66h0m0-66h0m0 110h0m1 36h0m0 3h0m1-53h0m0-73h0m1 80h0m0-4h0m1 82h0m0-77h0m0 35h0m1-108h0m0 52h0m1 32h0m0-71h0m1 37h0m0-20h0m0-6h0m1-19h0m0-35h0m1 90h0m0 14h0m1-69h0m0 70h0m1-27h0m0-106h0m0 136h0m1-132h0m0 126h0m1-73h0m0 32h0m1-57h0m0 42h0m0 30h0m1-55h0m0-8h0m1 41h0m0 2h0m1 46h0m0-60h0m1-75h0m0 92h0m0 48h0m1 15h0m0-16h0m1-90h0m0 16h0m1 82h0m0 13h0m0-59h0m1 46h0m0-51h0m1 68h0m0-37h0m1 9h0m0-56h0m1 65h0m0-12h0m0 43h0m1 10h0m0-67h0m1-7h0m0 30h0m1-42h0m0 113h0m0-117h0m1 51h0m0-19h0m1-5h0m0-27h0m1 35h0m0-26h0m1-20h0m0 50h0m0-60h0m1 8h0m0 11h0m1 8h0m0 69h0m1-10h0m0-62h0m0 63h0m1-23h0m0-61h0m1 24h0m0-1h0m1 27h0m0 24h0m1-66h0m0 31h0m0 17h0m1-31h0m0 69h0m1-59h0m0-18h0m1-37h0m0 98h0m0-83h0m1 74h0m0-36h0m1 15h0m0-1h0m1-21h0m0 37h0m1 57h0m0-72h0m0 47h0m1 18h0m0-130h0m1 91h0m0 80h0m1-129h0m0 124h0m1-92h0m0 99h0m0-44h0m1-32h0m0 7h0m1 18h0m0-1h0m1-61h0m0 32h0m0 27h0m1-154h0m0 134h0m1 1h0m0 37h0m1-18h0m0-34h0m1-34h0m0 31h0m0 20h0m1 0h0m0-3h0m1 6h0m0 0h0m1-132h0m0 137h0m0-67h0m1 90h0m0-58h0m1-10h0m0 12h0m1 18h0m0 4h0m1-44h0m0 38h0m0 33h0m1 19h0m0-52h0m1 55h0m0-25h0m1-106h0m0 60h0m0-6h0m1-28h0m0 98h0m1-58h0m0 50h0m1-32h0m0 13h0m1-109h0m0 96h0m0 26h0m1-100h0m0 42h0m1-33h0m0 70h0m1-81h0m0 72h0m0 20h0m1-78h0m0 11h0m1-159h0m0 189h0m1 33h0m0-40h0m1-28h0m0-25h0m0 57h0m1-63h0m0 66h0m1 41h0m0-35h0m1-172h0m0 176h0m0-10h0m1-19h0m0 69h0m1-2h0m0 31h0m1-87h0m0 23h0m1 89h0m0-146h0m0 50h0m1-7h0m0 0h0m1 53h0m0 16h0m1-78h0m0 85h0m0-189h0m1 137h0m0 33h0m1 14h0m0-45h0m1 13h0m0-5h0m1-44h0m0-5h0m0 18h0m1-137h0m0 109h0m1 57h0m0-10h0m1 59h0m0-69h0m0 21h0m1-31h0m0 8h0m1 54h0m0-80h0m1 106h0m0-92h0m1-16h0m0 37h0m0-29h0m1-51h0m0 69h0m1-56h0m0 97h0m1-150h0m0 157h0m0-126h0m1 38h0m0 65h0m1-38h0m0-71h0m1 49h0m0-6h0m1-32h0m0 61h0m0 10h0m1 32h0m0 11h0m1-40h0m0-10h0m1-64h0m0 32h0m1 32h0m0-28h0m0 20h0m1-54h0m0 52h0m1-16h0m0 60h0m1-65h0m0 37h0m0-38h0m1-15h0m0-1h0m1 94h0m0-32h0m1-24h0m0 30h0m1-59h0m0 73h0m0-22h0m1-46h0m0 47h0m1-15h0m0 10h0m1 2h0m0-10h0m0 3h0m1 78h0m0-42h0m1-24h0m0 57h0m1-118h0m0 120h0m1-22h0m0-73h0m0-13h0m1 87h0m0-122h0m1 17h0m0 69h0m1 52h0m0-55h0m0-83h0m1 55h0m0 38h0m1-5h0m0-42h0m1 11h0m0 51h0m1-35h0m0-14h0m0 38h0m1-24h0m0-147h0m1 194h0m0-4h0m1 41h0m0-62h0m0-15h0m1 40h0m0-2h0m1-69h0m0 3h0m1-51h0m0 109h0m1-146h0m0 116h0m0-87h0m1 44h0m0 5h0m1-66h0m0 78h0m1-75h0m0 28h0m0 25h0m1 18h0m0-25h0m1-159h0m0 88h0m1 20h0m0 46h0m1-67h0m0 16h0m0-44h0m1-234h0m0 37h0m1 310h0m0-251h0m1 59h0m0 61h0m0 78h0m1-126h0m0 1h0m1 4h0m0 20h0m1 66h0m0-38h0m1-101h0m0 40h0m0 20h0m1 95h0m0-525h0m1 261h0m0 20h0m1 18h0m0 15h0m0 137h0m1-34h0m0 57h0m1-136h0m0 63h0m1-53h0m0-2h0m1 33h0m0-52h0m0-51h0m1 92h0m0-17h0m1-30h0m0-85h0m1 20h0m0 31h0m1 19h0m0 12h0m0 4h0m1-10h0m0-170h0m1 75h0m0 38h0m1-124h0m0 179h0m0-163h0m1 141h0m0-5h0m1-53h0m0 2h0m1 9h0m0 20h0m1-48h0m0-20h0m0 12h0m1-49h0m0-73h0m1 109h0m0-161h0m1 110h0m0 15h0m0-59h0m1 64h0m0-2h0m1 66h0m0-88h0m1-24h0m0 62h0m1 68h0m0-39h0m0-92h0m1-4h0m0 90h0m1-59h0m0-20h0m1 83h0m0-70h0m0 79h0m1-136h0m0 266h0m1-238h0m0-13h0m1 71h0m0-14h0m1-12h0m0-6h0m0 36h0m1 57h0m0-114h0m1 78h0m0-42h0m1 34h0m0-55h0m0 69h0m1-110h0m0 56h0m1 85h0m0-85h0m1 5h0m0-4h0m1-83h0m0 24h0m0-3h0m1 19h0m0-54h0m1 57h0m0-19h0m1 85h0m0-44h0m0-12h0m1-75h0m0 4h0m1 78h0m0-43h0m1 22h0m0 32h0m1-44h0m0-16h0m0-10h0m1-32h0m0 57h0m1-72h0m0 26h0m1 9h0m0 31h0m0-33h0m1-14h0m0 5h0m1 65h0m0-11h0m1-53h0m0 52h0m1-61h0m0 22h0m0 24h0m1 45h0m0-61h0m1-23h0m0 60h0m1-65h0m0 8h0m0 39h0m1-24h0m0 16h0m1-7h0m0 49h0m1-43h0m0 10h0m1-20h0m0 42h0m0 37h0m1-57h0m0 16h0m1-68h0m0 29h0m1 29h0m0-28h0m1 36h0m0 2h0m0-61h0m1 8h0m0 10h0m1 32h0m0-22h0m1 31h0m0-55h0m0-7h0m1 46h0m0-32h0m1 74h0m0-46h0m1 53h0m0-55h0m1 2h0m0-28h0m0 0h0m1 22h0m0-22h0m1 92h0m0-59h0m1 12h0m0-46h0m0 1h0m1 104h0m0-53h0m1-2h0m0-44h0m1 20h0m0-14h0m1-6h0m0 20h0m0-34h0m1 24h0m0 17h0m1-5h0m0 21h0m1-2h0m0-4h0m0 26h0m1-56h0m0 54h0m1-21h0m0 2h0m1 10h0m0-38h0m1 45h0m0-42h0m0-15h0m1 1h0m0 15h0m1 65h0m0-76h0m1 57h0m0-37h0m0-31h0m1 68h0m0-78h0m1 20h0m0 18h0m1-27h0m0 74h0m1-75h0m0-2h0m0 42h0m1-11h0m0 23h0m1-59h0m0-11h0m1 111h0m0-101h0m0 32h0m1-5h0m0 0h0m1 20h0m0-56h0m1-16h0m0 54h0m1-38h0m0-11h0m0 6h0m1 10h0m0-11h0m1 40h0m0-20h0m1-38h0m0 20h0m0 35h0m1-30h0m0 9h0m1-21h0m0-19h0m1 54h0m0-22h0m1 19h0m0-9h0m0-28h0m1 29h0m0-12h0m1 34h0m0 16h0m1 20h0m0-31h0m0-17h0m1 7h0m0 4h0m1-20h0m0 39h0m1-7h0m0-4h0m1-8h0m0 7h0m0-42h0m1 14h0m0 28h0m1-20h0m0 19h0m1-71h0m0 70h0m1-15h0m0 2h0m0 2h0m1 24h0m0-12h0m1-76h0m0 32h0m1-14h0m0 17h0m0-13h0m1-20h0m0 26h0m1-11h0m0-1h0m1-26h0m0-16h0m1 61h0m0-66h0m0 16h0m1 2h0m0 3h0m1 6h0m0-61h0m1 16h0m0 45h0m0-51h0m1 46h0m0-62h0m1 39h0m0-8h0m1 12h0m0-16h0m1-15h0m0 52h0m0-83h0m1 96h0m0-40h0m1-62h0m0 63h0m1-15h0m0-39h0m0 0h0m1-41h0m0 53h0m1-57h0m0 44h0m1-11h0m0-24h0m1 27h0m0-59h0m0 60h0m1 31h0m0-85h0m1-1h0m0 33h0m1-42h0m0-5h0m0 65h0m1-31h0m0-18h0m1 4h0m0 13h0m1-19h0m0-2h0m1 22h0m0-21h0m0 15h0m1 14h0m0-31h0m1 21h0m0-47h0m1 68h0m0-29h0m0-16h0m1 16h0m0-4h0m1 26h0m0-9h0m1-35h0m0 23h0m1 113h0m0-128h0m0 100h0m1-76h0m0 27h0m1-49h0m0 5h0m1-4h0m0 11h0m0-29h0m1 26h0m0-18h0m1 29h0m0-23h0m1-14h0m0 28h0m1-34h0m0 7h0m0 1h0m1-6h0m0 27h0m1-36h0m0 20h0m1 37h0m0-25h0m0-8h0m1-20h0m0-15h0m1 38h0m0 7h0m1-12h0m0-11h0m1-9h0m0 17h0m0-34h0m1 86h0m0 39h0m1-85h0m0-2h0m1 9h0m0-9h0m0 56h0m1-57h0m0-1h0m1-2h0m0-17h0m1 65h0m0 8h0m1-62h0m0 15h0m0-12h0m1 93h0m0-63h0m1 5h0m0 33h0m1-63h0m0 24h0m1 12h0m0-53h0m0 54h0m1-33h0m0 56h0m1-6h0m0-47h0m1 5h0m0 4h0m0 7h0m1-6h0m0 32h0m1-9h0m0-1h0m1-53h0m0 1h0m1 53h0m0-42h0m0-18h0m1 28h0m0-12h0m1 9h0m0-21h0m1 62h0m0-8h0m0 24h0m1-33h0m0 45h0m1-83h0m0 54h0m1-27h0m0 25h0m1-62h0m0 35h0m0-12h0m1 2h0m0 45h0m1-41h0m0-20h0m1 52h0m0-28h0m0-28h0m1 72h0m0-63h0m1 30h0m0 14h0m1-53h0m0 47h0m1-42h0m0 53h0m0 41h0m1-106h0m0 38h0m1 1h0m0 33h0m1-21h0m0-3h0m0 30h0m1-6h0m0-15h0m1 52h0m0-66h0m1 34h0m0 7h0m1-7h0m0-7h0m0-42h0m1 85h0m0-34h0m1-62h0m0 7h0m1-3h0m0 62h0m0-23h0m1-27h0m0-11h0m1 106h0m0-87h0m1-14h0m0-1h0m1 10h0m0 7h0m0-38h0m1 48h0m0-28h0m1 14h0m0-9h0m1 3h0m0-17h0m0 21h0m1-50h0m0 49h0m1-31h0m0 37h0m1-3h0m0 20h0m1-49h0m0-10h0m0 15h0m1 10h0m0-31h0m1 92h0m0-70h0m1 58h0m0-82h0m0 74h0m1-41h0m0 17h0m1-4h0m0 28h0m1 10h0m0-34h0m1 27h0m0 18h0m0-16h0m1-27h0m0-25h0m1 32h0m0-1h0m1-32h0m0 67h0m1 15h0m0-51h0m0-17h0m1-6h0m0-16h0m1-25h0m0 46h0m1-22h0m0-7h0m0 35h0m1-11h0m0 9h0m1 40h0m0 4h0m1-42h0m0-13h0m1 37h0m0-24h0m0-10h0m1 25h0m0-10h0m1-41h0m0 26h0m1 2h0m0 3h0m0-11h0m1-14h0m0 58h0m1-11h0m0-25h0m1 47h0m0 1h0m1-43h0m0 56h0m0-9h0m1-77h0m0 56h0m1-4h0m0-35h0m1 1h0m0 29h0m0-26h0m1 10h0m0 5h0m1 16h0m0-10h0m1-39h0m0-26h0m1 29h0m0 36h0m0-45h0m1 7h0m0-12h0m1 27h0m0 18h0m1-63h0m0 49h0m0-16h0m1 4h0m0-24h0m1 63h0m0-9h0m1 14h0m0-51h0m1 17h0m0 39h0m0-8h0m1-48h0m0 48h0m1-35h0m0 35h0m1-2h0m0-77h0m0 37h0m1-14h0m0 61h0m1-13h0m0-38h0m1 25h0m0 5h0m1-23h0m0 18h0m0-4h0m1 38h0m0-69h0m1 25h0m0 20h0m1-23h0m0 15h0m0 51h0m1-40h0m0-3h0m1-20h0m0 12h0m1-5h0m0 14h0m1 30h0m0-32h0m0 38h0m1-45h0m0 13h0m1-32h0m0 5h0m1 2h0m0 35h0m0 11h0m1-39h0m0-26h0m1 18h0m0-14h0m1-11h0m0 30h0m1 19h0m0-44h0m0 77h0m1 22h0m0-69h0m1 24h0m0-4h0m1-26h0m0-1h0m1 43h0m0-29h0m0 24h0m1-30h0m0-2h0m1-14h0m0 32h0m1-26h0m0-32h0m0 36h0m1 3h0m0-23h0m1 32h0m0-17h0m1 9h0m0 0h0m1 6h0m0 102h0m0-80h0m1 24h0m0-78h0m1 50h0m0-22h0m1 14h0m0-13h0m0 3h0m1 25h0m0-63h0m1 23h0m0 14h0m1-37h0m0 84h0m1-82h0m0 30h0m0 2h0m1 36h0m0 7h0m1-46h0m0 2h0m1-11h0m0 14h0m0 49h0m1-28h0m0-1h0m1 33h0m0 12h0m1-50h0m0 50h0m1 32h0m0-12h0m0-49h0m1 29h0m0 3h0m1-7h0m0 24h0m1 15h0m0 70h0m0-123h0m1 19h0m0-21h0m1 32h0m0-32h0m1 109h0m0-65h0m1-15h0m0-10h0m0-2h0m1-34h0m0 68h0m1-5h0m0-10h0m1 43h0m0 48h0m0-108h0m1 51h0m0 46h0m1-7h0m0 65h0m1-107h0m0 28h0m1-28h0m0 19h0m0-11h0m1 12h0m0 21h0m1 46h0m0-28h0m1-14h0m0-15h0m0 66h0m1-51h0m0-4h0m1 94h0m0-70h0m1-23h0m0 58h0m1-68h0m0 27h0m0-16h0m1 4h0m0 120h0m1-143h0m0 30h0m1 5h0m0-10h0m0 28h0m1-70h0m0 16h0m1 33h0m0-2h0m1 47h0m0-58h0m1 51h0m0-60h0m0 46h0m1-5h0m0-51h0m1 47h0m0-4h0m1 18h0m0 49h0m1-41h0m0-2h0m0-38h0m1 39h0m0-38h0m1 8h0m0 8h0m1 17h0m0 36h0m0-99h0m1 54h0m0 74h0m1-104h0m0 74h0m1-40h0m0-9h0m1 3h0m0-6h0m0 38h0m1 6h0m0 0h0m1-79h0m0 8h0m1-4h0m0-5h0m0 0h0m1-35h0m0-12h0m1 52h0m0-22h0m1 16h0m0 1h0m1-56h0m0 25h0m0-3h0m1 43h0m0-38h0m1 38h0m0-73h0m1-4h0m0 35h0m0 3h0m1 10h0m0-37h0m1 53h0m0-11h0m1 23h0m0-84h0m1 46h0m0 7h0m0 8h0m1-54h0m0 1h0m1 9h0m0 21h0m1-37h0m0-9h0m0 40h0m1-1h0m0-40h0m1 85h0m0-23h0m1-35h0m0 110h0m1-109h0m0-14h0m0 22h0m1 17h0m0 8h0m1 35h0m0-50h0m1-21h0m0 44h0m0-9h0m1-37h0m0-1h0m1 34h0m0-35h0m1-8h0m0 26h0m1-18h0m0-1h0m0 0h0m1 31h0m0 0h0m1-18h0m0 19h0m1-9h0m0-58h0m0 24h0m1 62h0m0-35h0m1-49h0m0 30h0m1 24h0m0-38h0m1-13h0m0 54h0m0 21h0m1-44h0m0 10h0m1-38h0m0 91h0m1-73h0m0-44h0m0 21h0m1-20h0m0 19h0m1-16h0m0 26h0m1-2h0m0 7h0m1-19h0m0 9h0m0 24h0m1-27h0m0 16h0m1 16h0m0-14h0m1-22h0m0 23h0m0-19h0m1 21h0m0 34h0m1-30h0m0-22h0m1-21h0m0 36h0m1 9h0m0-25h0m0 39h0m1-20h0m0-22h0m1 2h0m0 37h0m1-25h0m0-30h0m1 20h0m0-22h0m0 45h0m1-24h0m0 9h0m1 45h0m0-69h0m1 36h0m0-30h0m0-13h0m1 43h0m0-14h0m1 10h0m0-20h0m1 22h0m0-5h0m1-38h0m0 4h0m0 5h0m1 16h0m0-14h0m1 27h0m0-37h0m1 29h0m0 8h0m0-18h0m1-9h0m0 14h0m1 21h0m0 39h0m1-57h0m0 22h0m1-25h0m0-10h0m0-4h0m1 13h0m0 2h0m1-10h0m0 53h0m1-33h0m0 3h0m0 59h0m1-64h0m0 38h0m1-65h0m0 14h0m1-3h0m0 24h0m1 5h0m0-13h0m0-3h0m1 8h0m0-27h0m1 53h0m0-38h0m1-16h0m0 16h0m0-1h0m1-12h0m0 9h0m1-17h0m0-1h0m1 20h0m0 38h0m1-50h0m0-11h0m0 30h0m1-19h0m0 20h0m1 0h0m0-27h0m1 5h0m0 15h0m0-39h0m1 15h0m0-1h0m1-11h0m0 26h0m1-12h0m0 2h0m1 22h0m0-11h0m0 25h0m1 5h0m0-17h0m1-39h0m0-4h0m1 9h0m0 5h0m0 10h0m1 0h0m0 0h0m1-9h0m0 47h0m1 8h0m0-38h0m1-17h0m0 18h0m0 7h0m1 2h0m0 23h0m1 10h0m0-33h0m1 6h0m0-29h0m0 18h0m1-3h0m0-22h0m1 36h0m0-25h0m1 12h0m0 53h0m1-6h0m0-56h0m0-6h0m1 30h0m0 15h0m1-26h0m0 19h0m1-19h0m0 24h0m1-9h0m0 30h0m0-46h0m1 20h0m0-2h0m1 1h0m0 4h0m1-12h0m0 23h0m0-12h0m1 9h0m0-31h0m1 34h0m0-36h0m1 36h0m0-36h0m1-17h0m0 4h0m0 36h0m1 10h0m0-29h0m1 48h0m0-40h0m1-13h0m0-3h0m0 6h0m1-7h0m0 6h0m1 16h0m0 25h0m1-7h0m0-35h0m1 7h0m0 64h0m0-21h0m1-21h0m0 9h0m1-8h0m0 20h0m1-26h0m0 44h0m0-50h0m1 6h0m0-18h0m1 55h0m0-34h0m1 35h0m0-60h0m1 6h0m0 44h0m0 3h0m1-49h0m0 29h0m1-19h0m0-8h0m1-7h0m0 34h0m0-50h0m1 17h0m0 16h0m1-6h0m0 12h0m1-50h0m0 30h0m1 38h0m0 1h0m0-37h0m1-3h0m0 37h0m1-23h0m0-35h0m1 32h0m0 0h0m0 5h0m1-14h0m0-1h0m1 18h0m0-11h0m1-20h0m0 58h0m1-47h0m0-25h0m0 27h0m1 8h0m0 24h0m1-28h0m0-7h0m1-18h0m0 58h0m0-31h0m1-13h0m0 32h0m1 5h0m0-42h0m1-5h0m0 13h0m1-7h0m0 45h0m0 33h0m1-29h0m0-47h0m1-5h0m0 72h0m1-40h0m0-18h0m0 110h0m1-91h0m0-14h0m1 11h0m0-4h0m1 24h0m0-22h0m1-10h0m0 22h0m0 13h0m1 4h0m0-48h0m1 30h0m0-40h0m1 23h0m0-5h0m1 12h0m0 30h0m0-16h0m1-9h0m0 13h0m1 6h0m0-32h0m1-15h0m0 24h0m0-32h0m1 6h0m0 6h0m1 8h0m0 36h0m1-27h0m0 11h0m1-18h0m0 15h0m0-14h0m1 22h0m0-27h0m1 28h0m0 3h0m1-19h0m0 15h0m0-18h0m1-5h0m0 15h0m1-33h0m0 16h0m1 53h0m0-47h0m1-28h0m0 23h0m0 0h0m1-23h0m0 30h0m1-4h0m0-10h0m1-19h0m0 35h0m0-12h0m1-9h0m0 44h0m1-15h0m0-11h0m1-16h0m0 53h0m1-44h0m0-41h0m0 34h0m1 27h0m0-47h0m1-1h0m0 62h0m1-18h0m0-18h0m0 5h0m1 27h0m0-18h0m1 3h0m0 25h0m1-25h0m0 1h0m1-16h0m0-5h0m0 5h0m1-1h0m0 18h0m1-20h0m0 28h0m1 15h0m0-39h0m0 31h0m1-25h0m0-9h0m1 12h0m0-1h0m1-20h0m0 22h0m1-6h0m0 1h0m0 102h0m1-112h0m0-19h0m1 14h0m0-9h0m1 3h0m0 14h0m0 39h0m1-32h0m0 29h0m1-36h0m0 8h0m1 12h0m0-19h0m1 36h0m0-19h0m0-15h0m1 14h0m0 23h0m1-35h0m0 24h0m1-28h0m0-14h0m0 28h0m1-5h0m0 32h0m1-50h0m0 4h0m1-18h0m0 23h0m1-7h0m0 7h0m0-34h0m1 26h0m0-11h0m1-10h0m0 11h0m1-24h0m0-4h0m1-5h0m0 15h0m0-1h0m1-1h0m0 36h0m1-20h0m0-31h0m1 75h0m0-60h0m0-21h0m1 33h0m0 2h0m1-22h0m0 40h0m1-39h0m0-11h0m1-6h0m0 45h0m0-41h0m1 36h0m0-22h0m1 7h0m0-1h0m1 0h0m0 18h0m0 3h0m1-40h0m0 14h0m1-12h0m0 45h0m1-8h0m0-10h0m1-28h0m0 53h0m0-21h0m1-6h0m0 11h0m1 8h0m0-18h0m1 22h0m0-24h0m0 3h0m1 0h0m0 33h0m1-50h0m0 33h0m1 41h0m0-4h0m1-43h0m0-19h0m0 27h0m1 8h0m0 31h0m1-40h0m0-6h0m1 29h0m0-13h0m0-36h0m1 48h0m0-25h0m1 4h0m-1415 512h0m-4 12h0m-4 20h0m9 14h0m0 28h0m-1 28h0m-1 18h0m-6 21h0m5 27h0m-1 25h0m4 19h0m-10 17h0m6 27h0m-2 19h0m3 23h0m-7 25h0m-941-720h0m-1 25h0m2 41h0m2 37h0m-9 19h0m9 63h0m-3 14h0m3 62h0m0 28h0m-4 26h0m-1 25h0m5 44h0m-1 53h0m2 38h0m-11 24h0m48-355h0m-3 33h0m-1 35h0m7 40h0m-6 35h0m5 13h0m3 43h0m-3 60h0m63-82h0m5 45h0m3 30h0m0 48h0m-3 8h0m-5 30h0m66-234h0m-7 43h0m8 23h0m-10 10h0m8 43h0m-3 35h0m-3 21h0m-2 19h0m4 37h0m-4 12h0m135-421h0m-1 12h0m-3 15h0m-2 44h0m584-388h0m-7 27h0m7 40h0m-7 31h0m2 27h0m5 33h0m-5 14h0m6 35h0m-5 25h0m3 17h0m44 29h0m3 19h0m-5 30h0m1 19h0m569-84h0m-5 36h0m4 35h0m-7 32h0m-1 7h0m200-73h0m4 25h0m-4 27h0m-1 29h0m3 21h0m-5 34h0m6 21h0m-6 25h0m67-55h0m3 12h0m-10 38h0m0 14h0m8 40h0m-7 24h0m-2 17h0m3 15h0m-1 32h0m5 38h0m31-83h0m6 28h0m4 14h0m0 19h0m-1 35h0m-3 23h0m-1 41h0m0 16h0m114-388h0m6 33h0m-2 34h0m4 6h0m-257 226h0m-1 32h0m-5 8h0m3 35h0m3 12h0m63-88h0m6 25h0m1 22h0m-1 23h0m-8 13h0" stroke="#0000ff" stroke-width="14.5" stroke-linecap="square" fill="none"/></g>
<g transform="scale(.1)"><path d="m654 4992h0m1-22h0m0-1h0m1 20h0m0 17h0m0-62h0m1 31h0m0-52h0m1 86h0m0-92h0m1 57h0m0-34h0m0-24h0m1-41h0m0 125h0m1-34h0m0 24h0m1 3h0m0-46h0m1 29h0m0-115h0m0 137h0m1 32h0m0-12h0m1 2h0m0-19h0m1 12h0m0-141h0m0 99h0m1-27h0m0 77h0m1 35h0m0-51h0m1-25h0m0 13h0m1-35h0m0 50h0m0-48h0m1 13h0m0 10h0m1-4h0m0 5h0m1 3h0m0 26h0m0-48h0m1 29h0m0-66h0m1 70h0m0-20h0m1-49h0m0 41h0m1-40h0m0 30h0m0 19h0m1-30h0m0 25h0m1-18h0m0-31h0m1 50h0m0 23h0m0-30h0m1-47h0m0 97h0m1-74h0m0-78h0m1 67h0m0-17h0m1-2h0m0 29h0m0-21h0m1 73h0m0-13h0m1-38h0m0-126h0m1 39h0m0 60h0m1 65h0m0-67h0m0 0h0m1 81h0m0 6h0m1-95h0m0 22h0m1-17h0m0-30h0m0 94h0m1-47h0m0 19h0m1-11h0m0 6h0m1 17h0m0 19h0m1 0h0m0-17h0m0 14h0m1 29h0m0-7h0m1 13h0m0-26h0m1-37h0m0 30h0m0-22h0m1 37h0m0 26h0m1 0h0m0 9h0m1-115h0m0 62h0m1-37h0m0 36h0m0 23h0m1-20h0m0-41h0m1-17h0m0 43h0m1 18h0m0-39h0m0 68h0m1-72h0m0 23h0m1 1h0m0 51h0m1 30h0m0-16h0m1-69h0m0 30h0m0-25h0m1 20h0m0 40h0m1-67h0m0 75h0m1-31h0m0 27h0m0-58h0m1 31h0m0-30h0m1-2h0m0-34h0m1 34h0m0 49h0m1 24h0m0-33h0m0-48h0m1 39h0m0-3h0m1-19h0m0 28h0m1-14h0m0-50h0m0 71h0m1-14h0m0-37h0m1 23h0m0 28h0m1-62h0m0-28h0m1 69h0m0-76h0m0 133h0m1-51h0m0-4h0m1-31h0m0 35h0m1 34h0m0-73h0m0-5h0m1 6h0m0 47h0m1-12h0m0 32h0m1-40h0m0-62h0m1 86h0m0 32h0m0 0h0m1-27h0m0-78h0m1 95h0m0-84h0m1 33h0m0 56h0m0-85h0m1 27h0m0-6h0m1 27h0m0-44h0m1 21h0m0 52h0m1-36h0m0-42h0m0-71h0m1 83h0m0 46h0m1-148h0m0 112h0m1 2h0m0-1h0m1-53h0m0 116h0m0-34h0m1 37h0m0-26h0m1-14h0m0 3h0m1-33h0m0 42h0m0-72h0m1 5h0m0 88h0m1-66h0m0-38h0m1 46h0m0 23h0m1-1h0m0-28h0m0 6h0m1 30h0m0 33h0m1-123h0m0 80h0m1-56h0m0 61h0m0 14h0m1 4h0m0-35h0m1 27h0m0 15h0m1-48h0m0 33h0m1 9h0m0 34h0m0-99h0m1 56h0m0-2h0m1 1h0m0 5h0m1-29h0m0-9h0m0 14h0m1-16h0m0 25h0m1 3h0m0-10h0m1 40h0m0-99h0m1 57h0m0 61h0m0 9h0m1-18h0m0-76h0m1 39h0m0-7h0m1-2h0m0-109h0m0 65h0m1-38h0m0-23h0m1 51h0m0 35h0m1 2h0m0 22h0m1-69h0m0 59h0m0-35h0m1 7h0m0-17h0m1-34h0m0 64h0m1 11h0m0-40h0m0 44h0m1-40h0m0-58h0m1 122h0m0-20h0m1-44h0m0 42h0m1-77h0m0-26h0m0 38h0m1 33h0m0-15h0m1 28h0m0-58h0m1 10h0m0-6h0m0 78h0m1-87h0m0 54h0m1-76h0m0 68h0m1 34h0m0-2h0m1-57h0m0 29h0m0-76h0m1 1h0m0 65h0m1-12h0m0 4h0m1 15h0m0-38h0m0 30h0m1-16h0m0 108h0m1-9h0m0-103h0m1 119h0m0 59h0m1-52h0m0 71h0m0-26h0m1-26h0m0 52h0m1 35h0m0 3h0m1 9h0m0-7h0m1-2h0m0-12h0m0 13h0m1 21h0m0-80h0m1 74h0m0-22h0m1 31h0m0-6h0m0 3h0m1-44h0m0 31h0m1 21h0m0 12h0m1-5h0m0 1h0m1-23h0m0-72h0m0 60h0m1 38h0m0-31h0m1 14h0m0 18h0m1-28h0m0 6h0m0-14h0m1-1h0m0 20h0m1-1h0m0 3h0m1 5h0m0-11h0m1 2h0m0 11h0m0 6h0m1 7h0m0-14h0m1 10h0m0-22h0m1-37h0m0 38h0m0 17h0m1-26h0m0-4h0m1-32h0m0 62h0m1-13h0m0 7h0m1 19h0m0-44h0m0 8h0m1 5h0m0-15h0m1-82h0m0 99h0m1 2h0m0-27h0m0 17h0m1-13h0m0 7h0m1-32h0m0 39h0m1-7h0m0 6h0m1-11h0m0 19h0m0-32h0m1 19h0m0-6h0m1-18h0m0 8h0m1-21h0m0 37h0m0-10h0m1 20h0m0-17h0m1-18h0m0 26h0m1 10h0m0-31h0m1-6h0m0 11h0m0 22h0m1 18h0m0-30h0m1-49h0m0 71h0m1-7h0m0-29h0m0 6h0m1-5h0m0 25h0m1 22h0m0-35h0m1-27h0m0 9h0m1 30h0m0-4h0m0-6h0m1 17h0m0-10h0m1-53h0m0 82h0m1-12h0m0-41h0m0 32h0m1-4h0m0 2h0m1-8h0m0 0h0m1 36h0m0-63h0m1-2h0m0 52h0m0-26h0m1-55h0m0 54h0m1 20h0m0-43h0m1 15h0m0 9h0m1 24h0m0-11h0m0-24h0m1-31h0m0-16h0m1 48h0m0-60h0m1 32h0m0 24h0m0 26h0m1-22h0m0 31h0m1-42h0m0 17h0m1-27h0m0 39h0m1-32h0m0 18h0m0-18h0m1-7h0m0 64h0m1-14h0m0-37h0m1 34h0m0-24h0m0 35h0m1-14h0m0-15h0m1-66h0m0 77h0m1-2h0m0-6h0m1 6h0m0 5h0m0 0h0m1-20h0m0-14h0m1-6h0m0 23h0m1 23h0m0-57h0m0 39h0m1-7h0m0-39h0m1 26h0m0 9h0m1 1h0m0-33h0m1 12h0m0-33h0m0 34h0m1 12h0m0-80h0m1 47h0m0 11h0m1 32h0m0-13h0m0 24h0m1-37h0m0 7h0m1-34h0m0-7h0m1 16h0m0-15h0m1 22h0m0 16h0m0-1h0m1-2h0m0 7h0m1-5h0m0-33h0m1 48h0m0-4h0m0-12h0m1 8h0m0-5h0m1 1h0m0-13h0m1 3h0m0 51h0m1-20h0m0 13h0m0 7h0m1-38h0m0 17h0m1 29h0m0 1h0m1-11h0m0-17h0m0 26h0m1-19h0m0 1h0m1-6h0m0-5h0m1 19h0m0-52h0m1 50h0m0-3h0m0 24h0m1-30h0m0-6h0m1-36h0m0 53h0m1-79h0m0 70h0m0 5h0m1-15h0m0-25h0m1 4h0m0-33h0m1 54h0m0-36h0m1 55h0m0-27h0m0-3h0m1 16h0m0-11h0m1-22h0m0 31h0m1-22h0m0 61h0m0-77h0m1 52h0m0-13h0m1 18h0m0 2h0m1 29h0m0-2h0m1 13h0m0-63h0m0 18h0m1 18h0m0-45h0m1-24h0m0 67h0m1 20h0m0 4h0m1-124h0m0 103h0m0-4h0m1 7h0m0-37h0m1 83h0m0-6h0m1-4h0m0 4h0m0 52h0m1 16h0m0-12h0m1-21h0m0 17h0m1-9h0m0-4h0m1 0h0m0 63h0m0 18h0m1-28h0m0-107h0m1 94h0m0-19h0m1 13h0m0 27h0m0 39h0m1-23h0m0-35h0m1 10h0m0 29h0m1-52h0m0 50h0m1-11h0m0-2h0m0-17h0m1-156h0m0 183h0m1-6h0m0 8h0m1-60h0m0 74h0m0-50h0m1 86h0m0-22h0m1-33h0m0 31h0m1-46h0m0 38h0m1-42h0m0-12h0m0-11h0m1 87h0m0-39h0m1-18h0m0 5h0m1-37h0m0 8h0m0 29h0m1 4h0m0 2h0m1 13h0m0-56h0m1 48h0m0 5h0m1 0h0m0-37h0m0 6h0m1 27h0m0 2h0m1-13h0m0 34h0m1-39h0m0 3h0m0 2h0m1-15h0m0-33h0m1-16h0m0-19h0m1 26h0m0-57h0m1 80h0m0-31h0m0 0h0m1 17h0m0-20h0m1-27h0m0-24h0m1 29h0m0-19h0m0 76h0m1-85h0m0-181h0m1 197h0m0-98h0m1 134h0m0-8h0m1-20h0m0-13h0m0-12h0m1-13h0m0-8h0m1 14h0m0 52h0m1-94h0m0 98h0m0-3h0m1-84h0m0 21h0m1 47h0m0-7h0m1-27h0m0 20h0m1-11h0m0 16h0m0-14h0m1 3h0m0 29h0m1-13h0m0-34h0m1-21h0m0 87h0m1-46h0m0-4h0m0 59h0m1-90h0m0 5h0m1 112h0m0-22h0m1-16h0m0-22h0m0-38h0m1 46h0m0-17h0m1 93h0m0-40h0m1 5h0m0 38h0m1 22h0m0-34h0m0-13h0m1-44h0m0 73h0m1 5h0m0 27h0m1-17h0m0 18h0m0-22h0m1-17h0m0 2h0m1-1h0m0 13h0m1 27h0m0-40h0m1 15h0m0 7h0m0-37h0m1 4h0m0-6h0m1 24h0m0 14h0m1-14h0m0 1h0m0-12h0m1-23h0m0-2h0m1 19h0m0 31h0m1-33h0m0 40h0m1-59h0m0 87h0m0-29h0m1-55h0m0 3h0m1 57h0m0-33h0m1 3h0m0-37h0m0 36h0m1 30h0m0-23h0m1-12h0m0-19h0m1 26h0m0 34h0m1-41h0m0 5h0m0 12h0m1-16h0m0 32h0m1-17h0m0-29h0m1 23h0m0-24h0m0 28h0m1 50h0m0-21h0m1-13h0m0 1h0m1-3h0m0 1h0m1-20h0m0 3h0m0 21h0m1-1h0m0 3h0m1-33h0m0-30h0m1 40h0m0-19h0m0 39h0m1-22h0m0-6h0m1 36h0m0-46h0m1 44h0m0 10h0m1-75h0m0 21h0m0-44h0m1 64h0m0 12h0m1-29h0m0 66h0m1-37h0m0-38h0m0 18h0m1 26h0m0-44h0m1 40h0m0-89h0m1 81h0m0 27h0m1-12h0m0 17h0m0-28h0m1-5h0m0-26h0m1 5h0m0-90h0m1 104h0m0-39h0m1 34h0m0-12h0m0-8h0m1-31h0m0 21h0m1-8h0m0-53h0m1-17h0m0 70h0m0 26h0m1-26h0m0-27h0m1-13h0m0 51h0m1-110h0m0 22h0m1 26h0m0 2h0m0-24h0m1-18h0m0-8h0m1-56h0m0 124h0m1-48h0m0-32h0m0 58h0m1-5h0m0-16h0m1 12h0m0 25h0m1-6h0m0-34h0m1 14h0m0 13h0m0-69h0m1 49h0m0 9h0m1 17h0m0-30h0m1-30h0m0 47h0m0-10h0m1 10h0m0-18h0m1 7h0m0-32h0m1-10h0m0 62h0m1-41h0m0 24h0m0-6h0m1-43h0m0 46h0m1 7h0m0-13h0m1-112h0m0 113h0m0-120h0m1 60h0m0 50h0m1 8h0m0-19h0m1 3h0m0-16h0m1 33h0m0-7h0m0 29h0m1-41h0m0 16h0m1-48h0m0-28h0m1 65h0m0-41h0m0 31h0m1-60h0m0 11h0m1 35h0m0-71h0m1 58h0m0-12h0m1-39h0m0 3h0m0 39h0m1-19h0m0 85h0m1-56h0m0 27h0m1-31h0m0 73h0m0 11h0m1-56h0m0 4h0m1 19h0m0 37h0m1 10h0m0-108h0m1 53h0m0-23h0m0-13h0m1 115h0m0-39h0m1 3h0m0-9h0m1-48h0m0-78h0m0 66h0m1 29h0m0 26h0m1-45h0m0-41h0m1 67h0m0-14h0m1-32h0m0 0h0m0-20h0m1-45h0m0 76h0m1 43h0m0-37h0m1 43h0m0 17h0m1-13h0m0-28h0m0 45h0m1 6h0m0-110h0m1 36h0m0 80h0m1 21h0m0-85h0m0 34h0m1 36h0m0-19h0m1 16h0m0 7h0m1 7h0m0 8h0m1 19h0m0 7h0m0-33h0m1-19h0m0-42h0m1 58h0m0-24h0m1 1h0m0 11h0m0-10h0m1-49h0m0 86h0m1-81h0m0 111h0m1-62h0m0 41h0m1-6h0m0-40h0m0 10h0m1 62h0m0 20h0m1-38h0m0-59h0m1 70h0m0-22h0m0 26h0m1-21h0m0 3h0m1-10h0m0 43h0m1-7h0m0 28h0m1-2h0m0-31h0m0 35h0m1-23h0m0 15h0m1-22h0m0 18h0m1-11h0m0-6h0m0 23h0m1-18h0m0 0h0m1-12h0m0-51h0m1 80h0m0-31h0m1 52h0m0-52h0m0 44h0m1-30h0m0 15h0m1-19h0m0 13h0m1-55h0m0 86h0m0-33h0m1 17h0m0 4h0m1-43h0m0 10h0m1-3h0m0 43h0m1-45h0m0 20h0m0 2h0m1-43h0m0 59h0m1-27h0m0 8h0m1 5h0m0-7h0m0 4h0m1-116h0m0 114h0m1 21h0m0-12h0m1 1h0m0-19h0m1 13h0m0 28h0m0-15h0m1-5h0m0-18h0m1 12h0m0-2h0m1-29h0m0 46h0m0-42h0m1 38h0m0 7h0m1-11h0m0 33h0m1-44h0m0 27h0m1-22h0m0-20h0m0 28h0m1-2h0m0-5h0m1-9h0m0 38h0m1-21h0m0-31h0m0 48h0m1-36h0m0-9h0m1 43h0m0-52h0m1 30h0m0-6h0m1 12h0m0-15h0m0 43h0m1-20h0m0 17h0m1-67h0m0 38h0m1 8h0m0-37h0m1 19h0m0 22h0m0-22h0m1 13h0m0-62h0m1 74h0m0-26h0m1-40h0m0 11h0m0 46h0m1-4h0m0-19h0m1-18h0m0-26h0m1 44h0m0-3h0m1-27h0m0-109h0m0 135h0m1-61h0m0 73h0m1-62h0m0 33h0m1-20h0m0 1h0m0 25h0m1 17h0m0-31h0m1-79h0m0 64h0m1-46h0m0-57h0m1 88h0m0-34h0m0-22h0m1 11h0m0 18h0m1 46h0m0-45h0m1 12h0m0-11h0m0 51h0m1-12h0m0-27h0m1 30h0m0-18h0m1 62h0m0-10h0m1-47h0m0-28h0m0 73h0m1 8h0m0-8h0m1-22h0m0 14h0m1 15h0m0-13h0m0 43h0m1-70h0m0 31h0m1-36h0m0 3h0m1 39h0m0-9h0m1-13h0m0 6h0m0 8h0m1 4h0m0 21h0m1-20h0m0 18h0m1-49h0m0-3h0m0 40h0m1 4h0m0-9h0m1-25h0m0 12h0m1-3h0m0-10h0m1 27h0m0 16h0m0-1h0m1-11h0m0-29h0m1 57h0m0-40h0m1 36h0m0-18h0m0-27h0m1 38h0m0-29h0m1 32h0m0 35h0m1-76h0m0 85h0m1-60h0m0 54h0m0-19h0m1 16h0m0-21h0m1-3h0m0-7h0m1 35h0m0-14h0m0-30h0m1 25h0m0 0h0m1-32h0m0 42h0m1 3h0m0-13h0m1-49h0m0 75h0m0-31h0m1 31h0m0-36h0m1-14h0m0-17h0m1 34h0m0 33h0m1-53h0m0 37h0m0-70h0m1 75h0m0-34h0m1 5h0m0-27h0m1-20h0m0 68h0m0-37h0m1 17h0m0-18h0m1-14h0m0 31h0m1 23h0m0-55h0m1-2h0m0 42h0m0 11h0m1-22h0m0 18h0m1 2h0m0-10h0m1-29h0m0 30h0m0-27h0m1 4h0m0-115h0m1 89h0m0 21h0m1 30h0m0-20h0m1-58h0m0 66h0m0 22h0m1-17h0m0 8h0m1-65h0m0 18h0m1 56h0m0-19h0m0-19h0m1-64h0m0 52h0m1-43h0m0-29h0m1 33h0m0-32h0m1 44h0m0 24h0m0-8h0m1-27h0m0-11h0m1-45h0m0 98h0m1-45h0m0 66h0m0 12h0m1-37h0m0-17h0m1-4h0m0 37h0m1-9h0m0 10h0m1-44h0m0 25h0m0 58h0m1-53h0m0 19h0m1-15h0m0-64h0m1 58h0m0-27h0m0 74h0m1-6h0m0 18h0m1-49h0m0-7h0m1-27h0m0 60h0m1-30h0m0-22h0m0 34h0m1 11h0m0-15h0m1-14h0m0-43h0m1 81h0m0-43h0m0-2h0m1 33h0m0-1h0m1-3h0m0-16h0m1 15h0m0-15h0m1-20h0m0 33h0m0-4h0m1-8h0m0-36h0m1 54h0m0 17h0m1-38h0m0 42h0m0-25h0m1-28h0m0 60h0m1-34h0m0 10h0m1-24h0m0-15h0m1 55h0m0-45h0m0 12h0m1-25h0m0 37h0m1-2h0m0 11h0m1-24h0m0 3h0m1 4h0m0 37h0m0-25h0m1-21h0m0 2h0m1 8h0m0 34h0m1-10h0m0 9h0m0-36h0m1 13h0m0 4h0m1-25h0m0 51h0m1-30h0m0-29h0m1 36h0m0 4h0m0-26h0m1 5h0m0 28h0m1-40h0m0 19h0m1-22h0m0 49h0m0-10h0m1-35h0m0-27h0m1 38h0m0-2h0m1-10h0m0-18h0m1 7h0m0-6h0m0-16h0m1 44h0m0-11h0m1-6h0m0-4h0m1 16h0m0 5h0m0 2h0m1 8h0m0-4h0m1-34h0m0 37h0m1-64h0m0 38h0m1 14h0m0-8h0m0 21h0m1-47h0m0 31h0m1-49h0m0 19h0m1 35h0m0 19h0m0-11h0m1-55h0m0 39h0m1-8h0m0-11h0m1-4h0m0 2h0m1 18h0m0 4h0m0-17h0m1 33h0m0-31h0m1-33h0m0 33h0m1 10h0m0-29h0m0 34h0m1-14h0m0 47h0m1-31h0m0-20h0m1-31h0m0-9h0m1 63h0m0 17h0m0-19h0m1 5h0m0-1h0m1-18h0m0 15h0m1-48h0m0 6h0m0 3h0m1 54h0m0-5h0m1 6h0m0-35h0m1 18h0m0-10h0m1-19h0m0 45h0m0-41h0m1 58h0m0 4h0m1-48h0m0-7h0m1 6h0m0 16h0m0-18h0m1 7h0m0 14h0m1-11h0m0 17h0m1-83h0m0 75h0m1-37h0m0 0h0m0 15h0m1 24h0m0 21h0m1-22h0m0-25h0m1 16h0m0-32h0m1 27h0m0-7h0m0 26h0m1-25h0m0 26h0m1-31h0m0 23h0m1-8h0m0 34h0m0-5h0m1-73h0m0 33h0m1 18h0m0-10h0m1-19h0m0 27h0m1-25h0m0 27h0m0-9h0m1-4h0m0-13h0m1-46h0m0 25h0m1 36h0m0-6h0m0-29h0m1-20h0m0-32h0m1 40h0m0-20h0m1 15h0m0-8h0m1-37h0m0 47h0m0 10h0m1-14h0m0-9h0m1 21h0m0-12h0m1-44h0m0 35h0m0 11h0m1-42h0m0-21h0m1 22h0m0-12h0m1 70h0m0-52h0m1 35h0m0-74h0m0-103h0m1 151h0m0-29h0m1-12h0m0 55h0m1-39h0m0-32h0m0-12h0m1 25h0m0-8h0m1-114h0m0 101h0m1-28h0m0 60h0m1-50h0m0-92h0m0 88h0m1 22h0m0-74h0m1-35h0m0 36h0m1 45h0m0-10h0m0-39h0m1 61h0m0-82h0m1 19h0m0-5h0m1 7h0m0-30h0m1-7h0m0-4h0m0 43h0m1-165h0m0 121h0m1 48h0m0-59h0m1 0h0m0 84h0m0-82h0m1 60h0m0-9h0m1-13h0m0-80h0m1 74h0m0-19h0m1 17h0m0-42h0m0 25h0m1-19h0m0 31h0m1-16h0m0-11h0m1 26h0m0-54h0m0 51h0m1-33h0m0-3h0m1 32h0m0-15h0m1 29h0m0-51h0m1 50h0m0-60h0m0 7h0m1-13h0m0 34h0m1-15h0m0-14h0m1 4h0m0 19h0m0-26h0m1 17h0m0-32h0m1-1h0m0-8h0m1-112h0m0 144h0m1-28h0m0 10h0m0 7h0m1 22h0m0-13h0m1 18h0m0-36h0m1 58h0m0-14h0m1-54h0m0 43h0m0-14h0m1-17h0m0 30h0m1 1h0m0-32h0m1-38h0m0-25h0m0 67h0m1 14h0m0 7h0m1-17h0m0 30h0m1-21h0m0-76h0m1 85h0m0-1h0m0-20h0m1-5h0m0-36h0m1 0h0m0 56h0m1-41h0m0 4h0m0-22h0m1 57h0m0 10h0m1 10h0m0-29h0m1-36h0m0 41h0m1-151h0m0 104h0m0-51h0m1 156h0m0-89h0m1-12h0m0 62h0m1-78h0m0 39h0m0 11h0m1 12h0m0-15h0m1-52h0m0 27h0m1 20h0m0 31h0m1-89h0m0 15h0m0 40h0m1 45h0m0-23h0m1-65h0m0 29h0m1 3h0m0-63h0m0 77h0m1 25h0m0 27h0m1-118h0m0 90h0m1-14h0m0-7h0m1 28h0m0 8h0m0-83h0m1 54h0m0-64h0m1 25h0m0 95h0m1-209h0m0 191h0m0-104h0m1 65h0m0 37h0m1 6h0m0-39h0m1 0h0m0-21h0m1 12h0m0 70h0m0-30h0m1-73h0m0 66h0m1 30h0m0-11h0m1-94h0m0 28h0m0 50h0m1-14h0m0-55h0m1 36h0m0 22h0m1 9h0m0 42h0m1-21h0m0 2h0m0 45h0m1-64h0m0 9h0m1 48h0m0-40h0m1-69h0m0 34h0m0 59h0m1-12h0m0-10h0m1 46h0m0-64h0m1 27h0m0-108h0m1 67h0m0 39h0m0-89h0m1 59h0m0-33h0m1 35h0m0-30h0m1 16h0m0 0h0m1-14h0m0 43h0m0-4h0m1-25h0m0 65h0m1-65h0m0 25h0m1 54h0m0-47h0m0-10h0m1-30h0m0 36h0m1-2h0m0 4h0m1 21h0m0-18h0m1-52h0m0 46h0m0 33h0m1-11h0m0-2h0m1-10h0m0 8h0m1-81h0m0 93h0m0 15h0m1 1h0m0 28h0m1-52h0m0 21h0m1-64h0m0 76h0m1 1h0m0-13h0m0 17h0m1-13h0m0-23h0m1 45h0m0-34h0m1 29h0m0 27h0m0-9h0m1 5h0m0-35h0m1 31h0m0 29h0m1-33h0m0-11h0m1 27h0m0-13h0m0-12h0m1 7h0m0 12h0m1-73h0m0 87h0m1-20h0m0 8h0m0-11h0m1-16h0m0-12h0m1 31h0m0 0h0m1 19h0m0-26h0m1-29h0m0 50h0m0 8h0m1-16h0m0-22h0m1 25h0m0-8h0m1 9h0m0-8h0m0 19h0m1-13h0m0 6h0m1 9h0m0 6h0m1-11h0m0 4h0m1-30h0m0 21h0m0 27h0m1-39h0m0 14h0m1-17h0m0 30h0m1-6h0m0-24h0m0 29h0m1-56h0m0 26h0m1 7h0m0 25h0m1-42h0m0 22h0m1-43h0m0 20h0m0 2h0m1 4h0m0 15h0m1-31h0m0 15h0m1-9h0m0 25h0m0-27h0m1 6h0m0 14h0m1-1h0m0 10h0m1 12h0m0-19h0m1 5h0m0-25h0m0 36h0m1-19h0m0 7h0m1-10h0m0 14h0m1-20h0m0-9h0m1 21h0m0-25h0m0 47h0m1 11h0m0-20h0m1-2h0m0 7h0m1 11h0m0-7h0m0-7h0m1 5h0m0 1h0m1 7h0m0-100h0m1 58h0m0-3h0m1 9h0m0 13h0m0-34h0m1 47h0m0-13h0m1 4h0m0-16h0m1 8h0m0-19h0m0 11h0m1 12h0m0 8h0m1-40h0m0 33h0m1-46h0m0 2h0m1 25h0m0-10h0m0 7h0m1 0h0m0 25h0m1 4h0m0-3h0m1 0h0m0-4h0m0 5h0m1-29h0m0 23h0m1-75h0m0 59h0m1-12h0m0 21h0m1 9h0m0-2h0m0 12h0m1-20h0m0 12h0m1-22h0m0 17h0m1 6h0m0-44h0m0 20h0m1-16h0m0-1h0m1 32h0m0 9h0m1-3h0m0 9h0m1-17h0m0-10h0m0 19h0m1 1h0m0-8h0m1 15h0m0-28h0m1 30h0m0-16h0m0 29h0m1-24h0m0 8h0m1-20h0m0 19h0m1-16h0m0-6h0m1 19h0m0-10h0m0-6h0m1 18h0m0 17h0m1-9h0m0-20h0m1 2h0m0 17h0m0-8h0m1-6h0m0 13h0m1-7h0m0 4h0m1-15h0m0 19h0m1-13h0m0-1h0m0-36h0m1 43h0m0-2h0m1-5h0m0 7h0m1-10h0m0 10h0m0 6h0m1-43h0m0 33h0m1 9h0m0-6h0m1 0h0m0-46h0m1 44h0m0-1h0m0 5h0m1-1h0m0-22h0m1 18h0m0 6h0m1 4h0m0-41h0m1 34h0m0-53h0m0-12h0m1-65h0m0 70h0m1 27h0m0-117h0m1 95h0m0 33h0m0-36h0m1-13h0m0 50h0m1 10h0m0-74h0m1 37h0m0-7h0m1-99h0m0 105h0m0-4h0m1-51h0m0 9h0m1 75h0m0-32h0m1-12h0m0 40h0m0-73h0m1 49h0m0 46h0m1-53h0m0-22h0m1-115h0m0 149h0m1-60h0m0 19h0m0 18h0m1 4h0m0 8h0m1-24h0m0 3h0m1 45h0m0 12h0m0-43h0m1 38h0m0 5h0m1-95h0m0 30h0m1 10h0m0-18h0m1 17h0m0 24h0m0-57h0m1 92h0m0-17h0m1 46h0m0-112h0m1 62h0m0 81h0m0-72h0m1 9h0m0 64h0m1-3h0m0-21h0m1 69h0m0 15h0m1 17h0m0-80h0m0 90h0m1-15h0m0 0h0m1-10h0m0 49h0m1-7h0m0 7h0m0-3h0m1 7h0m0-40h0m1 6h0m0 45h0m1-15h0m0 23h0m1-4h0m0-14h0m0-23h0m1-41h0m0 62h0m1 3h0m0-6h0m1-18h0m0 30h0m0 22h0m1-8h0m0-46h0m1 55h0m0-38h0m1 30h0m0 14h0m1-76h0m0 6h0m0 24h0m1 47h0m0-30h0m1 26h0m0-14h0m1-2h0m0-57h0m0 84h0m1-2h0m0-32h0m1 41h0m0-39h0m1 9h0m0 15h0m1-2h0m0-5h0m0 3h0m1-37h0m0-25h0m1 54h0m0-13h0m1-28h0m0 55h0m0-7h0m1-50h0m0 21h0m1-44h0m0 91h0m1-36h0m0 4h0m1 17h0m0-26h0m0-9h0m1 23h0m0 27h0m1-34h0m0 20h0m1 9h0m0 1h0m1-40h0m0 29h0m0 0h0m1 19h0m0-44h0m1 45h0m0-34h0m1-29h0m0 35h0m0-16h0m1 11h0m0 30h0m1-3h0m0-6h0m1 3h0m0 2h0m1 10h0m0-35h0m0 20h0m1-3h0m0 5h0m1-11h0m0-12h0m1 12h0m0 27h0m0 3h0m1-66h0m0 64h0m1-66h0m0 38h0m1-25h0m0 27h0m1-15h0m0 12h0m0 19h0m1-28h0m0 20h0m1-45h0m0 29h0m1-17h0m0-19h0m0 35h0m1-4h0m0 14h0m1-27h0m0 19h0m1 16h0m0-13h0m1 1h0m0-15h0m0 7h0m1-15h0m0 12h0m1 15h0m0 13h0m1-2h0m0-10h0m0 3h0m1-54h0m0 10h0m1-31h0m0 24h0m1 48h0m0-10h0m1 7h0m0-7h0m0-80h0m1 87h0m0-24h0m1 11h0m0-42h0m1 18h0m0-15h0m0 17h0m1 5h0m0 10h0m1-42h0m0-30h0m1 72h0m0-11h0m1-11h0m0 10h0m0-12h0m1-2h0m0 9h0m1 19h0m0-2h0m1-15h0m0-15h0m0 34h0m1-17h0m0 16h0m1 4h0m0-23h0m1 7h0m0 29h0m1-35h0m0-5h0m0 30h0m1 11h0m0-8h0m1 2h0m0-25h0m1 0h0m0 26h0m0-3h0m1 6h0m0-12h0m1 12h0m0 9h0m1-37h0m0-13h0m1 23h0m0-13h0m0 34h0m1 7h0m0-63h0m1 51h0m0-34h0m1-3h0m0 27h0m1-25h0m0 9h0m0 0h0m1 42h0m0-60h0m1 10h0m0 3h0m1-5h0m0 36h0m0 1h0m1-34h0m0 4h0m1-49h0m0 45h0m1 13h0m0-40h0m1 60h0m0-40h0m0-22h0m1 36h0m0 4h0m1-11h0m0-7h0m1 31h0m0-60h0m0 28h0m1 22h0m0 19h0m1-5h0m0-61h0m1 26h0m0 16h0m1 15h0m0-65h0m0 44h0m1-25h0m0 29h0m1 28h0m0-7h0m1-31h0m0-23h0m0 3h0m1 13h0m0 48h0m1-86h0m0 0h0m1 57h0m0 2h0m1-13h0m0 11h0m0 11h0m1-18h0m0-73h0m1 36h0m0-5h0m1 17h0m0-11h0m0 51h0m1-24h0m0 0h0m1 11h0m0-41h0m1 23h0m0 55h0m1-90h0m0 38h0m0 26h0m1-80h0m0 63h0m1-80h0m0 88h0m1-10h0m0-62h0m0 65h0m1-35h0m0-15h0m1 11h0m0 25h0m1-18h0m0 8h0m1-6h0m0-31h0m0-24h0m1 27h0m0-51h0m1 51h0m0 24h0m1 65h0m0-94h0m0 30h0m1 37h0m0 8h0m1-48h0m0-35h0m1 7h0m0 13h0m1 12h0m0 30h0m0 41h0m1-69h0m0-14h0m1-9h0m0-76h0m1 99h0m0-10h0m0-2h0m1-5h0m0-18h0m1 25h0m0-70h0m1 41h0m0 3h0m1 0h0m0-58h0m0 60h0m1 10h0m0 52h0m1-88h0m0 79h0m1-51h0m0 2h0m1 31h0m0-27h0m0 21h0m1-81h0m0 61h0m1-4h0m0 56h0m1-66h0m0 10h0m0 27h0m1 42h0m0 6h0m1-17h0m0-12h0m1-13h0m0 13h0m1-3h0m0 4h0m0-51h0m1 100h0m0-33h0m1-92h0m0 23h0m1-27h0m0 67h0m0 14h0m1-150h0m0 101h0m1 12h0m0 0h0m1 26h0m0-3h0m1 19h0m0-93h0m0 46h0m1 6h0m0 9h0m1 29h0m0-65h0m1-9h0m0 81h0m0-32h0m1-20h0m0-60h0m1 96h0m0-54h0m1 107h0m0-17h0m1-35h0m0-65h0m0 50h0m1 12h0m0-3h0m1 35h0m0-67h0m1-55h0m0 19h0m0 58h0m1-6h0m0-80h0m1 124h0m0-57h0m1 63h0m0-54h0m1-34h0m0 79h0m0-26h0m1-64h0m0-11h0m1 93h0m0-69h0m1 68h0m0-93h0m0-17h0m1 96h0m0-172h0m1 182h0m0-79h0m1 73h0m0 17h0m1-66h0m0 52h0m0-7h0m1-19h0m0 30h0m1-33h0m0 25h0m1-15h0m0-33h0m0 33h0m1-20h0m0-26h0m1-49h0m0 126h0m1-19h0m0 33h0m1-52h0m0 29h0m0-25h0m1 37h0m0-36h0m1 50h0m0-13h0m1-31h0m0-2h0m0 77h0m1 2h0m0-111h0m1 87h0m0 13h0m1-34h0m0-7h0m1 19h0m0 43h0m0-46h0m1-6h0m0 44h0m1-7h0m0 15h0m1-57h0m0 48h0m1-43h0m0 4h0m0 19h0m1 3h0m0-4h0m1-4h0m0 2h0m1 16h0m0-28h0m0-1h0m1-62h0m0 77h0m1-62h0m0 46h0m1-26h0m0 55h0m1-29h0m0-9h0m0 19h0m1 36h0m0-1h0m1-33h0m0 3h0m1 23h0m0-48h0m0-24h0m1 30h0m0-7h0m1 36h0m0 16h0m1-31h0m0 16h0m1-22h0m0 54h0m0-58h0m1 30h0m0 15h0m1-50h0m0 5h0m1 18h0m0-17h0m0 11h0m1 8h0m0-16h0m1 32h0m0-52h0m1 58h0m0-57h0m1 17h0m0 14h0m0-34h0m1-6h0m0 12h0m1-4h0m0 18h0m1-16h0m0-28h0m0 20h0m1 49h0m0-10h0m1 8h0m0-47h0m1 59h0m0-57h0m1 40h0m0-45h0m0 17h0m1 1h0m0 18h0m1-28h0m0 24h0m1-56h0m0 72h0m0-49h0m1 23h0m0 5h0m1-37h0m0 53h0m1-64h0m0 6h0m1 43h0m0-15h0m0 3h0m1 23h0m0-32h0m1-10h0m0-55h0m1 98h0m0 7h0m0-24h0m1 1h0m0-30h0m1-3h0m0 18h0m1 17h0m0 15h0m1-17h0m0 1h0m0 34h0m1-55h0m0 17h0m1-3h0m0-7h0m1 6h0m0-17h0m0 22h0m1-26h0m0 7h0m1-33h0m0 54h0m1-33h0m0 50h0m1-24h0m0 8h0m0-18h0m1 12h0m0-20h0m1 44h0m0-14h0m1-37h0m0 4h0m0 25h0m1-61h0m0 13h0m1 15h0m0 15h0m1 5h0m0-34h0m1 27h0m0 13h0m0-20h0m1-19h0m0-22h0m1-6h0m0 88h0m1-58h0m0 40h0m1-4h0m0 8h0m0-60h0m1 0h0m0-10h0m1 11h0m0 22h0m1-127h0m0 106h0m0-17h0m1-1h0m0 49h0m1-46h0m0-22h0m1 43h0m0 40h0m1-30h0m0-19h0m0 25h0m1-15h0m0-21h0m1 4h0m0 70h0m1-74h0m0 21h0m0 8h0m1 36h0m0-26h0m1-40h0m0 27h0m1-53h0m0 4h0m1-38h0m0 95h0m0-7h0m1-112h0m0 53h0m1 41h0m0-25h0m1 26h0m0-74h0m0 58h0m1 7h0m0-53h0m1 50h0m0-47h0m1 19h0m0-34h0m1 78h0m0-100h0m0 40h0m1-119h0m0 154h0m1 41h0m0-29h0m1-8h0m0 6h0m0-40h0m1 33h0m0-79h0m1 61h0m0-2h0m1 13h0m0-41h0m1 83h0m0-93h0m0 48h0m1-9h0m0 12h0m1-30h0m0 33h0m1-47h0m0 63h0m0-9h0m1 23h0m0-69h0m1 1h0m0 73h0m1-25h0m0-10h0m1-10h0m0-72h0m0 66h0m1-29h0m0 47h0m1 26h0m0-37h0m1-38h0m0 79h0m0-105h0m1 97h0m0-7h0m1-71h0m0 19h0m1 21h0m0-63h0m1-5h0m0-46h0m0 43h0m1-3h0m0 103h0m1-15h0m0-49h0m1 28h0m0-62h0m0 49h0m1-14h0m0-36h0m1 118h0m0-66h0m1-32h0m0 39h0m1 22h0m0-14h0m0-29h0m1 24h0m0 10h0m1-68h0m0 90h0m1-9h0m0-3h0m1 12h0m0 9h0m0-77h0m1-3h0m0-6h0m1 62h0m0 6h0m1-89h0m0 70h0m0-3h0m1-75h0m0-2h0m1 77h0m0 0h0m1-35h0m0 34h0m1-64h0m0 57h0m0-124h0m1 145h0m0-28h0m1 41h0m0-2h0m1-17h0m0-76h0m0 84h0m1 12h0m0-32h0m1 24h0m0 4h0m1-62h0m0 102h0m1-89h0m0-73h0m0 131h0m1-46h0m0 67h0m1-10h0m0-40h0m1 43h0m0-72h0m0 6h0m1 46h0m0-149h0m1 199h0m0 8h0m1-10h0m0-84h0m1 61h0m0-18h0m0-85h0m1 55h0m0 32h0m1-18h0m0-18h0m1 32h0m0 14h0m0-10h0m1-11h0m0 22h0m1-52h0m0-9h0m1 52h0m0 9h0m1-96h0m0-54h0m0 64h0m1 72h0m0-24h0m1-2h0m0-4h0m1-33h0m0 35h0m0-45h0m1 81h0m0-60h0m1 68h0m0-84h0m1-6h0m0 13h0m1-6h0m0-6h0m0 51h0m1-50h0m0 77h0m1-96h0m0 5h0m1 91h0m0-6h0m0-21h0m1 9h0m0-8h0m1-114h0m0 24h0m1 96h0m0-133h0m1 46h0m0 62h0m0-48h0m1 0h0m0-56h0m1-2h0m0 57h0m1-74h0m0 116h0m0-95h0m1 17h0m0-4h0m1 23h0m0 7h0m1-69h0m0 78h0m1-52h0m0 43h0m0 42h0m1-10h0m0-126h0m1 19h0m0 65h0m1-14h0m0-99h0m1 97h0m0 1h0m0 8h0m1-39h0m0-45h0m1 97h0m0-100h0m1 109h0m0 8h0m0-23h0m1 8h0m0-26h0m1 40h0m0-12h0m1-38h0m0-13h0m1-10h0m0-22h0m0 26h0m1 66h0m0-31h0m1 11h0m0-56h0m1 38h0m0-20h0m0-9h0m1-12h0m0-39h0m1 40h0m0 32h0m1-20h0m0-21h0m1 53h0m0 4h0m0 19h0m1-79h0m0 76h0m1-74h0m0 17h0m1-27h0m0 51h0m0-9h0m1 26h0m0-21h0m1 1h0m0 20h0m1-29h0m0 0h0m1 70h0m0-43h0m0 41h0m1-71h0m0 93h0m1-67h0m0-1h0m1 96h0m0-25h0m0-34h0m1 14h0m0-27h0m1 30h0m0 69h0m1-68h0m0 82h0m1-63h0m0 28h0m0-31h0m1-45h0m0 93h0m1 18h0m0-26h0m1-18h0m0 9h0m0 16h0m1-8h0m0 19h0m1 9h0m0-20h0m1-37h0m0 74h0m1-28h0m0 40h0m0-49h0m1 31h0m0-19h0m1-13h0m0 9h0m1-33h0m0 58h0m0-17h0m1 0h0m0-70h0m1 75h0m0-47h0m1 0h0m0-47h0m1 34h0m0-12h0m0 47h0m1 43h0m0-57h0m1-32h0m0 27h0m1-18h0m0 36h0m0 30h0m1-57h0m0 36h0m1 0h0m0-27h0m1 20h0m0-14h0m1 2h0m0 5h0m0-16h0m1 6h0m0 45h0m1-107h0m0 80h0m1 0h0m0 2h0m1 8h0m0-3h0m0-4h0m1 7h0m0-19h0m1 53h0m0-139h0m1 65h0m0 37h0m0-15h0m1 13h0m0-25h0m1 17h0m0-9h0m1 47h0m0-66h0m1 84h0m0-12h0m0-13h0m1 14h0m0-9h0m1 23h0m0-6h0m1-63h0m0 3h0m0 38h0m1-39h0m0 40h0m1-12h0m0-50h0m1 56h0m0-29h0m1 25h0m0-3h0m0 5h0m1 5h0m0-23h0m1-30h0m0 32h0m1-39h0m0 6h0m0-33h0m1 54h0m0-90h0m1 60h0m0-8h0m1-48h0m0 61h0m1-10h0m0-33h0m0 16h0m1-14h0m0 27h0m1 32h0m0-69h0m1 6h0m0 13h0m0 20h0m1-32h0m0 46h0m1-27h0m0 15h0m1 37h0m0-43h0m1-7h0m0-20h0m0 54h0m1-66h0m0 13h0m1 18h0m0-6h0m1 2h0m0-9h0m0-16h0m1 9h0m0-13h0m1-19h0m0 19h0m1 0h0m0-77h0m1 119h0m0-7h0m0-40h0m1 45h0m0-187h0m1 145h0m0 22h0m1-54h0m0-16h0m0 51h0m1-26h0m0-99h0m1 77h0m0 4h0m1 22h0m0-17h0m1 17h0m0-15h0m0-58h0m1 55h0m0 8h0m1-9h0m0-9h0m1-29h0m0 4h0m0-26h0m1 11h0m0 12h0m1-31h0m0 37h0m1-10h0m0-13h0m1 6h0m0 47h0m0-38h0m1-11h0m0 31h0m1-28h0m0 20h0m1-25h0m0-4h0m0 47h0m1-8h0m0 3h0m1-15h0m0 15h0m1 7h0m0-37h0m1 39h0m0 41h0m0-38h0m1 7h0m0-41h0m1 25h0m0-27h0m1 54h0m0-23h0m1 20h0m0 4h0m0 11h0m1 8h0m0-68h0m1 54h0m0 10h0m1 56h0m0 37h0m0-44h0m1 1h0m0 19h0m1-56h0m0 7h0m1 58h0m0-17h0m1-57h0m0 54h0m0-46h0m1 54h0m0-28h0m1 17h0m0-64h0m1 74h0m0-9h0m0 20h0m1 5h0m0-96h0m1 33h0m0 32h0m1-20h0m0 7h0m1 4h0m0 26h0m0 14h0m1-36h0m0 36h0m1-37h0m0 44h0m1-38h0m0 7h0m0 52h0m1-39h0m0 36h0m1-49h0m0 3h0m1-11h0m0 21h0m1-22h0m0 54h0m0 1h0m1-38h0m0 46h0m1-50h0m0 47h0m1-19h0m0 30h0m0-37h0m1-7h0m0 80h0m1-29h0m0 14h0m1-68h0m0 64h0m1 6h0m0-59h0m0 16h0m1-7h0m0 35h0m1 43h0m0-102h0m1 2h0m0 21h0m0 0h0m1 18h0m0 7h0m1-23h0m0 44h0m1 24h0m0-84h0m1 51h0m0-3h0m0 5h0m1-74h0m0 36h0m1 25h0m0 27h0m1-3h0m0-18h0m0-71h0m1 47h0m0 17h0m1 11h0m0-66h0m1 51h0m0-8h0m1 50h0m0-19h0m0 3h0m1-29h0m0 15h0m1 12h0m0-23h0m1 6h0m0-4h0m0-40h0m1 88h0m0-98h0m1 31h0m0 36h0m1-12h0m0 33h0m1-19h0m0-32h0m0-10h0m1 33h0m0 24h0m1 11h0m0-14h0m1-32h0m0 50h0m1-138h0m0 90h0m0 46h0m1 2h0m0 12h0m1-101h0m0 58h0m1 58h0m0-49h0m0-57h0m1 73h0m0-43h0m1-29h0m0 55h0m1-27h0m0 46h0m1-118h0m0 92h0m0-12h0m1 21h0m0-35h0m1 2h0m0-11h0m1 6h0m0 62h0m0-41h0m1 29h0m0-67h0m1 3h0m0 16h0m1 20h0m0-186h0m1 240h0m0-54h0m0 43h0m1-103h0m0 5h0m1 62h0m0 19h0m1 8h0m0-42h0m0-1h0m1 53h0m0-17h0m1-14h0m0-33h0m1 7h0m0 93h0m1-36h0m0-182h0m0 205h0m1-106h0m0 11h0m1-3h0m0 42h0m1-42h0m0 13h0m0 40h0m1-53h0m0-46h0m1-21h0m0 35h0m1 27h0m0-113h0m1 107h0m0 2h0m0-59h0m1 26h0m0 19h0m1 2h0m0-18h0m1-78h0m0 34h0m0 50h0m1-75h0m0 90h0m1-39h0m0 50h0m1-29h0m0 42h0m1 23h0m0-12h0m0-31h0m1 34h0m0-35h0m1-5h0m0 15h0m1 19h0m0-57h0m0-46h0m1 67h0m0 24h0m1 7h0m0-89h0m1-13h0m0 74h0m1-73h0m0 9h0m0 88h0m1-30h0m0 6h0m1 9h0m0 46h0m1-97h0m0-17h0m0 94h0m1-45h0m0 9h0m1 47h0m0-35h0m1-51h0m0 38h0m1-47h0m0 63h0m0 14h0m1-73h0m0-32h0m1 6h0m0 84h0m1-108h0m0 120h0m1-24h0m0 1h0m0 22h0m1-71h0m0 14h0m1 57h0m0-54h0m1-29h0m0 25h0m0 88h0m1-90h0m0 19h0m1-11h0m0 29h0m1-43h0m0 15h0m1-9h0m0 11h0m0-51h0m1 93h0m0-38h0m1-39h0m0 63h0m1 7h0m0-62h0m0 85h0m1-69h0m0-3h0m1 15h0m0-70h0m1 66h0m0-51h0m1 65h0m0 39h0m0-33h0m1-38h0m0 56h0m1-3h0m0-47h0m1-59h0m0 58h0m0 98h0m1-47h0m0-33h0m1 5h0m0 33h0m1 54h0m0-61h0m1-18h0m0-2h0m0 72h0m1-85h0m0 82h0m1-2h0m0-2h0m1-13h0m0 40h0m0-27h0m1-24h0m0 7h0m1 58h0m0-27h0m1-70h0m0 47h0m1 29h0m0 20h0m0 20h0m1-13h0m0-18h0m1-7h0m0-45h0m1-44h0m0 24h0m0 38h0m1 21h0m0-12h0m1-35h0m0 57h0m1-10h0m0 7h0m1-34h0m0 37h0m0-22h0m1-13h0m0 47h0m1 25h0m0-90h0m1 20h0m0 72h0m0-37h0m1 15h0m0-10h0m1 42h0m0-102h0m1 64h0m0 24h0m1-44h0m0-36h0m0 51h0m1-57h0m0 108h0m1-100h0m0 19h0m1 70h0m0-8h0m0-7h0m1 20h0m0 32h0m1-36h0m0-10h0m1 36h0m0-19h0m1-8h0m0 10h0m0 0h0m1-37h0m0-98h0m1 138h0m0 6h0m1 15h0m0-79h0m1-6h0m0 43h0m0 31h0m1-18h0m0-57h0m1 16h0m0 8h0m1-31h0m0 72h0m0-41h0m1 53h0m0-29h0m1 6h0m0 28h0m1-123h0m0 88h0m1 26h0m0-43h0m0-14h0m1 43h0m0-12h0m1-21h0m0-8h0m1 26h0m0 0h0m0-6h0m1-17h0m0 55h0m1-77h0m0 32h0m1-1h0m0 8h0m1 22h0m0-52h0m0 5h0m1 27h0m0 17h0m1-33h0m0 21h0m1 26h0m0-25h0m0-21h0m1-8h0m0 33h0m1-21h0m0-45h0m1 56h0m0-57h0m1 72h0m0-38h0m0 7h0m1 1h0m0 17h0m1-8h0m0 13h0m1-11h0m0-9h0m0 41h0m1-43h0m0 45h0m1-49h0m0 17h0m1-31h0m0 54h0m1-61h0m0 37h0m0-22h0m1 16h0m0-58h0m1 51h0m0-20h0m1 35h0m0 6h0m0-11h0m1-82h0m0 60h0m1 24h0m0-13h0m1-20h0m0 54h0m1-65h0m0 37h0m0-18h0m1 19h0m0 23h0m1-30h0m0-2h0m1-45h0m0 21h0m0-53h0m1 59h0m0 14h0m1-77h0m0 77h0m1-50h0m0 38h0m1-1h0m0 24h0m0-18h0m1-36h0m0 78h0m1-13h0m0-1h0m1-1h0m0-14h0m0 9h0m1 14h0m0-22h0m1 5h0m0 10h0m1 3h0m0-12h0m1 18h0m0-84h0m0 50h0m1-6h0m0-34h0m1 4h0m0 35h0m1 15h0m0-8h0m0 7h0m1 1h0m0-52h0m1 33h0m0 27h0m1-28h0m0 31h0m1-27h0m0 24h0m0-11h0m1-9h0m0 44h0m1-15h0m0 0h0m1 4h0m0-42h0m1 19h0m0-49h0m0 29h0m1 27h0m0-26h0m1 29h0m0-22h0m1 3h0m0 15h0m0-18h0m1 14h0m0-33h0m1 23h0m0-5h0m1-8h0m0-18h0m1 65h0m0-1h0m0 10h0m1-76h0m0 55h0m1 27h0m0-25h0m1-30h0m0-115h0m0 131h0m1-41h0m0 23h0m1 21h0m0 16h0m1-16h0m0-6h0m1 16h0m0-1h0m0-37h0m1 4h0m0 58h0m1-60h0m0 27h0m1-14h0m0 0h0m0-68h0m1 57h0m0 43h0m1-64h0m0 69h0m1-34h0m0 22h0m1 17h0m0-41h0m0-44h0m1-5h0m0 72h0m1-34h0m0 23h0m1 27h0m0-70h0m0 66h0m1-44h0m0-51h0m1 28h0m0 54h0m1-8h0m0 21h0m1-31h0m0 45h0m0-63h0m1 56h0m0-5h0m1 7h0m0-20h0m1-17h0m0 9h0m0-29h0m1-12h0m0 74h0m1-26h0m0-9h0m1-42h0m0-20h0m1 101h0m0-149h0m0 67h0m1-17h0m0 31h0m1 57h0m0-47h0m1 17h0m0 3h0m0 16h0m1-6h0m0-17h0m1 19h0m0-36h0m1 24h0m0-10h0m1 11h0m0 11h0m0 1h0m1 4h0m0-7h0m1-43h0m0 66h0m1-144h0m0 76h0m0 10h0m1 34h0m0-18h0m1-61h0m0 13h0m1 24h0m0-22h0m1-15h0m0 24h0m0 3h0m1-31h0m0 11h0m1-27h0m0-44h0m1 21h0m0 28h0m1-23h0m0-46h0m0-19h0m1 8h0m0-22h0m1-55h0m0 106h0m1-47h0m0-63h0m0 86h0m1-41h0m0-21h0m1-1h0m0 46h0m1 21h0m0-75h0m1-42h0m0 78h0m0 11h0m1-26h0m0 84h0m1-140h0m0 85h0m1-48h0m0 49h0m0 38h0m1 5h0m0-53h0m1 54h0m0-52h0m1 30h0m0 5h0m1-72h0m0 59h0m0-29h0m1-4h0m0 46h0m1-4h0m0 0h0m1-66h0m0 31h0m0 60h0m1-81h0m0 2h0m1 36h0m0 19h0m1 71h0m0-19h0m1-9h0m0 43h0m0-31h0m1 25h0m0 40h0m1-15h0m0 52h0m1-103h0m0 67h0m0 17h0m1 36h0m0-25h0m1 21h0m0 11h0m1 14h0m0-4h0m1 7h0m0-2h0m0-26h0m1-12h0m0-12h0m1-4h0m0 62h0m1-32h0m0-8h0m0-41h0m1 18h0m0 6h0m1-23h0m0 55h0m1-20h0m0-5h0m1-22h0m0 10h0m0 36h0m1-58h0m0 61h0m1-25h0m0 22h0m1-37h0m0 38h0m0-1h0m1-7h0m0-5h0m1 20h0m0-12h0m1 22h0m0-6h0m1-50h0m0 64h0m0-1h0m1-42h0m0 47h0m1-8h0m0 19h0m1-81h0m0 42h0m0 10h0m1-14h0m0 2h0m1-8h0m0-2h0m1 11h0m0-19h0m1 21h0m0 17h0m0-41h0m1-39h0m0 67h0m1-22h0m0 19h0m1 8h0m0-14h0m1-24h0m0 66h0m0-43h0m1 7h0m0-23h0m1 14h0m0-11h0m1-81h0m0 104h0m0-31h0m1 26h0m0 35h0m1-17h0m0-27h0m1-18h0m0-38h0m1 66h0m0 16h0m0-18h0m1 11h0m0-1h0m1-67h0m0 42h0m1 18h0m0-14h0m0 12h0m1 0h0m0-15h0m1 13h0m0 1h0m1 10h0m0-15h0m1 13h0m0 30h0m0-37h0m1-36h0m0-6h0m1 60h0m0-31h0m1 13h0m0-3h0m0-13h0m1 23h0m0 22h0m1-14h0m0-22h0m1 4h0m0-19h0m1-21h0m0 38h0m0-16h0m1 28h0m0-34h0m1 18h0m0-6h0m1 33h0m0-36h0m0-28h0m1 40h0m0-35h0m1-45h0m0 77h0m1 4h0m0-7h0m1-79h0m0 94h0m0-40h0m1 28h0m0-12h0m1 11h0m0-5h0m1 13h0m0-54h0m0 77h0m1-16h0m0-19h0m1-9h0m0 4h0m1 33h0m0-38h0m1 27h0m0 5h0m0-33h0m1 32h0m0-14h0m1 7h0m0 7h0m1 4h0m0-23h0m0 38h0m1-14h0m0-84h0m1 81h0m0 35h0m1-57h0m0 25h0m1-7h0m0 23h0m0-10h0m1-20h0m0 19h0m1-24h0m0 27h0m1-32h0m0 6h0m0-32h0m1 41h0m0-26h0m1 19h0m0-26h0m1 30h0m0-40h0m1 12h0m0 9h0m0 36h0m1-48h0m0 16h0m1-58h0m0 25h0m1 43h0m0-28h0m1 42h0m0-59h0m0 66h0m1-25h0m0-8h0m1 27h0m0-30h0m1 24h0m0-19h0m0-6h0m1 3h0m0-1h0m1-46h0m0 28h0m1-24h0m0 55h0m1-26h0m0 23h0m0-20h0m1-5h0m0 28h0m1-21h0m0 32h0m1-48h0m0-5h0m0 27h0m1 13h0m0-45h0m1-20h0m0 26h0m1 30h0m0-1h0m1-7h0m0 19h0m0 12h0m1-11h0m0-19h0m1 10h0m0 5h0m1-33h0m0 15h0m0 9h0m1 25h0m0 12h0m1-76h0m0 69h0m1-1h0m0 8h0m1-21h0m0 16h0m0-7h0m1-13h0m0 2h0m1 13h0m0-36h0m1 25h0m0-7h0m0 19h0m1-4h0m0-25h0m1 17h0m0 27h0m1-73h0m0 38h0m1 2h0m0-8h0m0 6h0m1 14h0m0-76h0m1 54h0m0-39h0m1 76h0m0-28h0m0-18h0m1 16h0m0 30h0m1-10h0m0 24h0m1-8h0m0-21h0m1 22h0m0-3h0m0-12h0m1-16h0m0 29h0m1-14h0m0-17h0m1 5h0m0 13h0m0 14h0m1-62h0m0 51h0m1 29h0m0-51h0m1 17h0m0-35h0m1-25h0m0 41h0m0 39h0m1-30h0m0-6h0m1-29h0m0 44h0m1-27h0m0 7h0m0 14h0m1 4h0m0-35h0m1 33h0m0-18h0m1 19h0m0 1h0m1-1h0m0-18h0m0-36h0m1 32h0m0-19h0m1 8h0m0 10h0m1 12h0m0 25h0m0-18h0m1-19h0m0 45h0m1 3h0m0-22h0m1-17h0m0-17h0m1 26h0m0 9h0m0-38h0m1 48h0m0-38h0m1 14h0m0-35h0m1-13h0m0 41h0m1-33h0m0 14h0m0 29h0m1-23h0m0 21h0m1-5h0m0-32h0m1 58h0m0-22h0m0-19h0m1 7h0m0-19h0m1 26h0m0 11h0m1-28h0m0 4h0m1 25h0m0-10h0m0 9h0m1-18h0m0 21h0m1-30h0m0 49h0m1-27h0m0-12h0m0 24h0m1-47h0m0 11h0m1 20h0m0 9h0m1 4h0m0-16h0m1 4h0m0-23h0m0 35h0m1-5h0m0-29h0m1 51h0m0-4h0m1-9h0m0-88h0m0 87h0m1-34h0m0 43h0m1 6h0m0-69h0m1 64h0m0-15h0m1-7h0m0 0h0m0-20h0m1-8h0m0 26h0m1-31h0m0 36h0m1-10h0m0 2h0m0-11h0m1 9h0m0-6h0m1-41h0m0 52h0m1 12h0m0-88h0m1 6h0m0 48h0m0-12h0m1 8h0m0-30h0m1 8h0m0-63h0m1 107h0m0-33h0m0-53h0m1 69h0m0-23h0m1-100h0m0 56h0m1-3h0m0 24h0m1 24h0m0-51h0m0 40h0m1-16h0m0-32h0m1 10h0m0 24h0m1 2h0m0-34h0m0-5h0m1-87h0m0 84h0m1 0h0m0 41h0m1-29h0m0-95h0m1 76h0m0-40h0m0-1h0m1 67h0m0 26h0m1-63h0m0-42h0m1-4h0m0 68h0m0-52h0m1 31h0m0 28h0m1 26h0m0-12h0m1 22h0m0-49h0m1 10h0m0-13h0m0-26h0m1 29h0m0 27h0m1-107h0m0 86h0m1 39h0m0-142h0m1 39h0m0 46h0m0-1h0m1 62h0m0-64h0m1-22h0m0-12h0m1 77h0m0-42h0m0 13h0m1-37h0m0 98h0m1-52h0m0 46h0m1-20h0m0 7h0m1 21h0m0 10h0m0-30h0m1 16h0m0-15h0m1 12h0m0-49h0m1 7h0m0 76h0m0-65h0m1 34h0m0 35h0m1 9h0m0-70h0m1 57h0m0-45h0m1 27h0m0-50h0m0 51h0m1-4h0m0 27h0m1-39h0m0 47h0m1 14h0m0-15h0m0 25h0m1-29h0m0-2h0m1 15h0m0 12h0m1-4h0m0 14h0m1-13h0m0-42h0m0 39h0m1 2h0m0-31h0m1 0h0m0 15h0m1 14h0m0 12h0m0-5h0m1-12h0m0 24h0m1-7h0m0-12h0m1-43h0m0 64h0m1-26h0m0-22h0m0 59h0m1-57h0m0-21h0m1 65h0m0-18h0m1 8h0m0-23h0m0 23h0m1-7h0m0 20h0m1-106h0m0-11h0m1 88h0m0-35h0m1 53h0m0 0h0m0-40h0m1-2h0m0 40h0m1-14h0m0 6h0m1 16h0m0-33h0m0-17h0m1 51h0m0-14h0m1-2h0m0 10h0m1-24h0m0-36h0m1 30h0m0 11h0m0 3h0m1-11h0m0-37h0m1 55h0m0-51h0m1 56h0m0-57h0m0 21h0m1 15h0m0 19h0m1-2h0m0-34h0m1 4h0m0 34h0m1-43h0m0 24h0m0 1h0m1 22h0m0-31h0m1 19h0m0-11h0m1-17h0m0 15h0m1-16h0m0-12h0m0 31h0m1-23h0m0 24h0m1-56h0m0 76h0m1 21h0m0-52h0m0 31h0m1 8h0m0-9h0m1-15h0m0-30h0m1 22h0m0 7h0m1-11h0m0 1h0m0-24h0m1 2h0m0 17h0m1-23h0m0 15h0m1-40h0m0 41h0m0-25h0m1 31h0m0-26h0m1 26h0m0-17h0m1-14h0m0-3h0m1 29h0m0 0h0m0-15h0m1-12h0m0 53h0m1-14h0m0-37h0m1 30h0m0-4h0m0-9h0m1 2h0m0 4h0m1 17h0m0-27h0m1-16h0m0 20h0m1-1h0m0 21h0m0-25h0m1 0h0m0 1h0m1 34h0m0-29h0m1 13h0m0-56h0m0 74h0m1-23h0m0-3h0m1-2h0m0 3h0m1 13h0m0-10h0m1 4h0m0-8h0m0-29h0m1 44h0m0-24h0m1 39h0m0-3h0m1-26h0m0 23h0m0 0h0m1-15h0m0-1h0m1 6h0m0-29h0m1 11h0m0 21h0m1 27h0m0-29h0m0 15h0m1-10h0m0-46h0m1-41h0m0 50h0m1-5h0m0-29h0m0 86h0m1-13h0m0 6h0m1 31h0m0-20h0m1 14h0m0-60h0m1-22h0m0 42h0m0-31h0m1 19h0m0-6h0m1 7h0m0 27h0m1-13h0m0 5h0m0-46h0m1 27h0m0-60h0m1 18h0m0 6h0m1 38h0m0-26h0m1 52h0m0-1h0m0-58h0m1 67h0m0-35h0m1-107h0m0 90h0m1-4h0m0 50h0m1-28h0m0-31h0m0 36h0m1-19h0m0-44h0m1 24h0m0 10h0m1 15h0m0-37h0m0 67h0m1-32h0m0 5h0m1 9h0m0 2h0m1-42h0m0 26h0m1 8h0m0 7h0m0-67h0m1 33h0m0-28h0m1 2h0m0 15h0m1 33h0m0-25h0m0-25h0m1 18h0m0-8h0m1-8h0m0 39h0m1-15h0m0-15h0m1-17h0m0-43h0m0-48h0m1 33h0m0 67h0m1-23h0m0-11h0m1-40h0m0 31h0m0 0h0m1-105h0m0 99h0m1 6h0m0-57h0m1 33h0m0-10h0m1-8h0m0 2h0m0-19h0m1 40h0m0-93h0m1 76h0m0-9h0m1 11h0m0-5h0m0-14h0m1 30h0m0-120h0m1 46h0m0-55h0m1 49h0m0-103h0m1 71h0m0 61h0m0 6h0m1 36h0m0-43h0m1 36h0m0-46h0m1 53h0m0-95h0m0 75h0m1 41h0m0-63h0m1 22h0m0-38h0m1-120h0m0 84h0m1 54h0m0-45h0m0 42h0m1-41h0m0 33h0m1-14h0m0-43h0m1 39h0m0 74h0m0 31h0m1-33h0m0-58h0m1 40h0m0-11h0m1-57h0m0 57h0m1-79h0m0 54h0m0-72h0m1 34h0m0 46h0m1-22h0m0-66h0m1 108h0m0-146h0m0 66h0m1-1h0m0 41h0m1-2h0m0-28h0m1-3h0m0 20h0m1-22h0m0 66h0m0-62h0m1-7h0m0 28h0m1-70h0m0 30h0m1 70h0m0-95h0m0 58h0m1 26h0m0-103h0m1 80h0m0-35h0m1 23h0m0 42h0m1-98h0m0 50h0m0-2h0m1 29h0m0-32h0m1 5h0m0 18h0m1 3h0m0-9h0m1 26h0m0-14h0m0 5h0m1-41h0m0 29h0m1-142h0m0 120h0m1-38h0m0 23h0m0 1h0m1-83h0m0 64h0m1-8h0m0 63h0m1-46h0m0-17h0m1-98h0m0 61h0m0 119h0m1-93h0m0 54h0m1-44h0m0 2h0m1 26h0m0-20h0m0 27h0m1 3h0m0-81h0m1 59h0m0 14h0m1-22h0m0 20h0m1 13h0m0-57h0m0 51h0m1-51h0m0 23h0m1 11h0m0 10h0m1-41h0m0 24h0m0-31h0m1-14h0m0-13h0m1 9h0m0 26h0m1 70h0m0-152h0m1 102h0m0 34h0m0-33h0m1-51h0m0 13h0m1 38h0m0-10h0m1-32h0m0 69h0m0-132h0m1 160h0m0-53h0m1-16h0m0 33h0m1-7h0m0-16h0m1-47h0m0 85h0m0 33h0m1-39h0m0-18h0m1-4h0m0-46h0m1-111h0m0 183h0m0-57h0m1 15h0m0 72h0m1-33h0m0-35h0m1-42h0m0 9h0m1 24h0m0 70h0m0-23h0m1 22h0m0-28h0m1 32h0m0-104h0m1 64h0m0-67h0m0 13h0m1-14h0m0 89h0m1-98h0m0 0h0m1 71h0m0 48h0m1-45h0m0-24h0m0-58h0m1 64h0m0-22h0m1-8h0m0-2h0m1 28h0m0-73h0m0 109h0m1-25h0m0-78h0m1-6h0m0 117h0m1-46h0m0-20h0m1 70h0m0-22h0m0 47h0m1-110h0m0 79h0m1 1h0m0-59h0m1 94h0m0-12h0m1-40h0m0 11h0m0-2h0m1 30h0m0-101h0m1 52h0m0 58h0m1-71h0m0 70h0m0-2h0m1-5h0m0-48h0m1 92h0m0-50h0m1 26h0m0-14h0m1 14h0m0 1h0m0-50h0m1 86h0m0-71h0m1 57h0m0 9h0m1-17h0m0-40h0m0 9h0m1 25h0m0 13h0m1 5h0m0 4h0m1-5h0m0 8h0m1-7h0m0-39h0m0-15h0m1 12h0m0 18h0m1 50h0m0 17h0m1-35h0m0 36h0m0-19h0m1 1h0m0-2h0m1-35h0m0 77h0m1-10h0m0 0h0m1-49h0m0 6h0m0 8h0m1 24h0m0-14h0m1-18h0m0 15h0m1 3h0m0-5h0m0-39h0m1 38h0m0-13h0m1 11h0m0 48h0m1-76h0m0 27h0m1-22h0m0 31h0m0 6h0m1-56h0m0 37h0m1 31h0m0 15h0m1-11h0m0-65h0m0 88h0m1-35h0m0 22h0m1 1h0m0 37h0m1-57h0m0 33h0m1 9h0m0-11h0m0 12h0m1-17h0m0 53h0m1-63h0m0 39h0m1-3h0m0 1h0m0-10h0m1 21h0m0-13h0m1 12h0m0-113h0m1 77h0m0 77h0m1-79h0m0 39h0m0-11h0m1-68h0m0 97h0m1-35h0m0 25h0m1-34h0m0 27h0m0 25h0m1-19h0m0-43h0m1 18h0m0 35h0m1 28h0m0 5h0m1-14h0m0-12h0m0 20h0m1-14h0m0-63h0m1 92h0m0-35h0m1 55h0m0-62h0m1 6h0m0-34h0m0 51h0m1-24h0m0-25h0m1 7h0m0 31h0m1-59h0m0 66h0m0-34h0m1 44h0m0 7h0m1 14h0m0 5h0m1 21h0m0-76h0m1 46h0m0-7h0m0 23h0m1-4h0m0-44h0m1 70h0m0-9h0m1-7h0m0 8h0m0-35h0m1-4h0m0-16h0m1 58h0m0-29h0m1 23h0m0-42h0m1 30h0m0-2h0m0-37h0m1 31h0m0-18h0m1 16h0m0-16h0m1 16h0m0-54h0m0 14h0m1 6h0m0 24h0m1-29h0m0-64h0m1 82h0m0 2h0m1-9h0m0 12h0m0 1h0m1-5h0m0 5h0m1 8h0m0 9h0m1-43h0m0 1h0m0 14h0m1 1h0m0 49h0m1-19h0m0-30h0m1 43h0m0-17h0m1-44h0m0 12h0m0-22h0m1 15h0m0 30h0m1 8h0m0 10h0m1 1h0m0 0h0m0 2h0m1-32h0m0 0h0m1-16h0m0-63h0m1 104h0m0 16h0m1-16h0m0 7h0m0-14h0m1 9h0m0-27h0m1 23h0m0-10h0m1 24h0m0-24h0m0 22h0m1 2h0m0 12h0m1-26h0m0-9h0m1 38h0m0-23h0m1-19h0m0 12h0m0-3h0m1 18h0m0-25h0m1 37h0m0-15h0m1-20h0m0-1h0m0-25h0m1 28h0m0 4h0m1 18h0m0 8h0m1-11h0m0-24h0m1-7h0m0 2h0m0 5h0m1 44h0m0-62h0m1 18h0m0 10h0m1-46h0m0 46h0m1 21h0m0-8h0m0-52h0m1-13h0m0 36h0m1-36h0m0 75h0m1-34h0m0-76h0m0 62h0m1 43h0m0-67h0m1-39h0m0 40h0m1-32h0m0 8h0m1 35h0m0 6h0m0-56h0m1 49h0m0-141h0m1 110h0m0-56h0m1 55h0m0-62h0m0-39h0m1 107h0m0-110h0m1 65h0m0 45h0m1-4h0m0-76h0m1 40h0m0-8h0m0-21h0m1-7h0m0 0h0m1 6h0m0 66h0m1-46h0m0-71h0m0 91h0m1-40h0m0 20h0m1-31h0m0 95h0m1-86h0m0 34h0m1-80h0m0 62h0m0-107h0m1 37h0m0 76h0m1-44h0m0 5h0m1-91h0m0 23h0m0 63h0m1 18h0m0-40h0m1 90h0m0-97h0m1 13h0m0 29h0m1-116h0m0-85h0m0 150h0m1-26h0m0 47h0m1-41h0m0-53h0m1 25h0m0 72h0m0-2h0m1-34h0m0-55h0m1 95h0m0 9h0m1-31h0m0-56h0m1 13h0m0 16h0m0-119h0m1 147h0m0-9h0m1-41h0m0-24h0m1-16h0m0-22h0m0 74h0m1 82h0m0-23h0m1-18h0m0-10h0m1 50h0m0 6h0m1-57h0m0-37h0m0-23h0m1 89h0m0-42h0m1 27h0m0-99h0m1 67h0m0 98h0m0-11h0m1 11h0m0-57h0m1-15h0m0 33h0m1-22h0m0 67h0m1 8h0m0-6h0m0 19h0m1-1h0m0 39h0m1-18h0m0-21h0m1 29h0m0 23h0m0-118h0m1 94h0m0-22h0m1 3h0m0 12h0m1 11h0m0 15h0m1 5h0m0-20h0m0-20h0m1 17h0m0 31h0m1 12h0m0 22h0m1-73h0m0 37h0m1-9h0m0 11h0m0 34h0m1 6h0m0-67h0m1 44h0m0-10h0m1 12h0m0 26h0m0-53h0m1 38h0m0 20h0m1-39h0m0 26h0m1-19h0m0-61h0m1 67h0m0-44h0m0 40h0m1-4h0m0-15h0m1 18h0m0 8h0m1 28h0m0 1h0m0-19h0m1-112h0m0 78h0m1 19h0m0-41h0m1-48h0m0 55h0m1 9h0m0-22h0m0 28h0m1 1h0m0 17h0m1-12h0m0-5h0m1-16h0m0 41h0m0-28h0m1-34h0m0 54h0m1-35h0m0 64h0m1-93h0m0 56h0m1 22h0m0-2h0m0-2h0m1-18h0m0 47h0m1-39h0m0-36h0m1 29h0m0-26h0m0-11h0m1 7h0m0 17h0m1 33h0m0-13h0m1 9h0m0 21h0m1-21h0m0 18h0m0-16h0m1 12h0m0 15h0m1-40h0m0 17h0m1-25h0m0-1h0m0 17h0m1-32h0m0 1h0m1 13h0m0 6h0m1-18h0m0 5h0m1 50h0m0-51h0m0 26h0m1-22h0m0 41h0m1 5h0m0-12h0m1-2h0m0 30h0m0-38h0m1 30h0m0-64h0m1 54h0m0 0h0m1 20h0m0-40h0m1-20h0m0 22h0m0-25h0m1 62h0m0-52h0m1 36h0m0-8h0m1-3h0m0-49h0m0-24h0m1 84h0m0-31h0m1-13h0m0 25h0m1-13h0m0 43h0m1-63h0m0 20h0m0 31h0m1-54h0m0 29h0m1 20h0m0-51h0m1 55h0m0-22h0m1 27h0m0-44h0m0-101h0m1 77h0m0 26h0m1-28h0m0 34h0m1 15h0m0-28h0m0-19h0m1 9h0m0 15h0m1-19h0m0 47h0m1-174h0m0 119h0m1-34h0m0 87h0m0-34h0m1-16h0m0 37h0m1 16h0m0-52h0m1 13h0m0 8h0m0-4h0m1-38h0m0 40h0m1 5h0m0-8h0m1-29h0m0 23h0m1 10h0m0 13h0m0-51h0m1 15h0m0-12h0m1-64h0m0 103h0m1-35h0m0 12h0m0-29h0m1 41h0m0-47h0m1 32h0m0-6h0m1 10h0m0-10h0m1-12h0m0-31h0m0-8h0m1 29h0m0 37h0m1-99h0m0 86h0m1 13h0m0 31h0m0-54h0m1 18h0m0 32h0m1-30h0m0 20h0m1-78h0m0 74h0m1 39h0m0-42h0m0-38h0m1 36h0m0-42h0m1 71h0m0-20h0m1-25h0m0 35h0m0-2h0m1-57h0m0 18h0m1-36h0m0 7h0m1 58h0m0 40h0m1-163h0m0 120h0m0-9h0m1-17h0m0 38h0m1 2h0m0-41h0m1-46h0m0 23h0m0 85h0m1-22h0m0-32h0m1 28h0m0-37h0m1 46h0m0-12h0m1 7h0m0-3h0m0-11h0m1-54h0m0-10h0m1-105h0m0 116h0m1 50h0m0-24h0m0 32h0m1-84h0m0 32h0m1-37h0m0 44h0m1 26h0m0-90h0m1 107h0m0-15h0m0-120h0m1 41h0m0 69h0m1-75h0m0 4h0m1-97h0m0-25h0m1 123h0m0 26h0m0 26h0m1-38h0m0-3h0m1-12h0m0 38h0m1-26h0m0-21h0m0 33h0m1-42h0m0-23h0m1-1h0m0 14h0m1 28h0m0 24h0m1-94h0m0-5h0m0 65h0m1-79h0m0 73h0m1-24h0m0-51h0m1 37h0m0 67h0m0-31h0m1-96h0m0 105h0m1 35h0m0-27h0m1-52h0m0 42h0m1-22h0m0-42h0m0 13h0m1 2h0m0-8h0m1 17h0m0-23h0m1-24h0m0 101h0m0-29h0m1 73h0m0-100h0m1-42h0m0 96h0m1-117h0m0 54h0m1-35h0m0-6h0m0 84h0m1 2h0m0-76h0m1 19h0m0 57h0m1-33h0m0-81h0m0 42h0m1-16h0m0 73h0m1-60h0m0 55h0m1 11h0m0-2h0m1 46h0m0-43h0m0-68h0m1 102h0m0-81h0m1 87h0m0-13h0m1-80h0m0 5h0m0 89h0m1-23h0m0 34h0m1-93h0m0 57h0m1 31h0m0-9h0m1 38h0m0 10h0m0 18h0m1-18h0m0-39h0m1 44h0m0-68h0m1-70h0m0 112h0m0-19h0m1 25h0m0-1h0m1 39h0m0-62h0m1 40h0m0 12h0m1 6h0m0-20h0m0 22h0m1-73h0m0 65h0m1-4h0m0 48h0m1-40h0m0 10h0m0 3h0m1 9h0m0-28h0m1 14h0m0-14h0m1 33h0m0-8h0m1-11h0m0 11h0m0 21h0m1-25h0m0 12h0m1 22h0m0 7h0m1-2h0m0-59h0m1 10h0m0 28h0m0-22h0m1 36h0m0-5h0m1-13h0m0-21h0m1 48h0m0-38h0m0-8h0m1-2h0m0-25h0m1 71h0m0-12h0m1 24h0m0-31h0m1 17h0m0-3h0m0-69h0m1-5h0m0 75h0m1-4h0m0-1h0m1-36h0m0 41h0m0-8h0m1-16h0m0-1h0m1 21h0m0-50h0m1 59h0m0 4h0m1-67h0m0 36h0m0-5h0m1 0h0m0 6h0m1-43h0m0 10h0m1 25h0m0-69h0m0-38h0m1 85h0m0 9h0m1-111h0m0-28h0m1 55h0m0 58h0m1-19h0m0-41h0m0 32h0m1-71h0m0 40h0m1-47h0m0-103h0m1 158h0m0 41h0m0-53h0m1-31h0m0 88h0m1-87h0m-2225-182h0m1 20h0m6 15h0m46-33h0m2 24h0m7 21h0m-1 26h0m51-83h0m6 34h0m-6 24h0m6 34h0m-6 23h0m5 49h0m87-129h0m0 21h0m-3 22h0m2 15h0m8 19h0m-10 21h0m5 23h0m-1 24h0m95-80h0m0 40h0m5 30h0m2 35h0m-10 25h0m6 22h0m59-96h0m0 34h0m-1 7h0m5 32h0m-9 36h0m58-95h0m-8 42h0m-2 13h0m3 29h0m50-87h0m0 26h0m-4 44h0m3 9h0m401-224h0m4 49h0m-8 10h0m5 48h0m0 32h0m64-63h0m0 38h0m4 71h0m-1 28h0m84-159h0m-4 34h0m9 23h0m-11 15h0m4 36h0m-3 19h0m10 35h0m-11 10h0m63-272h0m2 24h0m-6 42h0m5 6h0m-4 42h0m95-105h0m-6 2h0m-3 28h0m5 42h0m4 26h0m100 22h0m5 31h0m0 12h0m-7 45h0m0 29h0m5 9h0m-1 34h0m4 20h0m188-291h0m-4 18h0m-3 41h0m2 18h0m-1 28h0m0 26h0m2 22h0m2 32h0m209-69h0m-3 17h0m1 29h0m-3 48h0m-3 20h0m8 11h0m125-130h0m1 51h0m-2 10h0m-4 42h0m-3 35h0m1 24h0m227-173h0m0 43h0m8 36h0m-9 33h0m7 35h0m-3 20h0m164-220h0m-8 43h0m-1 23h0m0 47h0m5 40h0m-5 47h0m64-145h0m0 30h0m-6 48h0m3 39h0m-7 26h0" stroke="#0000ff" stroke-width="14.5" stroke-linecap="square" fill="none"/></g>
<rect x="65" y="40.1" width="241.7" height="107.3" fill="none" stroke="#000" stroke-width="1.6"/>
<text transform="translate(56.2 152.4) scale(1 1.087)" font-size="13.5" text-anchor="end">0</text>
<text transform="translate(56.2 130.94) scale(1 1.087)" font-size="13.5" text-anchor="end">0.2</text>
<text transform="translate(56.2 109.48) scale(1 1.087)" font-size="13.5" text-anchor="end">0.4</text>
<text transform="translate(56.2 88.02) scale(1 1.087)" font-size="13.5" text-anchor="end">0.6</text>
<text transform="translate(56.2 66.56) scale(1 1.087)" font-size="13.5" text-anchor="end">0.8</text>
<path transform="translate(48.69 45.1) scale(0.00659 -0.00686)" d="M763 0H583V1147Q518 1085 412.5 1023Q307 961 223 930V1104Q374 1175 487 1276Q600 1377 647 1472H763Z"/>
<text transform="translate(1.6 44.2) scale(1 1.052)" font-size="13.4" text-anchor="start">(a)</text>
<text transform="translate(12.9 93.75) rotate(-90) scale(1.087 1.03)" font-size="13.5" text-anchor="middle">f</text>
<text transform="translate(297.4 141.4) scale(1 1.064)" font-size="13.8" text-anchor="end">N = 3</text>
<rect x="65" y="166.7" width="241.7" height="116.2" fill="none" stroke="#000" stroke-width="1.6"/>
<text transform="translate(56.2 287.9) scale(1 1.087)" font-size="13.5" text-anchor="end">0</text>
<text transform="translate(56.2 264.66) scale(1 1.087)" font-size="13.5" text-anchor="end">0.2</text>
<text transform="translate(56.2 241.42) scale(1 1.087)" font-size="13.5" text-anchor="end">0.4</text>
<text transform="translate(56.2 218.18) scale(1 1.087)" font-size="13.5" text-anchor="end">0.6</text>
<text transform="translate(56.2 194.94) scale(1 1.087)" font-size="13.5" text-anchor="end">0.8</text>
<path transform="translate(48.69 171.7) scale(0.00659 -0.00686)" d="M763 0H583V1147Q518 1085 412.5 1023Q307 961 223 930V1104Q374 1175 487 1276Q600 1377 647 1472H763Z"/>
<text transform="translate(1.6 173.9) scale(1 1.052)" font-size="13.4" text-anchor="start">(b)</text>
<text transform="translate(12.9 224.8) rotate(-90) scale(1.087 1.03)" font-size="13.5" text-anchor="middle">f</text>
<text transform="translate(297.4 275.8) scale(1 1.064)" font-size="13.8" text-anchor="end">N = 6</text>
<rect x="65" y="303.1" width="241.7" height="116.7" fill="none" stroke="#000" stroke-width="1.6"/>
<text transform="translate(56.2 424.8) scale(1 1.087)" font-size="13.5" text-anchor="end">0</text>
<text transform="translate(56.2 401.46) scale(1 1.087)" font-size="13.5" text-anchor="end">0.2</text>
<text transform="translate(56.2 378.12) scale(1 1.087)" font-size="13.5" text-anchor="end">0.4</text>
<text transform="translate(56.2 354.78) scale(1 1.087)" font-size="13.5" text-anchor="end">0.6</text>
<text transform="translate(56.2 331.44) scale(1 1.087)" font-size="13.5" text-anchor="end">0.8</text>
<path transform="translate(48.69 308.1) scale(0.00659 -0.00686)" d="M763 0H583V1147Q518 1085 412.5 1023Q307 961 223 930V1104Q374 1175 487 1276Q600 1377 647 1472H763Z"/>
<text transform="translate(1.6 308) scale(1 1.052)" font-size="13.4" text-anchor="start">(c)</text>
<text transform="translate(12.9 361.45) rotate(-90) scale(1.087 1.03)" font-size="13.5" text-anchor="middle">f</text>
<text transform="translate(297.4 412.8) scale(1 1.064)" font-size="13.8" text-anchor="end">N = 3</text>
<rect x="65" y="439.9" width="241.7" height="104.6" fill="none" stroke="#000" stroke-width="1.6"/>
<text transform="translate(56.2 549.5) scale(1 1.087)" font-size="13.5" text-anchor="end">0</text>
<text transform="translate(56.2 528.58) scale(1 1.087)" font-size="13.5" text-anchor="end">0.2</text>
<text transform="translate(56.2 507.66) scale(1 1.087)" font-size="13.5" text-anchor="end">0.4</text>
<text transform="translate(56.2 486.74) scale(1 1.087)" font-size="13.5" text-anchor="end">0.6</text>
<text transform="translate(56.2 465.82) scale(1 1.087)" font-size="13.5" text-anchor="end">0.8</text>
<path transform="translate(48.69 444.9) scale(0.00659 -0.00686)" d="M763 0H583V1147Q518 1085 412.5 1023Q307 961 223 930V1104Q374 1175 487 1276Q600 1377 647 1472H763Z"/>
<text transform="translate(1.6 444.9) scale(1 1.052)" font-size="13.4" text-anchor="start">(d)</text>
<text transform="translate(12.9 492.2) rotate(-90) scale(1.087 1.03)" font-size="13.5" text-anchor="middle">f</text>
<text transform="translate(297.4 454.5) scale(1 1.064)" font-size="13.8" text-anchor="end">N = 6</text>
<text transform="translate(67.6 31.3) scale(1 1.087)" font-size="13.5" text-anchor="middle">0</text>
<text transform="translate(67.6 563) scale(1 1.087)" font-size="13.5" text-anchor="middle">0</text>
<path transform="translate(97.17 31.3) scale(0.00659 -0.00686)" d="M763 0H583V1147Q518 1085 412.5 1023Q307 961 223 930V1104Q374 1175 487 1276Q600 1377 647 1472H763Z"/>
<text transform="translate(104.68 31.3) scale(1 1.087)" font-size="13.5" text-anchor="start">0000</text>
<path transform="translate(97.17 563) scale(0.00659 -0.00686)" d="M763 0H583V1147Q518 1085 412.5 1023Q307 961 223 930V1104Q374 1175 487 1276Q600 1377 647 1472H763Z"/>
<text transform="translate(104.68 563) scale(1 1.087)" font-size="13.5" text-anchor="start">0000</text>
<text transform="translate(164.28 31.3) scale(1 1.087)" font-size="13.5" text-anchor="middle">20000</text>
<text transform="translate(164.28 563) scale(1 1.087)" font-size="13.5" text-anchor="middle">20000</text>
<text transform="translate(212.62 31.3) scale(1 1.087)" font-size="13.5" text-anchor="middle">30000</text>
<text transform="translate(212.62 563) scale(1 1.087)" font-size="13.5" text-anchor="middle">30000</text>
<text transform="translate(260.96 31.3) scale(1 1.087)" font-size="13.5" text-anchor="middle">40000</text>
<text transform="translate(260.96 563) scale(1 1.087)" font-size="13.5" text-anchor="middle">40000</text>
<text transform="translate(309.3 31.3) scale(1 1.087)" font-size="13.5" text-anchor="middle">50000</text>
<text transform="translate(309.3 563) scale(1 1.087)" font-size="13.5" text-anchor="middle">50000</text>
<text transform="translate(185.9 10.3) scale(1 1.087)" font-size="13.5" text-anchor="middle">t</text>
<text transform="translate(185.9 584.3) scale(1 1.087)" font-size="13.5" text-anchor="middle">t</text>
<path d="M435.94 235.1v-4M435.94 15.1v4M461.75 235.1v-4M461.75 15.1v4M480.07 235.1v-4M480.07 15.1v4M494.28 235.1v-4M494.28 15.1v4M505.89 235.1v-4M505.89 15.1v4M515.71 235.1v-4M515.71 15.1v4M524.21 235.1v-4M524.21 15.1v4M531.71 235.1v-4M531.71 15.1v4M538.42 235.1v-8M538.42 15.1v8M582.55 235.1v-4M582.55 15.1v4M608.37 235.1v-4M608.37 15.1v4M626.69 235.1v-4M626.69 15.1v4M391.8 230.41h4M640.9 230.41h-4M391.8 226.21h8M640.9 226.21h-8M391.8 198.59h4M640.9 198.59h-4M391.8 182.44h4M640.9 182.44h-4M391.8 170.97h4M640.9 170.97h-4M391.8 162.08h4M640.9 162.08h-4M391.8 154.82h4M640.9 154.82h-4M391.8 148.68h4M640.9 148.68h-4M391.8 143.35h4M640.9 143.35h-4M391.8 138.66h4M640.9 138.66h-4M391.8 134.46h8M640.9 134.46h-8M391.8 106.85h4M640.9 106.85h-4M391.8 90.69h4M640.9 90.69h-4M391.8 79.23h4M640.9 79.23h-4M391.8 70.34h4M640.9 70.34h-4M391.8 63.07h4M640.9 63.07h-4M391.8 56.93h4M640.9 56.93h-4M391.8 51.61h4M640.9 51.61h-4M391.8 46.92h4M640.9 46.92h-4M391.8 42.72h8M640.9 42.72h-8" stroke="#000" stroke-width="1.4" fill="none"/>
<path d="M391.8 25.2L640.9 222.3" stroke="#0000ff" stroke-width="1.7" stroke-dasharray="5.4 3.25" stroke-dashoffset="2.1" fill="none"/>
<circle cx="435.4" cy="60.1" r="3.4" fill="none" stroke="#0000ff" stroke-width="1.6"/>
<rect x="434.7" y="59.4" width="1.4" height="1.4" fill="#0000ff"/>
<circle cx="505.5" cy="114.2" r="3.4" fill="none" stroke="#0000ff" stroke-width="1.6"/>
<rect x="504.8" y="113.5" width="1.4" height="1.4" fill="#0000ff"/>
<circle cx="538.1" cy="138.8" r="3.4" fill="none" stroke="#0000ff" stroke-width="1.6"/>
<rect x="537.4" y="138.1" width="1.4" height="1.4" fill="#0000ff"/>
<circle cx="559.5" cy="177" r="3.4" fill="none" stroke="#0000ff" stroke-width="1.6"/>
<rect x="558.8" y="176.3" width="1.4" height="1.4" fill="#0000ff"/>
<circle cx="575.7" cy="163.6" r="3.4" fill="none" stroke="#0000ff" stroke-width="1.6"/>
<rect x="575" y="162.9" width="1.4" height="1.4" fill="#0000ff"/>
<circle cx="608.3" cy="197.3" r="3.4" fill="none" stroke="#0000ff" stroke-width="1.6"/>
<rect x="607.6" y="196.6" width="1.4" height="1.4" fill="#0000ff"/>
<rect x="391.8" y="15.1" width="249.1" height="220" fill="none" stroke="#000" stroke-width="1.6"/>
<text transform="translate(363.45 11.4) scale(1 1.021)" font-size="13.95" text-anchor="start">(e)</text>
<text transform="translate(626.6 41.6) scale(1 1.049)" font-size="13.85" text-anchor="end">BD, N = 3</text>
<path transform="translate(361.68 49.22) scale(0.00618 -0.00686)" d="M763 0H583V1147Q518 1085 412.5 1023Q307 961 223 930V1104Q374 1175 487 1276Q600 1377 647 1472H763Z"/>
<text transform="translate(368.71 49.22) scale(1 1.16)" font-size="12.65" text-anchor="start">0</text>
<text transform="translate(377.2 42.22) scale(1 1.027)" font-size="10.9" text-anchor="start">0</text>
<path transform="translate(355.48 140.96) scale(0.00618 -0.00686)" d="M763 0H583V1147Q518 1085 412.5 1023Q307 961 223 930V1104Q374 1175 487 1276Q600 1377 647 1472H763Z"/>
<text transform="translate(362.51 140.96) scale(1 1.16)" font-size="12.65" text-anchor="start">0</text>
<rect x="371" y="130.51" width="5.3" height="1.05" fill="#000"/>
<path transform="translate(376.4 133.96) scale(0.00532 -0.00523)" d="M763 0H583V1147Q518 1085 412.5 1023Q307 961 223 930V1104Q374 1175 487 1276Q600 1377 647 1472H763Z"/>
<path transform="translate(355.48 232.71) scale(0.00618 -0.00686)" d="M763 0H583V1147Q518 1085 412.5 1023Q307 961 223 930V1104Q374 1175 487 1276Q600 1377 647 1472H763Z"/>
<text transform="translate(362.51 232.71) scale(1 1.16)" font-size="12.65" text-anchor="start">0</text>
<rect x="371" y="222.26" width="5.3" height="1.05" fill="#000"/>
<text transform="translate(376.7 225.71) scale(1 1.027)" font-size="10.9" text-anchor="start">2</text>
<path transform="translate(381.48 255.1) scale(0.00618 -0.00686)" d="M763 0H583V1147Q518 1085 412.5 1023Q307 961 223 930V1104Q374 1175 487 1276Q600 1377 647 1472H763Z"/>
<text transform="translate(388.51 255.1) scale(1 1.16)" font-size="12.65" text-anchor="start">0</text>
<text transform="translate(396.35 248.1) scale(1 1.027)" font-size="10.9" text-anchor="start">2</text>
<path transform="translate(528.13 255.1) scale(0.00618 -0.00686)" d="M763 0H583V1147Q518 1085 412.5 1023Q307 961 223 930V1104Q374 1175 487 1276Q600 1377 647 1472H763Z"/>
<text transform="translate(535.16 255.1) scale(1 1.16)" font-size="12.65" text-anchor="start">0</text>
<text transform="translate(543.25 248.1) scale(1 1.027)" font-size="10.9" text-anchor="start">3</text>
<text transform="translate(347.65 125.1) rotate(-90) scale(0.945 1.11)" font-size="13.5" text-anchor="middle">F</text>
<text transform="translate(511.15 273.5) scale(1 1.12)" font-size="13.5" text-anchor="start">t</text>
<text transform="translate(515.15 277.7) scale(1 1.046)" font-size="10.7" text-anchor="start">p</text>
<path d="M466.79 530.4v-4M466.79 310.3v4M510.65 530.4v-4M510.65 310.3v4M541.77 530.4v-4M541.77 310.3v4M565.91 530.4v-4M565.91 310.3v4M585.64 530.4v-4M585.64 310.3v4M602.31 530.4v-4M602.31 310.3v4M616.76 530.4v-4M616.76 310.3v4M629.5 530.4v-4M629.5 310.3v4M391.8 497.27h4M640.9 497.27h-4M391.8 477.89h4M640.9 477.89h-4M391.8 464.14h4M640.9 464.14h-4M391.8 453.48h4M640.9 453.48h-4M391.8 444.76h4M640.9 444.76h-4M391.8 437.4h4M640.9 437.4h-4M391.8 431.01h4M640.9 431.01h-4M391.8 425.39h4M640.9 425.39h-4M391.8 420.35h8M640.9 420.35h-8M391.8 387.22h4M640.9 387.22h-4M391.8 367.84h4M640.9 367.84h-4M391.8 354.09h4M640.9 354.09h-4M391.8 343.43h4M640.9 343.43h-4M391.8 334.71h4M640.9 334.71h-4M391.8 327.35h4M640.9 327.35h-4M391.8 320.96h4M640.9 320.96h-4M391.8 315.34h4M640.9 315.34h-4" stroke="#000" stroke-width="1.4" fill="none"/>
<path d="M391.8 358L640.9 487.3" stroke="#0000ff" stroke-width="1.7" stroke-dasharray="5.4 3.22" stroke-dashoffset="1" fill="none"/>
<circle cx="415.6" cy="373.2" r="3.4" fill="none" stroke="#0000ff" stroke-width="1.6"/>
<rect x="414.9" y="372.5" width="1.4" height="1.4" fill="#0000ff"/>
<circle cx="452.1" cy="385.9" r="3.4" fill="none" stroke="#0000ff" stroke-width="1.6"/>
<rect x="451.4" y="385.2" width="1.4" height="1.4" fill="#0000ff"/>
<circle cx="479.2" cy="403.5" r="3.4" fill="none" stroke="#0000ff" stroke-width="1.6"/>
<rect x="478.5" y="402.8" width="1.4" height="1.4" fill="#0000ff"/>
<circle cx="500.7" cy="398.5" r="3.4" fill="none" stroke="#0000ff" stroke-width="1.6"/>
<rect x="500" y="397.8" width="1.4" height="1.4" fill="#0000ff"/>
<circle cx="519.1" cy="456" r="3.4" fill="none" stroke="#0000ff" stroke-width="1.6"/>
<rect x="518.4" y="455.3" width="1.4" height="1.4" fill="#0000ff"/>
<circle cx="534.5" cy="442.3" r="3.4" fill="none" stroke="#0000ff" stroke-width="1.6"/>
<rect x="533.8" y="441.6" width="1.4" height="1.4" fill="#0000ff"/>
<circle cx="560.2" cy="456" r="3.4" fill="none" stroke="#0000ff" stroke-width="1.6"/>
<rect x="559.5" y="455.3" width="1.4" height="1.4" fill="#0000ff"/>
<circle cx="571" cy="442.3" r="3.4" fill="none" stroke="#0000ff" stroke-width="1.6"/>
<rect x="570.3" y="441.6" width="1.4" height="1.4" fill="#0000ff"/>
<rect x="391.8" y="310.3" width="249.1" height="220.1" fill="none" stroke="#000" stroke-width="1.6"/>
<text transform="translate(363.6 291.7) scale(1 1.021)" font-size="13.95" text-anchor="start">(f)</text>
<text transform="translate(626.6 336.7) scale(1 1.049)" font-size="13.85" text-anchor="end">BD, N = 6</text>
<path transform="translate(361.68 316.8) scale(0.00618 -0.00686)" d="M763 0H583V1147Q518 1085 412.5 1023Q307 961 223 930V1104Q374 1175 487 1276Q600 1377 647 1472H763Z"/>
<text transform="translate(368.71 316.8) scale(1 1.16)" font-size="12.65" text-anchor="start">0</text>
<text transform="translate(377.2 309.8) scale(1 1.027)" font-size="10.9" text-anchor="start">0</text>
<path transform="translate(355.48 426.85) scale(0.00618 -0.00686)" d="M763 0H583V1147Q518 1085 412.5 1023Q307 961 223 930V1104Q374 1175 487 1276Q600 1377 647 1472H763Z"/>
<text transform="translate(362.51 426.85) scale(1 1.16)" font-size="12.65" text-anchor="start">0</text>
<rect x="371" y="416.4" width="5.3" height="1.05" fill="#000"/>
<path transform="translate(376.4 419.85) scale(0.00532 -0.00523)" d="M763 0H583V1147Q518 1085 412.5 1023Q307 961 223 930V1104Q374 1175 487 1276Q600 1377 647 1472H763Z"/>
<path transform="translate(355.48 536.9) scale(0.00618 -0.00686)" d="M763 0H583V1147Q518 1085 412.5 1023Q307 961 223 930V1104Q374 1175 487 1276Q600 1377 647 1472H763Z"/>
<text transform="translate(362.51 536.9) scale(1 1.16)" font-size="12.65" text-anchor="start">0</text>
<rect x="371" y="526.45" width="5.3" height="1.05" fill="#000"/>
<text transform="translate(376.7 529.9) scale(1 1.027)" font-size="10.9" text-anchor="start">2</text>
<path transform="translate(381.48 550.4) scale(0.00618 -0.00686)" d="M763 0H583V1147Q518 1085 412.5 1023Q307 961 223 930V1104Q374 1175 487 1276Q600 1377 647 1472H763Z"/>
<text transform="translate(388.51 550.4) scale(1 1.16)" font-size="12.65" text-anchor="start">0</text>
<text transform="translate(396.35 543.4) scale(1 1.027)" font-size="10.9" text-anchor="start">2</text>
<path transform="translate(630.63 550.4) scale(0.00618 -0.00686)" d="M763 0H583V1147Q518 1085 412.5 1023Q307 961 223 930V1104Q374 1175 487 1276Q600 1377 647 1472H763Z"/>
<text transform="translate(637.66 550.4) scale(1 1.16)" font-size="12.65" text-anchor="start">0</text>
<text transform="translate(645.75 543.4) scale(1 1.027)" font-size="10.9" text-anchor="start">3</text>
<text transform="translate(347.65 420.35) rotate(-90) scale(0.945 1.11)" font-size="13.5" text-anchor="middle">F</text>
<text transform="translate(511.15 568.8) scale(1 1.12)" font-size="13.5" text-anchor="start">t</text>
<text transform="translate(515.15 573) scale(1 1.046)" font-size="10.7" text-anchor="start">p</text>
</svg></body></html>
